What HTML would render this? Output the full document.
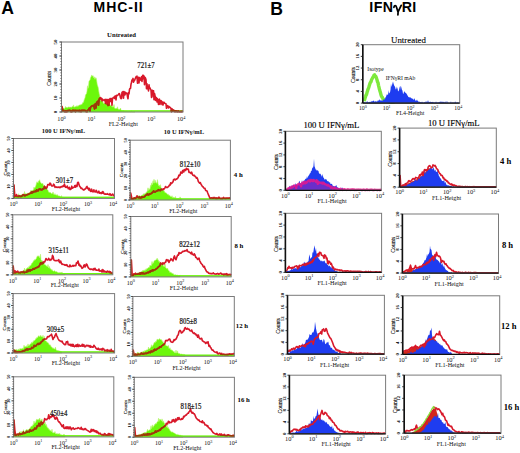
<!DOCTYPE html>
<html><head><meta charset="utf-8"><title>Figure</title>
<style>
html,body{margin:0;padding:0;background:#fff;}
body{width:520px;height:453px;overflow:hidden;font-family:"Liberation Sans", sans-serif;}
svg{display:block;}
</style></head>
<body>
<svg width="520" height="453" viewBox="0 0 520 453">
<rect width="520" height="453" fill="#fff"/>
<path d="M61.5 112 L61.5 110.38 L62 109.3 L62.5 108.67 L63 108.99 L63.5 107.72 L64 108.63 L64.5 108.56 L65 108.15 L65.5 106.44 L66 107.31 L66.5 107.52 L67 107.26 L67.5 107.73 L68 107.37 L68.5 106.98 L69 107.17 L69.5 107.27 L70 106.8 L70.5 107.27 L71 107.06 L71.5 107.4 L72 106.58 L72.5 106.31 L73 107.1 L73.5 104.92 L74 107.01 L74.5 107.11 L75 106.82 L75.5 106.57 L76 106.82 L76.5 106.23 L77 105.56 L77.5 106.27 L78 106.41 L78.5 105.7 L79 105.09 L79.5 105.03 L80 105.24 L80.5 105.03 L81 104.2 L81.5 104.52 L82 104.56 L82.5 102.97 L83 102.34 L83.5 102.59 L84 100.52 L84.5 98.93 L85 97.92 L85.5 95.11 L86 94.16 L86.5 93.73 L87 91.13 L87.5 85.75 L88 88.43 L88.5 86.83 L89 81.07 L89.5 80.62 L90 80.24 L90.5 77.64 L91 77.05 L91.5 75.33 L92 75.56 L92.5 76.21 L93 75.59 L93.5 77.97 L94 76.65 L94.5 77.45 L95 79.38 L95.5 77.86 L96.07 77.69 L96.63 80.57 L97.2 84.32 L97.7 85.92 L98.2 87.46 L98.7 90.71 L99.2 93.69 L99.7 95.54 L100.25 99 L100.8 100.62 L101.35 101.12 L101.9 101.36 L102.45 100.24 L103 102.18 L103.5 103.48 L104 103.61 L104.5 103.8 L105 102.8 L105.5 102.93 L106 103.76 L106.5 104.18 L107 103.97 L107.5 103.18 L108 104.53 L108.5 104.37 L109 103.58 L109.5 104.15 L110 105.43 L110.5 104.92 L111 105.72 L111.5 105.21 L112 106.62 L112.5 105.92 L113 107.37 L113.5 106.86 L114 104.45 L114.5 107.91 L115 108.58 L115.5 108.66 L116 108.05 L116.5 108.31 L117 108.82 L117.5 106.75 L118 108.89 L118.5 109.33 L119 109.34 L119.5 109.61 L120 108.92 L120.5 108.08 L121 109.85 L121.5 110.57 L122 110.38 L122.5 110.67 L123 110.36 L123.5 110.57 L124 111.11 L124.5 111.01 L125 111.38 L125.5 111.21 L126 111.21 L126.5 111.25 L127 111.35 L127.5 111.6 L128 111.7 L128.5 111.61 L129 111.67 L129.5 111.27 L130 111.39 L130.5 111.7 L131 111.52 L131.5 110.76 L132 111.7 L132.5 111.7 L133 111.7 L133.5 111.7 L134 111.7 L134.5 111.7 L135 111.7 L135 112 Z" fill="#6cf70c" stroke="#b6f56a" stroke-width="0.6"/>
<rect x="61.5" y="110.2" width="121.5" height="1.6" fill="#6cf70c"/>
<path d="M61.8 111.7 L62 106.44 L62.8 110.55 L63.35 110.45 L63.9 110.86 L64.45 111.43 L65 111.7 L65.5 110.92 L66 111.7 L66.5 111.01 L67 111.63 L67.5 110.82 L68 110.54 L68.5 110.7 L69 110.44 L69.5 110.38 L70 110.48 L70.5 110.52 L71 111.7 L71.5 111.44 L72 111.7 L72.5 110.42 L73 110.42 L73.5 110.37 L74 111.01 L74.5 110.59 L75 110.38 L75.5 111.7 L76 110.47 L76.5 110.63 L77 110.5 L77.5 110.69 L78 110.63 L78.5 110.55 L79 111.41 L79.5 110.33 L80 111.27 L80.5 110.64 L81 111.7 L81.5 110.42 L82 110.36 L82.5 110.41 L83 110.69 L83.5 110.4 L84 110.42 L84.5 110.39 L85 110.66 L85.5 110.64 L86 111.47 L86.5 111.54 L87 111.7 L87.5 110.51 L88 110.07 L88.5 109.55 L89 108.66 L89.5 107.94 L90 111.25 L90.5 107.35 L91 106.89 L91.5 106.16 L92 106 L92.5 105.94 L93 105.55 L93.5 105.37 L94 106.43 L94.5 108.91 L95 104.29 L95.5 103.96 L96 107.95 L96.5 103.05 L97 102.28 L97.5 101.3 L98 103.31 L98.5 105.2 L99 99.89 L99.5 98.65 L100 98.16 L100.5 97.6 L101 99.39 L101.5 98.21 L102 100.73 L102.5 99.19 L103 99.91 L103.5 99.96 L104 100.47 L104.5 99.82 L105 99.51 L105.5 103.29 L106 99.27 L106.5 101.59 L107 103.99 L107.5 99.46 L108 105.55 L108.5 99.63 L109 105.1 L109.5 100.27 L110 98.49 L110.5 101.54 L111 98.6 L111.5 98.46 L112 105.14 L112.5 98.68 L113 97.82 L113.5 97.41 L114 97.08 L114.5 98.41 L115 96.15 L115.5 96.06 L116 99.96 L116.5 95.39 L117 95.75 L117.5 95.29 L118 95.05 L118.5 94.38 L119 93.57 L119.5 93.7 L120 95.5 L120.5 97.9 L121 98.62 L121.5 98.54 L122 92.31 L122.5 94.59 L123 91.46 L123.5 98.31 L124 91.5 L124.5 93.33 L125 94.86 L125.5 92.26 L126 93.37 L126.5 93.17 L127 93.52 L127.5 96.71 L128 98.79 L128.5 92.63 L129 93.85 L129.5 89.4 L130 88.48 L130.5 88.45 L131 84.24 L131.5 82.22 L132 79.91 L132.5 79.77 L133 78.44 L133.5 82.29 L134 81.03 L134.5 80.53 L135 79.18 L135.5 78.2 L136 76.93 L136.5 76.42 L137 76.18 L137.5 83.23 L138 80.8 L138.5 77.28 L139 82.84 L139.5 77.65 L140 79.95 L140.5 78.43 L141 80.36 L141.5 76.83 L142 81.52 L142.5 75.97 L143 75.19 L143.5 78.77 L144 76.05 L144.5 84.75 L145 77.3 L145.5 78.14 L146 79.77 L146.5 88.8 L147 83.77 L147.5 88.78 L148 86.91 L148.5 90.84 L149 84.68 L149.5 88.31 L150 87.89 L150.5 89.15 L151 90.01 L151.5 97.34 L152 96.82 L152.5 90.38 L153 91.55 L153.5 90.78 L154 99.63 L154.5 93.47 L155 95.79 L155.5 100.38 L156 97.39 L156.5 97.61 L157 102.03 L157.5 98.89 L158 100.3 L158.5 104.45 L159 99.58 L159.5 99.19 L160 104.37 L160.5 101.21 L161 100.7 L161.5 101.1 L162 104.52 L162.5 102.1 L163 105.04 L163.5 102.25 L164 102.27 L164.5 103.05 L165 103.44 L165.5 103.5 L166 103.9 L166.5 108.29 L167 106.06 L167.5 105.53 L168 106.3 L168.5 107.98 L169 106.51 L169.5 107.25 L170 107.35 L170.5 107.94 L171 108.38 L171.5 111.7 L172 108.9 L172.5 109.32 L173 111.01 L173.5 109.98 L174 110.53 L174.5 110.58 L175 111.7 L175.5 110.93 L176 110.86 L176.5 111.15 L177 111.7 L177.5 111.7 L178 111.17 L178.5 111.13 L179 111.7 L179.5 111.7 L180 111.7 L180.5 111.7 L181 111.39 L181.5 111.7 L182 111.7 L182.5 111.37 L183 111.7" fill="none" stroke="#d8182a" stroke-width="1.6" stroke-linejoin="round"/>
<clipPath id="gc1"><path d="M61.5 112 L61.5 110.38 L62 109.3 L62.5 108.67 L63 108.99 L63.5 107.72 L64 108.63 L64.5 108.56 L65 108.15 L65.5 106.44 L66 107.31 L66.5 107.52 L67 107.26 L67.5 107.73 L68 107.37 L68.5 106.98 L69 107.17 L69.5 107.27 L70 106.8 L70.5 107.27 L71 107.06 L71.5 107.4 L72 106.58 L72.5 106.31 L73 107.1 L73.5 104.92 L74 107.01 L74.5 107.11 L75 106.82 L75.5 106.57 L76 106.82 L76.5 106.23 L77 105.56 L77.5 106.27 L78 106.41 L78.5 105.7 L79 105.09 L79.5 105.03 L80 105.24 L80.5 105.03 L81 104.2 L81.5 104.52 L82 104.56 L82.5 102.97 L83 102.34 L83.5 102.59 L84 100.52 L84.5 98.93 L85 97.92 L85.5 95.11 L86 94.16 L86.5 93.73 L87 91.13 L87.5 85.75 L88 88.43 L88.5 86.83 L89 81.07 L89.5 80.62 L90 80.24 L90.5 77.64 L91 77.05 L91.5 75.33 L92 75.56 L92.5 76.21 L93 75.59 L93.5 77.97 L94 76.65 L94.5 77.45 L95 79.38 L95.5 77.86 L96.07 77.69 L96.63 80.57 L97.2 84.32 L97.7 85.92 L98.2 87.46 L98.7 90.71 L99.2 93.69 L99.7 95.54 L100.25 99 L100.8 100.62 L101.35 101.12 L101.9 101.36 L102.45 100.24 L103 102.18 L103.5 103.48 L104 103.61 L104.5 103.8 L105 102.8 L105.5 102.93 L106 103.76 L106.5 104.18 L107 103.97 L107.5 103.18 L108 104.53 L108.5 104.37 L109 103.58 L109.5 104.15 L110 105.43 L110.5 104.92 L111 105.72 L111.5 105.21 L112 106.62 L112.5 105.92 L113 107.37 L113.5 106.86 L114 104.45 L114.5 107.91 L115 108.58 L115.5 108.66 L116 108.05 L116.5 108.31 L117 108.82 L117.5 106.75 L118 108.89 L118.5 109.33 L119 109.34 L119.5 109.61 L120 108.92 L120.5 108.08 L121 109.85 L121.5 110.57 L122 110.38 L122.5 110.67 L123 110.36 L123.5 110.57 L124 111.11 L124.5 111.01 L125 111.38 L125.5 111.21 L126 111.21 L126.5 111.25 L127 111.35 L127.5 111.6 L128 111.7 L128.5 111.61 L129 111.67 L129.5 111.27 L130 111.39 L130.5 111.7 L131 111.52 L131.5 110.76 L132 111.7 L132.5 111.7 L133 111.7 L133.5 111.7 L134 111.7 L134.5 111.7 L135 111.7 L135 112 Z"/><rect x="61.5" y="109.8" width="121.5" height="3"/><rect x="60.5" y="42" width="1.8" height="70"/></clipPath>
<path d="M61.8 111.7 L62 106.44 L62.8 110.55 L63.35 110.45 L63.9 110.86 L64.45 111.43 L65 111.7 L65.5 110.92 L66 111.7 L66.5 111.01 L67 111.63 L67.5 110.82 L68 110.54 L68.5 110.7 L69 110.44 L69.5 110.38 L70 110.48 L70.5 110.52 L71 111.7 L71.5 111.44 L72 111.7 L72.5 110.42 L73 110.42 L73.5 110.37 L74 111.01 L74.5 110.59 L75 110.38 L75.5 111.7 L76 110.47 L76.5 110.63 L77 110.5 L77.5 110.69 L78 110.63 L78.5 110.55 L79 111.41 L79.5 110.33 L80 111.27 L80.5 110.64 L81 111.7 L81.5 110.42 L82 110.36 L82.5 110.41 L83 110.69 L83.5 110.4 L84 110.42 L84.5 110.39 L85 110.66 L85.5 110.64 L86 111.47 L86.5 111.54 L87 111.7 L87.5 110.51 L88 110.07 L88.5 109.55 L89 108.66 L89.5 107.94 L90 111.25 L90.5 107.35 L91 106.89 L91.5 106.16 L92 106 L92.5 105.94 L93 105.55 L93.5 105.37 L94 106.43 L94.5 108.91 L95 104.29 L95.5 103.96 L96 107.95 L96.5 103.05 L97 102.28 L97.5 101.3 L98 103.31 L98.5 105.2 L99 99.89 L99.5 98.65 L100 98.16 L100.5 97.6 L101 99.39 L101.5 98.21 L102 100.73 L102.5 99.19 L103 99.91 L103.5 99.96 L104 100.47 L104.5 99.82 L105 99.51 L105.5 103.29 L106 99.27 L106.5 101.59 L107 103.99 L107.5 99.46 L108 105.55 L108.5 99.63 L109 105.1 L109.5 100.27 L110 98.49 L110.5 101.54 L111 98.6 L111.5 98.46 L112 105.14 L112.5 98.68 L113 97.82 L113.5 97.41 L114 97.08 L114.5 98.41 L115 96.15 L115.5 96.06 L116 99.96 L116.5 95.39 L117 95.75 L117.5 95.29 L118 95.05 L118.5 94.38 L119 93.57 L119.5 93.7 L120 95.5 L120.5 97.9 L121 98.62 L121.5 98.54 L122 92.31 L122.5 94.59 L123 91.46 L123.5 98.31 L124 91.5 L124.5 93.33 L125 94.86 L125.5 92.26 L126 93.37 L126.5 93.17 L127 93.52 L127.5 96.71 L128 98.79 L128.5 92.63 L129 93.85 L129.5 89.4 L130 88.48 L130.5 88.45 L131 84.24 L131.5 82.22 L132 79.91 L132.5 79.77 L133 78.44 L133.5 82.29 L134 81.03 L134.5 80.53 L135 79.18 L135.5 78.2 L136 76.93 L136.5 76.42 L137 76.18 L137.5 83.23 L138 80.8 L138.5 77.28 L139 82.84 L139.5 77.65 L140 79.95 L140.5 78.43 L141 80.36 L141.5 76.83 L142 81.52 L142.5 75.97 L143 75.19 L143.5 78.77 L144 76.05 L144.5 84.75 L145 77.3 L145.5 78.14 L146 79.77 L146.5 88.8 L147 83.77 L147.5 88.78 L148 86.91 L148.5 90.84 L149 84.68 L149.5 88.31 L150 87.89 L150.5 89.15 L151 90.01 L151.5 97.34 L152 96.82 L152.5 90.38 L153 91.55 L153.5 90.78 L154 99.63 L154.5 93.47 L155 95.79 L155.5 100.38 L156 97.39 L156.5 97.61 L157 102.03 L157.5 98.89 L158 100.3 L158.5 104.45 L159 99.58 L159.5 99.19 L160 104.37 L160.5 101.21 L161 100.7 L161.5 101.1 L162 104.52 L162.5 102.1 L163 105.04 L163.5 102.25 L164 102.27 L164.5 103.05 L165 103.44 L165.5 103.5 L166 103.9 L166.5 108.29 L167 106.06 L167.5 105.53 L168 106.3 L168.5 107.98 L169 106.51 L169.5 107.25 L170 107.35 L170.5 107.94 L171 108.38 L171.5 111.7 L172 108.9 L172.5 109.32 L173 111.01 L173.5 109.98 L174 110.53 L174.5 110.58 L175 111.7 L175.5 110.93 L176 110.86 L176.5 111.15 L177 111.7 L177.5 111.7 L178 111.17 L178.5 111.13 L179 111.7 L179.5 111.7 L180 111.7 L180.5 111.7 L181 111.39 L181.5 111.7 L182 111.7 L182.5 111.37 L183 111.7" fill="none" stroke="#9a3c08" stroke-width="1.7" stroke-linejoin="round" clip-path="url(#gc1)"/>
<rect x="61.5" y="42" width="121.5" height="70" fill="none" stroke="#7a7a7a" stroke-width="1"/>
<line x1="60.3" y1="42" x2="61.5" y2="42" stroke="#555" stroke-width="0.8"/>
<line x1="60.3" y1="44.8" x2="61.5" y2="44.8" stroke="#555" stroke-width="0.8"/>
<line x1="60.3" y1="47.6" x2="61.5" y2="47.6" stroke="#555" stroke-width="0.8"/>
<line x1="60.3" y1="50.4" x2="61.5" y2="50.4" stroke="#555" stroke-width="0.8"/>
<line x1="60.3" y1="53.2" x2="61.5" y2="53.2" stroke="#555" stroke-width="0.8"/>
<line x1="60.3" y1="56" x2="61.5" y2="56" stroke="#555" stroke-width="0.8"/>
<line x1="60.3" y1="58.8" x2="61.5" y2="58.8" stroke="#555" stroke-width="0.8"/>
<line x1="60.3" y1="61.6" x2="61.5" y2="61.6" stroke="#555" stroke-width="0.8"/>
<line x1="60.3" y1="64.4" x2="61.5" y2="64.4" stroke="#555" stroke-width="0.8"/>
<line x1="60.3" y1="67.2" x2="61.5" y2="67.2" stroke="#555" stroke-width="0.8"/>
<line x1="60.3" y1="70" x2="61.5" y2="70" stroke="#555" stroke-width="0.8"/>
<line x1="60.3" y1="72.8" x2="61.5" y2="72.8" stroke="#555" stroke-width="0.8"/>
<line x1="60.3" y1="75.6" x2="61.5" y2="75.6" stroke="#555" stroke-width="0.8"/>
<line x1="60.3" y1="78.4" x2="61.5" y2="78.4" stroke="#555" stroke-width="0.8"/>
<line x1="60.3" y1="81.2" x2="61.5" y2="81.2" stroke="#555" stroke-width="0.8"/>
<line x1="60.3" y1="84" x2="61.5" y2="84" stroke="#555" stroke-width="0.8"/>
<line x1="60.3" y1="86.8" x2="61.5" y2="86.8" stroke="#555" stroke-width="0.8"/>
<line x1="60.3" y1="89.6" x2="61.5" y2="89.6" stroke="#555" stroke-width="0.8"/>
<line x1="60.3" y1="92.4" x2="61.5" y2="92.4" stroke="#555" stroke-width="0.8"/>
<line x1="60.3" y1="95.2" x2="61.5" y2="95.2" stroke="#555" stroke-width="0.8"/>
<line x1="60.3" y1="98" x2="61.5" y2="98" stroke="#555" stroke-width="0.8"/>
<line x1="60.3" y1="100.8" x2="61.5" y2="100.8" stroke="#555" stroke-width="0.8"/>
<line x1="60.3" y1="103.6" x2="61.5" y2="103.6" stroke="#555" stroke-width="0.8"/>
<line x1="60.3" y1="106.4" x2="61.5" y2="106.4" stroke="#555" stroke-width="0.8"/>
<line x1="60.3" y1="109.2" x2="61.5" y2="109.2" stroke="#555" stroke-width="0.8"/>
<line x1="60.3" y1="112" x2="61.5" y2="112" stroke="#555" stroke-width="0.8"/>
<line x1="59.3" y1="42" x2="61.5" y2="42" stroke="#444" stroke-width="0.9"/>
<line x1="59.3" y1="56" x2="61.5" y2="56" stroke="#444" stroke-width="0.9"/>
<line x1="59.3" y1="70" x2="61.5" y2="70" stroke="#444" stroke-width="0.9"/>
<line x1="59.3" y1="84" x2="61.5" y2="84" stroke="#444" stroke-width="0.9"/>
<line x1="59.3" y1="98" x2="61.5" y2="98" stroke="#444" stroke-width="0.9"/>
<line x1="59.3" y1="112" x2="61.5" y2="112" stroke="#444" stroke-width="0.9"/>
<text transform="translate(56.8 42) rotate(-90)" font-family='"Liberation Serif", serif' font-size="4.8" font-weight="bold" text-anchor="middle" fill="#000">50</text>
<text transform="translate(56.8 56) rotate(-90)" font-family='"Liberation Serif", serif' font-size="4.8" font-weight="bold" text-anchor="middle" fill="#000">40</text>
<text transform="translate(56.8 70) rotate(-90)" font-family='"Liberation Serif", serif' font-size="4.8" font-weight="bold" text-anchor="middle" fill="#000">30</text>
<text transform="translate(56.8 84) rotate(-90)" font-family='"Liberation Serif", serif' font-size="4.8" font-weight="bold" text-anchor="middle" fill="#000">20</text>
<text transform="translate(56.8 98) rotate(-90)" font-family='"Liberation Serif", serif' font-size="4.8" font-weight="bold" text-anchor="middle" fill="#000">10</text>
<text transform="translate(56.8 112) rotate(-90)" font-family='"Liberation Serif", serif' font-size="4.8" font-weight="bold" text-anchor="middle" fill="#000">0</text>
<text transform="translate(50.6 78.4) rotate(-90)" font-family='"Liberation Serif", serif' font-size="5.2" text-anchor="middle" fill="#000" stroke="#000" stroke-width="0.12">Counts</text>
<text x="61.5" y="121" font-family='"Liberation Serif", serif' font-size="6.2" text-anchor="middle" fill="#111">10<tspan font-size="4.34" dy="-2.48">0</tspan></text>
<text x="91.42" y="121" font-family='"Liberation Serif", serif' font-size="6.2" text-anchor="middle" fill="#111">10<tspan font-size="4.34" dy="-2.48">1</tspan></text>
<text x="121.34" y="121" font-family='"Liberation Serif", serif' font-size="6.2" text-anchor="middle" fill="#111">10<tspan font-size="4.34" dy="-2.48">2</tspan></text>
<text x="151.26" y="121" font-family='"Liberation Serif", serif' font-size="6.2" text-anchor="middle" fill="#111">10<tspan font-size="4.34" dy="-2.48">3</tspan></text>
<text x="181.18" y="121" font-family='"Liberation Serif", serif' font-size="6.2" text-anchor="middle" fill="#111">10<tspan font-size="4.34" dy="-2.48">4</tspan></text>
<text x="123.25" y="125.8" font-family='"Liberation Serif", serif' font-size="6.2" text-anchor="middle" fill="#111">FL2-Height</text>
<text transform="translate(137.3 68.1) scale(1 1.2)" font-family='"Liberation Serif", serif' font-size="6.8" fill="#111" stroke="#111" stroke-width="0.18">721&#177;7</text>
<path d="M14 198.4 L14 196.95 L14.5 196.74 L15 196.98 L15.5 196.46 L16 196.98 L16.5 196.49 L17 196.21 L17.5 196.68 L18 195.73 L18.5 193.71 L19 195.72 L19.5 195.57 L20 195.51 L20.5 194.86 L21 195.41 L21.5 194.63 L22 194.8 L22.5 194.39 L23 194.68 L23.5 194.03 L24 194.73 L24.5 191.51 L25 194.65 L25.5 193.4 L26 193.72 L26.5 193.91 L27 193.22 L27.5 193.2 L28 193.91 L28.5 192.94 L29 193.13 L29.5 192.35 L30 193.36 L30.5 191.93 L31 190.06 L31.5 191.01 L32 191.14 L32.5 190.27 L33 190.2 L33.5 189.82 L34 186.97 L34.5 188.23 L35 187.87 L35.5 186.51 L36 185.23 L36.5 183.15 L37 181.69 L37.52 182.56 L38.04 183.2 L38.56 181.04 L39.08 180.96 L39.6 179.74 L40.2 182.16 L40.8 182.43 L41.4 183.4 L42 183.98 L42.5 183.11 L43 183.91 L43.5 185.56 L44 186.47 L44.5 185.19 L45 187.81 L45.5 187.3 L46 187.42 L46.5 188.4 L47 189.86 L47.5 189.68 L48 190.24 L48.5 191.64 L49 192.59 L49.5 192.38 L50 191.93 L50.5 192.86 L51 193.3 L51.5 193.76 L52 193.13 L52.5 193.44 L53 191.94 L53.5 193.62 L54 194.74 L54.5 194.55 L55 193.6 L55.5 194.89 L56 194.97 L56.5 194.73 L57 195.52 L57.5 194.61 L58 195.45 L58.5 196.04 L59 196.27 L59.5 195.98 L60 196.11 L60.5 196.82 L61 197.1 L61.5 195.61 L62 197.19 L62.5 197.41 L63 197.8 L63.5 197.39 L64 197.39 L64.5 197.81 L65 197.73 L65 198.4 Z" fill="#6cf70c" stroke="#b6f56a" stroke-width="0.6"/>
<rect x="13.5" y="196.6" width="101" height="1.6" fill="#6cf70c"/>
<path d="M13.8 197.82 L14 185 L14.8 196.06 L15.38 196.14 L15.96 195.93 L16.53 194.59 L17.11 196.38 L17.69 196.01 L18.27 196.47 L18.84 196.52 L19.42 195.64 L20 196.25 L20.56 196.52 L21.11 196.47 L21.67 196.04 L22.22 196.02 L22.78 194.76 L23.33 194.59 L23.89 194.72 L24.44 195.76 L25 195.65 L25.56 195.51 L26.11 194.89 L26.67 194.92 L27.22 194.72 L27.78 194.37 L28.33 194.3 L28.89 193.9 L29.44 193.77 L30 193.3 L30.56 192.97 L31.11 192.11 L31.67 193.15 L32.22 191.74 L32.78 192.54 L33.33 192.32 L33.89 191.61 L34.44 191.61 L35 191.75 L35.56 190.98 L36.11 191.5 L36.67 189.9 L37.22 190.45 L37.78 190.93 L38.33 190.77 L38.89 189.38 L39.44 189.2 L40 188.86 L40.56 189.65 L41.11 189.55 L41.67 189.9 L42.22 189.64 L42.78 188.75 L43.33 188.94 L43.89 188.7 L44.44 186.39 L45 188.13 L45.67 186.99 L46.33 188.41 L47 187.54 L47.8 184.49 L48.35 184.43 L48.9 184.85 L49.45 185.01 L50 183.07 L50.6 183.53 L51.2 185.28 L51.8 186 L52.4 186.03 L53 185.9 L53.67 184.16 L54.33 184.98 L55 187.38 L55.56 186.94 L56.11 186.86 L56.67 187.2 L57.22 187.46 L57.78 187.13 L58.33 187.01 L58.89 187.54 L59.44 187.13 L60 187.76 L60.56 187.04 L61.11 186.58 L61.67 186.98 L62.22 186.38 L62.78 186.7 L63.33 185.5 L63.89 186.42 L64.44 184.15 L65 186.11 L65.56 187.3 L66.11 187.39 L66.67 187.21 L67.22 186.03 L67.78 187.74 L68.33 188.76 L68.89 188.83 L69.44 187.36 L70 189.42 L70.6 189.46 L71.2 188.77 L71.8 186.16 L72.4 188.25 L73 187.69 L73.57 187.53 L74.14 187.17 L74.71 185.66 L75.29 187.2 L75.86 185.35 L76.43 186.6 L77 186.41 L77.65 182.5 L78.3 182.3 L78.9 184.24 L79.5 186.05 L80.25 186.93 L81 188.41 L81.6 188.04 L82.2 188.84 L82.8 189.21 L83.4 189.89 L84 189.92 L84.6 189.35 L85.2 189.11 L85.8 188.46 L86.4 187.08 L87 186.42 L87.6 188.53 L88.2 188.02 L88.8 190.01 L89.4 188.38 L90 190.1 L90.56 191.34 L91.11 191.33 L91.67 189.15 L92.22 191.33 L92.78 191.81 L93.33 191.64 L93.89 189.85 L94.44 191.78 L95 191.82 L95.56 191.92 L96.11 190.25 L96.67 191.13 L97.22 192.43 L97.78 192.66 L98.33 192.56 L98.89 191.19 L99.44 193.19 L100 192.74 L100.56 192.67 L101.11 193.55 L101.67 192.42 L102.22 193.25 L102.78 191.57 L103.33 192.03 L103.89 193.85 L104.44 194.01 L105 194.2 L105.56 193.91 L106.11 194.24 L106.67 194.29 L107.22 193.68 L107.78 194.32 L108.33 194.38 L108.89 194.55 L109.44 194.89 L110 193.64 L110.56 195.04 L111.12 195.23 L111.69 195.11 L112.25 194.25 L112.81 194.16 L113.38 195.49 L113.94 195.33 L114.5 195.51" fill="none" stroke="#d8182a" stroke-width="1.6" stroke-linejoin="round"/>
<clipPath id="gc2"><path d="M14 198.4 L14 196.95 L14.5 196.74 L15 196.98 L15.5 196.46 L16 196.98 L16.5 196.49 L17 196.21 L17.5 196.68 L18 195.73 L18.5 193.71 L19 195.72 L19.5 195.57 L20 195.51 L20.5 194.86 L21 195.41 L21.5 194.63 L22 194.8 L22.5 194.39 L23 194.68 L23.5 194.03 L24 194.73 L24.5 191.51 L25 194.65 L25.5 193.4 L26 193.72 L26.5 193.91 L27 193.22 L27.5 193.2 L28 193.91 L28.5 192.94 L29 193.13 L29.5 192.35 L30 193.36 L30.5 191.93 L31 190.06 L31.5 191.01 L32 191.14 L32.5 190.27 L33 190.2 L33.5 189.82 L34 186.97 L34.5 188.23 L35 187.87 L35.5 186.51 L36 185.23 L36.5 183.15 L37 181.69 L37.52 182.56 L38.04 183.2 L38.56 181.04 L39.08 180.96 L39.6 179.74 L40.2 182.16 L40.8 182.43 L41.4 183.4 L42 183.98 L42.5 183.11 L43 183.91 L43.5 185.56 L44 186.47 L44.5 185.19 L45 187.81 L45.5 187.3 L46 187.42 L46.5 188.4 L47 189.86 L47.5 189.68 L48 190.24 L48.5 191.64 L49 192.59 L49.5 192.38 L50 191.93 L50.5 192.86 L51 193.3 L51.5 193.76 L52 193.13 L52.5 193.44 L53 191.94 L53.5 193.62 L54 194.74 L54.5 194.55 L55 193.6 L55.5 194.89 L56 194.97 L56.5 194.73 L57 195.52 L57.5 194.61 L58 195.45 L58.5 196.04 L59 196.27 L59.5 195.98 L60 196.11 L60.5 196.82 L61 197.1 L61.5 195.61 L62 197.19 L62.5 197.41 L63 197.8 L63.5 197.39 L64 197.39 L64.5 197.81 L65 197.73 L65 198.4 Z"/><rect x="13.5" y="196.2" width="101" height="3"/><rect x="12.5" y="138.5" width="1.8" height="59.9"/></clipPath>
<path d="M13.8 197.82 L14 185 L14.8 196.06 L15.38 196.14 L15.96 195.93 L16.53 194.59 L17.11 196.38 L17.69 196.01 L18.27 196.47 L18.84 196.52 L19.42 195.64 L20 196.25 L20.56 196.52 L21.11 196.47 L21.67 196.04 L22.22 196.02 L22.78 194.76 L23.33 194.59 L23.89 194.72 L24.44 195.76 L25 195.65 L25.56 195.51 L26.11 194.89 L26.67 194.92 L27.22 194.72 L27.78 194.37 L28.33 194.3 L28.89 193.9 L29.44 193.77 L30 193.3 L30.56 192.97 L31.11 192.11 L31.67 193.15 L32.22 191.74 L32.78 192.54 L33.33 192.32 L33.89 191.61 L34.44 191.61 L35 191.75 L35.56 190.98 L36.11 191.5 L36.67 189.9 L37.22 190.45 L37.78 190.93 L38.33 190.77 L38.89 189.38 L39.44 189.2 L40 188.86 L40.56 189.65 L41.11 189.55 L41.67 189.9 L42.22 189.64 L42.78 188.75 L43.33 188.94 L43.89 188.7 L44.44 186.39 L45 188.13 L45.67 186.99 L46.33 188.41 L47 187.54 L47.8 184.49 L48.35 184.43 L48.9 184.85 L49.45 185.01 L50 183.07 L50.6 183.53 L51.2 185.28 L51.8 186 L52.4 186.03 L53 185.9 L53.67 184.16 L54.33 184.98 L55 187.38 L55.56 186.94 L56.11 186.86 L56.67 187.2 L57.22 187.46 L57.78 187.13 L58.33 187.01 L58.89 187.54 L59.44 187.13 L60 187.76 L60.56 187.04 L61.11 186.58 L61.67 186.98 L62.22 186.38 L62.78 186.7 L63.33 185.5 L63.89 186.42 L64.44 184.15 L65 186.11 L65.56 187.3 L66.11 187.39 L66.67 187.21 L67.22 186.03 L67.78 187.74 L68.33 188.76 L68.89 188.83 L69.44 187.36 L70 189.42 L70.6 189.46 L71.2 188.77 L71.8 186.16 L72.4 188.25 L73 187.69 L73.57 187.53 L74.14 187.17 L74.71 185.66 L75.29 187.2 L75.86 185.35 L76.43 186.6 L77 186.41 L77.65 182.5 L78.3 182.3 L78.9 184.24 L79.5 186.05 L80.25 186.93 L81 188.41 L81.6 188.04 L82.2 188.84 L82.8 189.21 L83.4 189.89 L84 189.92 L84.6 189.35 L85.2 189.11 L85.8 188.46 L86.4 187.08 L87 186.42 L87.6 188.53 L88.2 188.02 L88.8 190.01 L89.4 188.38 L90 190.1 L90.56 191.34 L91.11 191.33 L91.67 189.15 L92.22 191.33 L92.78 191.81 L93.33 191.64 L93.89 189.85 L94.44 191.78 L95 191.82 L95.56 191.92 L96.11 190.25 L96.67 191.13 L97.22 192.43 L97.78 192.66 L98.33 192.56 L98.89 191.19 L99.44 193.19 L100 192.74 L100.56 192.67 L101.11 193.55 L101.67 192.42 L102.22 193.25 L102.78 191.57 L103.33 192.03 L103.89 193.85 L104.44 194.01 L105 194.2 L105.56 193.91 L106.11 194.24 L106.67 194.29 L107.22 193.68 L107.78 194.32 L108.33 194.38 L108.89 194.55 L109.44 194.89 L110 193.64 L110.56 195.04 L111.12 195.23 L111.69 195.11 L112.25 194.25 L112.81 194.16 L113.38 195.49 L113.94 195.33 L114.5 195.51" fill="none" stroke="#9a3c08" stroke-width="1.7" stroke-linejoin="round" clip-path="url(#gc2)"/>
<rect x="13.5" y="138.5" width="101" height="59.9" fill="none" stroke="#7a7a7a" stroke-width="1"/>
<line x1="12.3" y1="138.5" x2="13.5" y2="138.5" stroke="#555" stroke-width="0.8"/>
<line x1="12.3" y1="140.9" x2="13.5" y2="140.9" stroke="#555" stroke-width="0.8"/>
<line x1="12.3" y1="143.29" x2="13.5" y2="143.29" stroke="#555" stroke-width="0.8"/>
<line x1="12.3" y1="145.69" x2="13.5" y2="145.69" stroke="#555" stroke-width="0.8"/>
<line x1="12.3" y1="148.08" x2="13.5" y2="148.08" stroke="#555" stroke-width="0.8"/>
<line x1="12.3" y1="150.48" x2="13.5" y2="150.48" stroke="#555" stroke-width="0.8"/>
<line x1="12.3" y1="152.88" x2="13.5" y2="152.88" stroke="#555" stroke-width="0.8"/>
<line x1="12.3" y1="155.27" x2="13.5" y2="155.27" stroke="#555" stroke-width="0.8"/>
<line x1="12.3" y1="157.67" x2="13.5" y2="157.67" stroke="#555" stroke-width="0.8"/>
<line x1="12.3" y1="160.06" x2="13.5" y2="160.06" stroke="#555" stroke-width="0.8"/>
<line x1="12.3" y1="162.46" x2="13.5" y2="162.46" stroke="#555" stroke-width="0.8"/>
<line x1="12.3" y1="164.86" x2="13.5" y2="164.86" stroke="#555" stroke-width="0.8"/>
<line x1="12.3" y1="167.25" x2="13.5" y2="167.25" stroke="#555" stroke-width="0.8"/>
<line x1="12.3" y1="169.65" x2="13.5" y2="169.65" stroke="#555" stroke-width="0.8"/>
<line x1="12.3" y1="172.04" x2="13.5" y2="172.04" stroke="#555" stroke-width="0.8"/>
<line x1="12.3" y1="174.44" x2="13.5" y2="174.44" stroke="#555" stroke-width="0.8"/>
<line x1="12.3" y1="176.84" x2="13.5" y2="176.84" stroke="#555" stroke-width="0.8"/>
<line x1="12.3" y1="179.23" x2="13.5" y2="179.23" stroke="#555" stroke-width="0.8"/>
<line x1="12.3" y1="181.63" x2="13.5" y2="181.63" stroke="#555" stroke-width="0.8"/>
<line x1="12.3" y1="184.02" x2="13.5" y2="184.02" stroke="#555" stroke-width="0.8"/>
<line x1="12.3" y1="186.42" x2="13.5" y2="186.42" stroke="#555" stroke-width="0.8"/>
<line x1="12.3" y1="188.82" x2="13.5" y2="188.82" stroke="#555" stroke-width="0.8"/>
<line x1="12.3" y1="191.21" x2="13.5" y2="191.21" stroke="#555" stroke-width="0.8"/>
<line x1="12.3" y1="193.61" x2="13.5" y2="193.61" stroke="#555" stroke-width="0.8"/>
<line x1="12.3" y1="196" x2="13.5" y2="196" stroke="#555" stroke-width="0.8"/>
<line x1="12.3" y1="198.4" x2="13.5" y2="198.4" stroke="#555" stroke-width="0.8"/>
<line x1="11.3" y1="138.5" x2="13.5" y2="138.5" stroke="#444" stroke-width="0.9"/>
<line x1="11.3" y1="150.48" x2="13.5" y2="150.48" stroke="#444" stroke-width="0.9"/>
<line x1="11.3" y1="162.46" x2="13.5" y2="162.46" stroke="#444" stroke-width="0.9"/>
<line x1="11.3" y1="174.44" x2="13.5" y2="174.44" stroke="#444" stroke-width="0.9"/>
<line x1="11.3" y1="186.42" x2="13.5" y2="186.42" stroke="#444" stroke-width="0.9"/>
<line x1="11.3" y1="198.4" x2="13.5" y2="198.4" stroke="#444" stroke-width="0.9"/>
<text transform="translate(10.1 138.5) rotate(-90)" font-family='"Liberation Serif", serif' font-size="4.5" font-weight="bold" text-anchor="middle" fill="#000">50</text>
<text transform="translate(10.1 150.48) rotate(-90)" font-family='"Liberation Serif", serif' font-size="4.5" font-weight="bold" text-anchor="middle" fill="#000">40</text>
<text transform="translate(10.1 162.46) rotate(-90)" font-family='"Liberation Serif", serif' font-size="4.5" font-weight="bold" text-anchor="middle" fill="#000">30</text>
<text transform="translate(10.1 174.44) rotate(-90)" font-family='"Liberation Serif", serif' font-size="4.5" font-weight="bold" text-anchor="middle" fill="#000">20</text>
<text transform="translate(10.1 186.42) rotate(-90)" font-family='"Liberation Serif", serif' font-size="4.5" font-weight="bold" text-anchor="middle" fill="#000">10</text>
<text transform="translate(10.1 198.4) rotate(-90)" font-family='"Liberation Serif", serif' font-size="4.5" font-weight="bold" text-anchor="middle" fill="#000">0</text>
<text transform="translate(6.6 168.45) rotate(-90)" font-family='"Liberation Serif", serif' font-size="5" text-anchor="middle" fill="#000" stroke="#000" stroke-width="0.12">Counts</text>
<text x="13.5" y="206.2" font-family='"Liberation Serif", serif' font-size="6" text-anchor="middle" fill="#111">10<tspan font-size="4.2" dy="-2.4">0</tspan></text>
<text x="38.37" y="206.2" font-family='"Liberation Serif", serif' font-size="6" text-anchor="middle" fill="#111">10<tspan font-size="4.2" dy="-2.4">1</tspan></text>
<text x="63.24" y="206.2" font-family='"Liberation Serif", serif' font-size="6" text-anchor="middle" fill="#111">10<tspan font-size="4.2" dy="-2.4">2</tspan></text>
<text x="88.11" y="206.2" font-family='"Liberation Serif", serif' font-size="6" text-anchor="middle" fill="#111">10<tspan font-size="4.2" dy="-2.4">3</tspan></text>
<text x="112.98" y="206.2" font-family='"Liberation Serif", serif' font-size="6" text-anchor="middle" fill="#111">10<tspan font-size="4.2" dy="-2.4">4</tspan></text>
<text x="66" y="210.6" font-family='"Liberation Serif", serif' font-size="6" text-anchor="middle" fill="#111">FL2-Height</text>
<text transform="translate(55.8 182.9) scale(1 1.2)" font-family='"Liberation Serif", serif' font-size="6.8" fill="#111" stroke="#111" stroke-width="0.18">301&#177;7</text>
<path d="M131 200 L131 197.59 L131.5 198.53 L132 198.64 L132.5 198.14 L133 198.31 L133.5 197.86 L134 197.85 L134.5 197.46 L135 197.45 L135.5 197.18 L136 197.81 L136.5 197.49 L137 196.85 L137.5 196.98 L138 195.39 L138.5 197 L139 195.86 L139.5 195.63 L140 196.56 L140.5 196 L141 196.07 L141.5 195.46 L142 195.31 L142.5 195.05 L143 194.79 L143.5 194.18 L144 193.42 L144.5 194.39 L145 193.38 L145.5 193.57 L146 192.38 L146.5 192.2 L147 191.8 L147.5 190.39 L148 187.75 L148.5 190.57 L149 188.44 L149.5 189.36 L150 189.42 L150.5 185.37 L151 186.56 L151.5 182.88 L152 184.87 L152.5 184.17 L153 180.78 L153.5 183.2 L154 179.32 L154.57 183.18 L155.15 180.28 L155.73 182.48 L156.3 182.6 L156.87 183.45 L157.43 179.68 L158 183.49 L158.5 185.16 L159 186.03 L159.5 185.13 L160 186.72 L160.5 184.63 L161 187.59 L161.5 188.68 L162 188.88 L162.5 190.33 L163 190.19 L163.5 189.86 L164 191.4 L164.5 191.31 L165 192.8 L165.5 192.64 L166 192.8 L166.5 193.14 L167 193.87 L167.5 194.57 L168 193.89 L168.5 194.77 L169 195.59 L169.5 194.92 L170 196.19 L170.5 196.2 L171 196.84 L171.5 196.95 L172 195.66 L172.5 197.52 L173 197.62 L173.5 197.22 L174 197.83 L174.5 197.5 L175 198.2 L175.5 196.48 L176 198.5 L176.5 198.47 L177 198.89 L177.5 198.57 L178 198.36 L178.5 198.41 L179 198.62 L179.5 198.7 L180 196.82 L180.5 197.7 L181 199.18 L181.5 199.07 L182 199 L182 200 Z" fill="#6cf70c" stroke="#b6f56a" stroke-width="0.6"/>
<rect x="130.2" y="198.2" width="100.2" height="1.6" fill="#6cf70c"/>
<path d="M130.5 199.67 L130.7 192.99 L131.35 195.87 L132 198.97 L132.6 199.01 L133.2 198.99 L133.8 198.09 L134.4 197.74 L135 198.66 L135.67 198.21 L136.33 197.29 L137 195.81 L137.6 197.08 L138.2 197.47 L138.8 197.68 L139.4 196.72 L140 197.87 L140.56 197.72 L141.11 197.86 L141.67 196.71 L142.22 197.44 L142.78 196.94 L143.33 197.13 L143.89 196.93 L144.44 196.71 L145 196.29 L145.6 195.27 L146.2 195.19 L146.8 194.65 L147.4 193.87 L148 194.84 L148.67 194.89 L149.33 194.11 L150 193.75 L150.6 193.92 L151.2 193.37 L151.8 193.31 L152.4 192.18 L153 192.2 L153.6 190.94 L154.2 191.94 L154.8 191.66 L155.4 191.93 L156 191.27 L156.6 191.17 L157.2 190.83 L157.8 190.59 L158.4 189.77 L159 190.35 L159.6 190.18 L160.2 190.66 L160.8 189.66 L161.4 189.04 L162 189.85 L162.6 189.34 L163.2 188.75 L163.8 189.35 L164.4 188.56 L165 187.58 L165.62 186.48 L166.25 187.51 L166.88 187.43 L167.5 187.5 L168.12 186.64 L168.75 186.42 L169.38 185.02 L170 185.2 L170.6 182.89 L171.2 183.66 L171.8 183.52 L172.4 182.17 L173 181.98 L173.6 179.45 L174.2 179.69 L174.8 179.17 L175.4 179.95 L176 179.14 L176.67 179.3 L177.33 178.33 L178 177.89 L179 175.06 L179.6 175.56 L180.2 174.71 L180.8 172.05 L181.4 172.71 L182 173.24 L182.6 170.61 L183.2 170.44 L183.8 172.08 L184.4 169.5 L185 170.26 L185.67 170.49 L186.33 168.29 L187 169.1 L187.67 168.97 L188.33 169.27 L189 172.46 L189.67 172.25 L190.33 172.69 L191 173.46 L191.67 172.21 L192.33 174.27 L193 175.31 L193.67 175.65 L194.33 175.22 L195 176.46 L195.67 176.75 L196.33 178.13 L197 177.7 L197.67 179.13 L198.33 181.43 L199 182.39 L199.67 183.11 L200.33 182.51 L201 184.3 L201.67 185.14 L202.33 186.51 L203 186.8 L203.67 187.78 L204.33 188.5 L205 188.38 L205.67 190.5 L206.33 190.67 L207 190.89 L207.75 193.01 L208.5 194.94 L209.5 197.15 L210.12 198.16 L210.75 198.03 L211.38 197.86 L212 197.98 L212.57 198.07 L213.14 197.47 L213.71 198.07 L214.29 197.54 L214.86 197.55 L215.43 198.12 L216 198.37 L216.57 197.92 L217.14 198.36 L217.71 198.02 L218.29 198.21 L218.86 197.09 L219.43 197.83 L220 198.23 L220.58 198.34 L221.16 198.41 L221.73 198.36 L222.31 198.35 L222.89 198.35 L223.47 197.45 L224.04 197.96 L224.62 198.21 L225.2 198.36 L225.78 198.1 L226.36 198.29 L226.93 198.04 L227.51 198.06 L228.09 197.97 L228.67 198.08 L229.24 197.95 L229.82 198.18 L230.4 197.42" fill="none" stroke="#d8182a" stroke-width="1.6" stroke-linejoin="round"/>
<clipPath id="gc3"><path d="M131 200 L131 197.59 L131.5 198.53 L132 198.64 L132.5 198.14 L133 198.31 L133.5 197.86 L134 197.85 L134.5 197.46 L135 197.45 L135.5 197.18 L136 197.81 L136.5 197.49 L137 196.85 L137.5 196.98 L138 195.39 L138.5 197 L139 195.86 L139.5 195.63 L140 196.56 L140.5 196 L141 196.07 L141.5 195.46 L142 195.31 L142.5 195.05 L143 194.79 L143.5 194.18 L144 193.42 L144.5 194.39 L145 193.38 L145.5 193.57 L146 192.38 L146.5 192.2 L147 191.8 L147.5 190.39 L148 187.75 L148.5 190.57 L149 188.44 L149.5 189.36 L150 189.42 L150.5 185.37 L151 186.56 L151.5 182.88 L152 184.87 L152.5 184.17 L153 180.78 L153.5 183.2 L154 179.32 L154.57 183.18 L155.15 180.28 L155.73 182.48 L156.3 182.6 L156.87 183.45 L157.43 179.68 L158 183.49 L158.5 185.16 L159 186.03 L159.5 185.13 L160 186.72 L160.5 184.63 L161 187.59 L161.5 188.68 L162 188.88 L162.5 190.33 L163 190.19 L163.5 189.86 L164 191.4 L164.5 191.31 L165 192.8 L165.5 192.64 L166 192.8 L166.5 193.14 L167 193.87 L167.5 194.57 L168 193.89 L168.5 194.77 L169 195.59 L169.5 194.92 L170 196.19 L170.5 196.2 L171 196.84 L171.5 196.95 L172 195.66 L172.5 197.52 L173 197.62 L173.5 197.22 L174 197.83 L174.5 197.5 L175 198.2 L175.5 196.48 L176 198.5 L176.5 198.47 L177 198.89 L177.5 198.57 L178 198.36 L178.5 198.41 L179 198.62 L179.5 198.7 L180 196.82 L180.5 197.7 L181 199.18 L181.5 199.07 L182 199 L182 200 Z"/><rect x="130.2" y="197.8" width="100.2" height="3"/><rect x="129.2" y="140.2" width="1.8" height="59.8"/></clipPath>
<path d="M130.5 199.67 L130.7 192.99 L131.35 195.87 L132 198.97 L132.6 199.01 L133.2 198.99 L133.8 198.09 L134.4 197.74 L135 198.66 L135.67 198.21 L136.33 197.29 L137 195.81 L137.6 197.08 L138.2 197.47 L138.8 197.68 L139.4 196.72 L140 197.87 L140.56 197.72 L141.11 197.86 L141.67 196.71 L142.22 197.44 L142.78 196.94 L143.33 197.13 L143.89 196.93 L144.44 196.71 L145 196.29 L145.6 195.27 L146.2 195.19 L146.8 194.65 L147.4 193.87 L148 194.84 L148.67 194.89 L149.33 194.11 L150 193.75 L150.6 193.92 L151.2 193.37 L151.8 193.31 L152.4 192.18 L153 192.2 L153.6 190.94 L154.2 191.94 L154.8 191.66 L155.4 191.93 L156 191.27 L156.6 191.17 L157.2 190.83 L157.8 190.59 L158.4 189.77 L159 190.35 L159.6 190.18 L160.2 190.66 L160.8 189.66 L161.4 189.04 L162 189.85 L162.6 189.34 L163.2 188.75 L163.8 189.35 L164.4 188.56 L165 187.58 L165.62 186.48 L166.25 187.51 L166.88 187.43 L167.5 187.5 L168.12 186.64 L168.75 186.42 L169.38 185.02 L170 185.2 L170.6 182.89 L171.2 183.66 L171.8 183.52 L172.4 182.17 L173 181.98 L173.6 179.45 L174.2 179.69 L174.8 179.17 L175.4 179.95 L176 179.14 L176.67 179.3 L177.33 178.33 L178 177.89 L179 175.06 L179.6 175.56 L180.2 174.71 L180.8 172.05 L181.4 172.71 L182 173.24 L182.6 170.61 L183.2 170.44 L183.8 172.08 L184.4 169.5 L185 170.26 L185.67 170.49 L186.33 168.29 L187 169.1 L187.67 168.97 L188.33 169.27 L189 172.46 L189.67 172.25 L190.33 172.69 L191 173.46 L191.67 172.21 L192.33 174.27 L193 175.31 L193.67 175.65 L194.33 175.22 L195 176.46 L195.67 176.75 L196.33 178.13 L197 177.7 L197.67 179.13 L198.33 181.43 L199 182.39 L199.67 183.11 L200.33 182.51 L201 184.3 L201.67 185.14 L202.33 186.51 L203 186.8 L203.67 187.78 L204.33 188.5 L205 188.38 L205.67 190.5 L206.33 190.67 L207 190.89 L207.75 193.01 L208.5 194.94 L209.5 197.15 L210.12 198.16 L210.75 198.03 L211.38 197.86 L212 197.98 L212.57 198.07 L213.14 197.47 L213.71 198.07 L214.29 197.54 L214.86 197.55 L215.43 198.12 L216 198.37 L216.57 197.92 L217.14 198.36 L217.71 198.02 L218.29 198.21 L218.86 197.09 L219.43 197.83 L220 198.23 L220.58 198.34 L221.16 198.41 L221.73 198.36 L222.31 198.35 L222.89 198.35 L223.47 197.45 L224.04 197.96 L224.62 198.21 L225.2 198.36 L225.78 198.1 L226.36 198.29 L226.93 198.04 L227.51 198.06 L228.09 197.97 L228.67 198.08 L229.24 197.95 L229.82 198.18 L230.4 197.42" fill="none" stroke="#9a3c08" stroke-width="1.7" stroke-linejoin="round" clip-path="url(#gc3)"/>
<rect x="130.2" y="140.2" width="100.2" height="59.8" fill="none" stroke="#7a7a7a" stroke-width="1"/>
<line x1="129" y1="140.2" x2="130.2" y2="140.2" stroke="#555" stroke-width="0.8"/>
<line x1="129" y1="142.59" x2="130.2" y2="142.59" stroke="#555" stroke-width="0.8"/>
<line x1="129" y1="144.98" x2="130.2" y2="144.98" stroke="#555" stroke-width="0.8"/>
<line x1="129" y1="147.38" x2="130.2" y2="147.38" stroke="#555" stroke-width="0.8"/>
<line x1="129" y1="149.77" x2="130.2" y2="149.77" stroke="#555" stroke-width="0.8"/>
<line x1="129" y1="152.16" x2="130.2" y2="152.16" stroke="#555" stroke-width="0.8"/>
<line x1="129" y1="154.55" x2="130.2" y2="154.55" stroke="#555" stroke-width="0.8"/>
<line x1="129" y1="156.94" x2="130.2" y2="156.94" stroke="#555" stroke-width="0.8"/>
<line x1="129" y1="159.34" x2="130.2" y2="159.34" stroke="#555" stroke-width="0.8"/>
<line x1="129" y1="161.73" x2="130.2" y2="161.73" stroke="#555" stroke-width="0.8"/>
<line x1="129" y1="164.12" x2="130.2" y2="164.12" stroke="#555" stroke-width="0.8"/>
<line x1="129" y1="166.51" x2="130.2" y2="166.51" stroke="#555" stroke-width="0.8"/>
<line x1="129" y1="168.9" x2="130.2" y2="168.9" stroke="#555" stroke-width="0.8"/>
<line x1="129" y1="171.3" x2="130.2" y2="171.3" stroke="#555" stroke-width="0.8"/>
<line x1="129" y1="173.69" x2="130.2" y2="173.69" stroke="#555" stroke-width="0.8"/>
<line x1="129" y1="176.08" x2="130.2" y2="176.08" stroke="#555" stroke-width="0.8"/>
<line x1="129" y1="178.47" x2="130.2" y2="178.47" stroke="#555" stroke-width="0.8"/>
<line x1="129" y1="180.86" x2="130.2" y2="180.86" stroke="#555" stroke-width="0.8"/>
<line x1="129" y1="183.26" x2="130.2" y2="183.26" stroke="#555" stroke-width="0.8"/>
<line x1="129" y1="185.65" x2="130.2" y2="185.65" stroke="#555" stroke-width="0.8"/>
<line x1="129" y1="188.04" x2="130.2" y2="188.04" stroke="#555" stroke-width="0.8"/>
<line x1="129" y1="190.43" x2="130.2" y2="190.43" stroke="#555" stroke-width="0.8"/>
<line x1="129" y1="192.82" x2="130.2" y2="192.82" stroke="#555" stroke-width="0.8"/>
<line x1="129" y1="195.22" x2="130.2" y2="195.22" stroke="#555" stroke-width="0.8"/>
<line x1="129" y1="197.61" x2="130.2" y2="197.61" stroke="#555" stroke-width="0.8"/>
<line x1="129" y1="200" x2="130.2" y2="200" stroke="#555" stroke-width="0.8"/>
<line x1="128" y1="140.2" x2="130.2" y2="140.2" stroke="#444" stroke-width="0.9"/>
<line x1="128" y1="152.16" x2="130.2" y2="152.16" stroke="#444" stroke-width="0.9"/>
<line x1="128" y1="164.12" x2="130.2" y2="164.12" stroke="#444" stroke-width="0.9"/>
<line x1="128" y1="176.08" x2="130.2" y2="176.08" stroke="#444" stroke-width="0.9"/>
<line x1="128" y1="188.04" x2="130.2" y2="188.04" stroke="#444" stroke-width="0.9"/>
<line x1="128" y1="200" x2="130.2" y2="200" stroke="#444" stroke-width="0.9"/>
<text transform="translate(126.8 140.2) rotate(-90)" font-family='"Liberation Serif", serif' font-size="4.5" font-weight="bold" text-anchor="middle" fill="#000">50</text>
<text transform="translate(126.8 152.16) rotate(-90)" font-family='"Liberation Serif", serif' font-size="4.5" font-weight="bold" text-anchor="middle" fill="#000">40</text>
<text transform="translate(126.8 164.12) rotate(-90)" font-family='"Liberation Serif", serif' font-size="4.5" font-weight="bold" text-anchor="middle" fill="#000">30</text>
<text transform="translate(126.8 176.08) rotate(-90)" font-family='"Liberation Serif", serif' font-size="4.5" font-weight="bold" text-anchor="middle" fill="#000">20</text>
<text transform="translate(126.8 188.04) rotate(-90)" font-family='"Liberation Serif", serif' font-size="4.5" font-weight="bold" text-anchor="middle" fill="#000">10</text>
<text transform="translate(126.8 200) rotate(-90)" font-family='"Liberation Serif", serif' font-size="4.5" font-weight="bold" text-anchor="middle" fill="#000">0</text>
<text transform="translate(123.3 170.1) rotate(-90)" font-family='"Liberation Serif", serif' font-size="5" text-anchor="middle" fill="#000" stroke="#000" stroke-width="0.12">Counts</text>
<text x="130.2" y="207.8" font-family='"Liberation Serif", serif' font-size="6" text-anchor="middle" fill="#111">10<tspan font-size="4.2" dy="-2.4">0</tspan></text>
<text x="154.87" y="207.8" font-family='"Liberation Serif", serif' font-size="6" text-anchor="middle" fill="#111">10<tspan font-size="4.2" dy="-2.4">1</tspan></text>
<text x="179.55" y="207.8" font-family='"Liberation Serif", serif' font-size="6" text-anchor="middle" fill="#111">10<tspan font-size="4.2" dy="-2.4">2</tspan></text>
<text x="204.22" y="207.8" font-family='"Liberation Serif", serif' font-size="6" text-anchor="middle" fill="#111">10<tspan font-size="4.2" dy="-2.4">3</tspan></text>
<text x="228.9" y="207.8" font-family='"Liberation Serif", serif' font-size="6" text-anchor="middle" fill="#111">10<tspan font-size="4.2" dy="-2.4">4</tspan></text>
<text x="183.3" y="213.2" font-family='"Liberation Serif", serif' font-size="6" text-anchor="middle" fill="#111">FL2-Height</text>
<text transform="translate(179.8 166.5) scale(1 1.2)" font-family='"Liberation Serif", serif' font-size="6.8" fill="#111" stroke="#111" stroke-width="0.18">812&#177;10</text>
<path d="M13 274.8 L13 272.18 L13.5 270.7 L14 272.29 L14.5 272.79 L15 272.1 L15.5 272.7 L16 272.4 L16.5 272.74 L17 272.3 L17.5 272.25 L18 272.39 L18.5 272 L19 271.96 L19.5 272.28 L20 271.61 L20.5 271.74 L21 271.73 L21.5 271.99 L22 271.18 L22.5 271.64 L23 270.89 L23.5 270.25 L24 271.05 L24.5 268.01 L25 270.3 L25.5 270.31 L26 269.15 L26.5 268.57 L27 268.47 L27.5 267.61 L28 267.82 L28.5 268.01 L29 266.17 L29.5 266.92 L30 265.41 L30.5 265.96 L31 265.02 L31.5 264.07 L32 263 L32.5 262.8 L33 262.22 L33.5 260.76 L34 260.95 L34.5 259.58 L35 260.22 L35.5 259.52 L36 258.88 L36.5 258.16 L37 256.41 L37.5 255.93 L38 256.6 L38.5 255.99 L39 255.77 L39.5 257.46 L40 257.77 L40.5 254.27 L41 259.79 L41.5 260.53 L42 260.05 L42.5 261.95 L43 262.58 L43.5 262.22 L44 262.59 L44.5 264.47 L45 265.07 L45.5 264.79 L46 265.58 L46.5 266.12 L47 266.23 L47.5 267.02 L48 264.48 L48.5 267.72 L49 267.87 L49.5 266.47 L50 268.85 L50.5 268.86 L51 268.83 L51.5 270.25 L52 269.62 L52.5 270.59 L53 271.12 L53.5 271.35 L54 270.73 L54.5 270.87 L55 271.28 L55.5 271.8 L56 271.57 L56.5 271.69 L57 271.74 L57.5 272.34 L58 272.73 L58.5 272.76 L59 272.56 L59.5 272.49 L60 273.38 L60.5 272.24 L61 273.11 L61.5 272.59 L62 271.91 L62.5 273.35 L63 273.99 L63.5 274.06 L64 273.53 L64.5 273.56 L65 274.16 L65 274.8 Z" fill="#6cf70c" stroke="#b6f56a" stroke-width="0.6"/>
<rect x="12.8" y="273" width="100" height="1.6" fill="#6cf70c"/>
<path d="M13 274.47 L13.2 266.15 L14 272.92 L15 270.82 L15.56 272.63 L16.11 271.64 L16.67 272.33 L17.22 271.65 L17.78 271.16 L18.33 272.54 L18.89 272.36 L19.44 272.6 L20 272.22 L20.56 272.66 L21.11 272.24 L21.67 271.86 L22.22 272.28 L22.78 272.34 L23.33 271.4 L23.89 272.44 L24.44 272.69 L25 272.27 L25.6 272.26 L26.2 272.21 L26.8 272.1 L27.4 270.31 L28 271.46 L28.57 270.06 L29.14 270.77 L29.71 269.81 L30.29 270.96 L30.86 269.88 L31.43 270.12 L32 269.79 L32.6 269.44 L33.2 268.62 L33.8 269.11 L34.4 269.13 L35 268.35 L35.6 267.92 L36.2 267.77 L36.8 267.64 L37.4 267.03 L38 267.08 L38.67 266.73 L39.33 265.67 L40 264.63 L40.67 262.8 L41.33 263.16 L42 263.97 L42.67 262.31 L43.33 263.15 L44 261.59 L44.67 261.99 L45.33 260.6 L46 258.48 L46.67 259.65 L47.33 259.99 L48 259.96 L48.67 258.33 L49.33 259.33 L50 260.36 L50.67 259.33 L51.33 259.7 L52 258.64 L52.5 255.39 L53.2 256.67 L53.8 259.81 L54.4 260.55 L55 260.52 L55.67 260.74 L56.33 260.67 L57 260.43 L57.6 260.59 L58.2 260.85 L58.8 259.69 L59.4 262.07 L60 262.68 L60.67 261.11 L61.33 263.2 L62 264.33 L62.6 264.13 L63.2 264.55 L63.8 264.53 L64.4 264.74 L65 265.29 L65.6 264.9 L66.2 265.35 L66.8 264.68 L67.4 265.65 L68 266.41 L68.67 266.48 L69.33 266.73 L70 264.93 L70.6 266.49 L71.2 266.36 L71.8 266.18 L72.4 265.93 L73 265.36 L73.57 266.08 L74.14 265.5 L74.71 265.67 L75.29 265.64 L75.86 265.7 L76.43 262.92 L77 263.27 L78 260.97 L79 265.28 L79.6 264.36 L80.2 266.17 L80.8 265.75 L81.4 267.15 L82 268.29 L82.6 267.97 L83.2 267.29 L83.8 265.55 L84.4 264.83 L85 267.05 L85.67 266.02 L86.33 263.95 L87 264.56 L88 267.27 L88.67 268.16 L89.33 268.8 L90 269.28 L90.56 269.42 L91.11 268.98 L91.67 269.22 L92.22 269.58 L92.78 269.28 L93.33 269.84 L93.89 268.5 L94.44 269.6 L95 268.31 L95.56 269.44 L96.11 270.19 L96.67 269.87 L97.22 270.18 L97.78 270.34 L98.33 270.53 L98.89 268.97 L99.44 270.91 L100 271.2 L100.56 270.8 L101.11 271 L101.67 271.57 L102.22 269.6 L102.78 271.67 L103.33 270.09 L103.89 271.71 L104.44 271.1 L105 271.83 L105.56 271.47 L106.11 272.03 L106.67 272.21 L107.22 271 L107.78 271.2 L108.33 272.02 L108.89 271.74 L109.44 271.35 L110 272.52 L110.56 271.81 L111.12 272.85 L111.68 272.95 L112.24 272.97 L112.8 272.88" fill="none" stroke="#d8182a" stroke-width="1.6" stroke-linejoin="round"/>
<clipPath id="gc4"><path d="M13 274.8 L13 272.18 L13.5 270.7 L14 272.29 L14.5 272.79 L15 272.1 L15.5 272.7 L16 272.4 L16.5 272.74 L17 272.3 L17.5 272.25 L18 272.39 L18.5 272 L19 271.96 L19.5 272.28 L20 271.61 L20.5 271.74 L21 271.73 L21.5 271.99 L22 271.18 L22.5 271.64 L23 270.89 L23.5 270.25 L24 271.05 L24.5 268.01 L25 270.3 L25.5 270.31 L26 269.15 L26.5 268.57 L27 268.47 L27.5 267.61 L28 267.82 L28.5 268.01 L29 266.17 L29.5 266.92 L30 265.41 L30.5 265.96 L31 265.02 L31.5 264.07 L32 263 L32.5 262.8 L33 262.22 L33.5 260.76 L34 260.95 L34.5 259.58 L35 260.22 L35.5 259.52 L36 258.88 L36.5 258.16 L37 256.41 L37.5 255.93 L38 256.6 L38.5 255.99 L39 255.77 L39.5 257.46 L40 257.77 L40.5 254.27 L41 259.79 L41.5 260.53 L42 260.05 L42.5 261.95 L43 262.58 L43.5 262.22 L44 262.59 L44.5 264.47 L45 265.07 L45.5 264.79 L46 265.58 L46.5 266.12 L47 266.23 L47.5 267.02 L48 264.48 L48.5 267.72 L49 267.87 L49.5 266.47 L50 268.85 L50.5 268.86 L51 268.83 L51.5 270.25 L52 269.62 L52.5 270.59 L53 271.12 L53.5 271.35 L54 270.73 L54.5 270.87 L55 271.28 L55.5 271.8 L56 271.57 L56.5 271.69 L57 271.74 L57.5 272.34 L58 272.73 L58.5 272.76 L59 272.56 L59.5 272.49 L60 273.38 L60.5 272.24 L61 273.11 L61.5 272.59 L62 271.91 L62.5 273.35 L63 273.99 L63.5 274.06 L64 273.53 L64.5 273.56 L65 274.16 L65 274.8 Z"/><rect x="12.8" y="272.6" width="100" height="3"/><rect x="11.8" y="214.8" width="1.8" height="60"/></clipPath>
<path d="M13 274.47 L13.2 266.15 L14 272.92 L15 270.82 L15.56 272.63 L16.11 271.64 L16.67 272.33 L17.22 271.65 L17.78 271.16 L18.33 272.54 L18.89 272.36 L19.44 272.6 L20 272.22 L20.56 272.66 L21.11 272.24 L21.67 271.86 L22.22 272.28 L22.78 272.34 L23.33 271.4 L23.89 272.44 L24.44 272.69 L25 272.27 L25.6 272.26 L26.2 272.21 L26.8 272.1 L27.4 270.31 L28 271.46 L28.57 270.06 L29.14 270.77 L29.71 269.81 L30.29 270.96 L30.86 269.88 L31.43 270.12 L32 269.79 L32.6 269.44 L33.2 268.62 L33.8 269.11 L34.4 269.13 L35 268.35 L35.6 267.92 L36.2 267.77 L36.8 267.64 L37.4 267.03 L38 267.08 L38.67 266.73 L39.33 265.67 L40 264.63 L40.67 262.8 L41.33 263.16 L42 263.97 L42.67 262.31 L43.33 263.15 L44 261.59 L44.67 261.99 L45.33 260.6 L46 258.48 L46.67 259.65 L47.33 259.99 L48 259.96 L48.67 258.33 L49.33 259.33 L50 260.36 L50.67 259.33 L51.33 259.7 L52 258.64 L52.5 255.39 L53.2 256.67 L53.8 259.81 L54.4 260.55 L55 260.52 L55.67 260.74 L56.33 260.67 L57 260.43 L57.6 260.59 L58.2 260.85 L58.8 259.69 L59.4 262.07 L60 262.68 L60.67 261.11 L61.33 263.2 L62 264.33 L62.6 264.13 L63.2 264.55 L63.8 264.53 L64.4 264.74 L65 265.29 L65.6 264.9 L66.2 265.35 L66.8 264.68 L67.4 265.65 L68 266.41 L68.67 266.48 L69.33 266.73 L70 264.93 L70.6 266.49 L71.2 266.36 L71.8 266.18 L72.4 265.93 L73 265.36 L73.57 266.08 L74.14 265.5 L74.71 265.67 L75.29 265.64 L75.86 265.7 L76.43 262.92 L77 263.27 L78 260.97 L79 265.28 L79.6 264.36 L80.2 266.17 L80.8 265.75 L81.4 267.15 L82 268.29 L82.6 267.97 L83.2 267.29 L83.8 265.55 L84.4 264.83 L85 267.05 L85.67 266.02 L86.33 263.95 L87 264.56 L88 267.27 L88.67 268.16 L89.33 268.8 L90 269.28 L90.56 269.42 L91.11 268.98 L91.67 269.22 L92.22 269.58 L92.78 269.28 L93.33 269.84 L93.89 268.5 L94.44 269.6 L95 268.31 L95.56 269.44 L96.11 270.19 L96.67 269.87 L97.22 270.18 L97.78 270.34 L98.33 270.53 L98.89 268.97 L99.44 270.91 L100 271.2 L100.56 270.8 L101.11 271 L101.67 271.57 L102.22 269.6 L102.78 271.67 L103.33 270.09 L103.89 271.71 L104.44 271.1 L105 271.83 L105.56 271.47 L106.11 272.03 L106.67 272.21 L107.22 271 L107.78 271.2 L108.33 272.02 L108.89 271.74 L109.44 271.35 L110 272.52 L110.56 271.81 L111.12 272.85 L111.68 272.95 L112.24 272.97 L112.8 272.88" fill="none" stroke="#9a3c08" stroke-width="1.7" stroke-linejoin="round" clip-path="url(#gc4)"/>
<rect x="12.8" y="214.8" width="100" height="60" fill="none" stroke="#7a7a7a" stroke-width="1"/>
<line x1="11.6" y1="214.8" x2="12.8" y2="214.8" stroke="#555" stroke-width="0.8"/>
<line x1="11.6" y1="217.2" x2="12.8" y2="217.2" stroke="#555" stroke-width="0.8"/>
<line x1="11.6" y1="219.6" x2="12.8" y2="219.6" stroke="#555" stroke-width="0.8"/>
<line x1="11.6" y1="222" x2="12.8" y2="222" stroke="#555" stroke-width="0.8"/>
<line x1="11.6" y1="224.4" x2="12.8" y2="224.4" stroke="#555" stroke-width="0.8"/>
<line x1="11.6" y1="226.8" x2="12.8" y2="226.8" stroke="#555" stroke-width="0.8"/>
<line x1="11.6" y1="229.2" x2="12.8" y2="229.2" stroke="#555" stroke-width="0.8"/>
<line x1="11.6" y1="231.6" x2="12.8" y2="231.6" stroke="#555" stroke-width="0.8"/>
<line x1="11.6" y1="234" x2="12.8" y2="234" stroke="#555" stroke-width="0.8"/>
<line x1="11.6" y1="236.4" x2="12.8" y2="236.4" stroke="#555" stroke-width="0.8"/>
<line x1="11.6" y1="238.8" x2="12.8" y2="238.8" stroke="#555" stroke-width="0.8"/>
<line x1="11.6" y1="241.2" x2="12.8" y2="241.2" stroke="#555" stroke-width="0.8"/>
<line x1="11.6" y1="243.6" x2="12.8" y2="243.6" stroke="#555" stroke-width="0.8"/>
<line x1="11.6" y1="246" x2="12.8" y2="246" stroke="#555" stroke-width="0.8"/>
<line x1="11.6" y1="248.4" x2="12.8" y2="248.4" stroke="#555" stroke-width="0.8"/>
<line x1="11.6" y1="250.8" x2="12.8" y2="250.8" stroke="#555" stroke-width="0.8"/>
<line x1="11.6" y1="253.2" x2="12.8" y2="253.2" stroke="#555" stroke-width="0.8"/>
<line x1="11.6" y1="255.6" x2="12.8" y2="255.6" stroke="#555" stroke-width="0.8"/>
<line x1="11.6" y1="258" x2="12.8" y2="258" stroke="#555" stroke-width="0.8"/>
<line x1="11.6" y1="260.4" x2="12.8" y2="260.4" stroke="#555" stroke-width="0.8"/>
<line x1="11.6" y1="262.8" x2="12.8" y2="262.8" stroke="#555" stroke-width="0.8"/>
<line x1="11.6" y1="265.2" x2="12.8" y2="265.2" stroke="#555" stroke-width="0.8"/>
<line x1="11.6" y1="267.6" x2="12.8" y2="267.6" stroke="#555" stroke-width="0.8"/>
<line x1="11.6" y1="270" x2="12.8" y2="270" stroke="#555" stroke-width="0.8"/>
<line x1="11.6" y1="272.4" x2="12.8" y2="272.4" stroke="#555" stroke-width="0.8"/>
<line x1="11.6" y1="274.8" x2="12.8" y2="274.8" stroke="#555" stroke-width="0.8"/>
<line x1="10.6" y1="214.8" x2="12.8" y2="214.8" stroke="#444" stroke-width="0.9"/>
<line x1="10.6" y1="226.8" x2="12.8" y2="226.8" stroke="#444" stroke-width="0.9"/>
<line x1="10.6" y1="238.8" x2="12.8" y2="238.8" stroke="#444" stroke-width="0.9"/>
<line x1="10.6" y1="250.8" x2="12.8" y2="250.8" stroke="#444" stroke-width="0.9"/>
<line x1="10.6" y1="262.8" x2="12.8" y2="262.8" stroke="#444" stroke-width="0.9"/>
<line x1="10.6" y1="274.8" x2="12.8" y2="274.8" stroke="#444" stroke-width="0.9"/>
<text transform="translate(9.4 214.8) rotate(-90)" font-family='"Liberation Serif", serif' font-size="4.5" font-weight="bold" text-anchor="middle" fill="#000">50</text>
<text transform="translate(9.4 226.8) rotate(-90)" font-family='"Liberation Serif", serif' font-size="4.5" font-weight="bold" text-anchor="middle" fill="#000">40</text>
<text transform="translate(9.4 238.8) rotate(-90)" font-family='"Liberation Serif", serif' font-size="4.5" font-weight="bold" text-anchor="middle" fill="#000">30</text>
<text transform="translate(9.4 250.8) rotate(-90)" font-family='"Liberation Serif", serif' font-size="4.5" font-weight="bold" text-anchor="middle" fill="#000">20</text>
<text transform="translate(9.4 262.8) rotate(-90)" font-family='"Liberation Serif", serif' font-size="4.5" font-weight="bold" text-anchor="middle" fill="#000">10</text>
<text transform="translate(9.4 274.8) rotate(-90)" font-family='"Liberation Serif", serif' font-size="4.5" font-weight="bold" text-anchor="middle" fill="#000">0</text>
<text transform="translate(5.9 244.8) rotate(-90)" font-family='"Liberation Serif", serif' font-size="5" text-anchor="middle" fill="#000" stroke="#000" stroke-width="0.12">Counts</text>
<text x="12.8" y="282.6" font-family='"Liberation Serif", serif' font-size="6" text-anchor="middle" fill="#111">10<tspan font-size="4.2" dy="-2.4">0</tspan></text>
<text x="37.42" y="282.6" font-family='"Liberation Serif", serif' font-size="6" text-anchor="middle" fill="#111">10<tspan font-size="4.2" dy="-2.4">1</tspan></text>
<text x="62.05" y="282.6" font-family='"Liberation Serif", serif' font-size="6" text-anchor="middle" fill="#111">10<tspan font-size="4.2" dy="-2.4">2</tspan></text>
<text x="86.67" y="282.6" font-family='"Liberation Serif", serif' font-size="6" text-anchor="middle" fill="#111">10<tspan font-size="4.2" dy="-2.4">3</tspan></text>
<text x="111.3" y="282.6" font-family='"Liberation Serif", serif' font-size="6" text-anchor="middle" fill="#111">10<tspan font-size="4.2" dy="-2.4">4</tspan></text>
<text x="64.8" y="287" font-family='"Liberation Serif", serif' font-size="6" text-anchor="middle" fill="#111">FL2-Height</text>
<text transform="translate(48.5 253.1) scale(1 1.2)" font-family='"Liberation Serif", serif' font-size="6.8" fill="#111" stroke="#111" stroke-width="0.18">315&#177;11</text>
<path d="M131 276.9 L131 275.41 L131.5 275.1 L132 275.06 L132.5 274.68 L133 274.39 L133.5 273.61 L134 274.11 L134.5 274.15 L135 273.77 L135.5 273.74 L136 274.22 L136.5 273.61 L137 273.33 L137.5 272.88 L138 272.99 L138.5 273.12 L139 272.69 L139.5 272.38 L140 272.66 L140.5 272.13 L141 271.97 L141.5 271.24 L142 272.09 L142.5 270.54 L143 270.74 L143.5 270.42 L144 270.14 L144.5 270.84 L145 269.63 L145.5 270.42 L146 268.77 L146.5 269.64 L147 268.18 L147.5 268.46 L148 268.29 L148.5 267.28 L149 267.81 L149.5 266.92 L150 265.09 L150.5 265.64 L151 265.79 L151.5 265.58 L152 261.38 L152.5 264.2 L153 262.59 L153.5 263.18 L154 261.3 L154.5 260.81 L155 260.11 L155.5 260.19 L156 259.94 L156.5 259.5 L157 258.24 L157.5 258.72 L158 260.38 L158.5 260.08 L159 262.03 L159.5 261.28 L160 263.15 L160.5 262.91 L161 264.09 L161.5 264.89 L162 264.78 L162.5 262.39 L163 265.34 L163.5 266.43 L164 265.48 L164.5 266.98 L165 263.95 L165.5 267.16 L166 268.07 L166.5 268.33 L167 269.01 L167.5 267.99 L168 269.44 L168.5 270.43 L169 270.46 L169.5 271.44 L170 272.63 L170.5 272.02 L171 272.39 L171.5 272.67 L172 273.61 L172.5 273.38 L173 273.61 L173.5 273.87 L174 274.93 L174.5 274.93 L175 274.58 L175.5 274.91 L176 274.72 L176.5 275.26 L177 275.37 L177.5 275.15 L178 275.42 L178.5 275.98 L179 276.1 L179.5 275.56 L180 274.95 L180 276.9 Z" fill="#6cf70c" stroke="#b6f56a" stroke-width="0.6"/>
<rect x="130.8" y="275.1" width="100.4" height="1.6" fill="#6cf70c"/>
<path d="M131.2 276.38 L131.4 260.16 L132.2 275.32 L132.76 275.48 L133.32 275.27 L133.88 273.78 L134.44 274.08 L135 274.37 L135.56 273.15 L136.11 274.3 L136.67 274.15 L137.22 274.1 L137.78 274.06 L138.33 273.99 L138.89 273.47 L139.44 274.05 L140 272.79 L140.56 274.14 L141.11 273.19 L141.67 272.83 L142.22 273.73 L142.78 272.72 L143.33 273.75 L143.89 273.64 L144.44 273.81 L145 273.62 L145.56 273.24 L146.11 273.42 L146.67 272.94 L147.22 272.64 L147.78 272.39 L148.33 272.74 L148.89 272.4 L149.44 271.5 L150 272.2 L150.6 270.87 L151.2 271.29 L151.8 271.13 L152.4 269.91 L153 270.72 L153.6 270.26 L154.2 269.73 L154.8 269.76 L155.4 269.44 L156 269.02 L156.67 268.62 L157.33 268.09 L158 267.3 L158.67 266.66 L159.33 266.15 L160 265.52 L160.75 262.83 L161.5 264.02 L162.25 264.27 L163 262.72 L163.67 263.97 L164.33 263.76 L165 262.23 L165.67 262.28 L166.33 259.72 L167 259.65 L167.67 260.93 L168.33 260.15 L169 262.42 L169.67 260.96 L170.33 260.26 L171 258.69 L171.67 259.55 L172.33 260.1 L173 260.86 L173.75 257.64 L174.5 255.91 L175.25 258.8 L176 259.77 L177 256.62 L177.67 255.03 L178.33 255.28 L179 252.49 L179.67 253.54 L180.33 253.13 L181 253.15 L181.67 252.35 L182.33 252.08 L183 251.19 L183.67 251.55 L184.33 251.34 L185 250.56 L185.67 250.88 L186.33 251 L187 249.57 L187.67 251.29 L188.33 252.01 L189 251.97 L189.67 252.44 L190.33 253.01 L191 253.67 L191.67 252.15 L192.33 254.55 L193 254.24 L193.67 255.1 L194.33 253.82 L195 254.88 L195.67 257.36 L196.33 257.42 L197 258.43 L197.67 259.45 L198.33 258.73 L199 258.02 L199.67 260.81 L200.33 261.84 L201 263.29 L201.67 264.01 L202.33 264.65 L203 266.28 L203.67 267.09 L204.33 266.34 L205 268.41 L205.75 269.99 L206.5 271.42 L207.25 272.08 L208 272.37 L208.67 273.18 L209.33 273.37 L210 273.38 L210.56 273.45 L211.11 273.77 L211.67 273.64 L212.22 273.69 L212.78 273.55 L213.33 272.84 L213.89 273.67 L214.44 273.78 L215 274.03 L215.56 274 L216.11 274.09 L216.67 273.85 L217.22 273.82 L217.78 273.41 L218.33 274.14 L218.89 273.96 L219.44 273.88 L220 273.69 L220.56 273.13 L221.11 273.19 L221.67 274.08 L222.22 274.05 L222.78 274.19 L223.33 274.16 L223.89 274.62 L224.44 274.22 L225 273.81 L225.56 274.3 L226.13 274.61 L226.69 273.61 L227.25 274.32 L227.82 274.74 L228.38 274.51 L228.95 274.43 L229.51 274.5 L230.07 274.3 L230.64 274.68 L231.2 274.07" fill="none" stroke="#d8182a" stroke-width="1.6" stroke-linejoin="round"/>
<clipPath id="gc5"><path d="M131 276.9 L131 275.41 L131.5 275.1 L132 275.06 L132.5 274.68 L133 274.39 L133.5 273.61 L134 274.11 L134.5 274.15 L135 273.77 L135.5 273.74 L136 274.22 L136.5 273.61 L137 273.33 L137.5 272.88 L138 272.99 L138.5 273.12 L139 272.69 L139.5 272.38 L140 272.66 L140.5 272.13 L141 271.97 L141.5 271.24 L142 272.09 L142.5 270.54 L143 270.74 L143.5 270.42 L144 270.14 L144.5 270.84 L145 269.63 L145.5 270.42 L146 268.77 L146.5 269.64 L147 268.18 L147.5 268.46 L148 268.29 L148.5 267.28 L149 267.81 L149.5 266.92 L150 265.09 L150.5 265.64 L151 265.79 L151.5 265.58 L152 261.38 L152.5 264.2 L153 262.59 L153.5 263.18 L154 261.3 L154.5 260.81 L155 260.11 L155.5 260.19 L156 259.94 L156.5 259.5 L157 258.24 L157.5 258.72 L158 260.38 L158.5 260.08 L159 262.03 L159.5 261.28 L160 263.15 L160.5 262.91 L161 264.09 L161.5 264.89 L162 264.78 L162.5 262.39 L163 265.34 L163.5 266.43 L164 265.48 L164.5 266.98 L165 263.95 L165.5 267.16 L166 268.07 L166.5 268.33 L167 269.01 L167.5 267.99 L168 269.44 L168.5 270.43 L169 270.46 L169.5 271.44 L170 272.63 L170.5 272.02 L171 272.39 L171.5 272.67 L172 273.61 L172.5 273.38 L173 273.61 L173.5 273.87 L174 274.93 L174.5 274.93 L175 274.58 L175.5 274.91 L176 274.72 L176.5 275.26 L177 275.37 L177.5 275.15 L178 275.42 L178.5 275.98 L179 276.1 L179.5 275.56 L180 274.95 L180 276.9 Z"/><rect x="130.8" y="274.7" width="100.4" height="3"/><rect x="129.8" y="216.5" width="1.8" height="60.4"/></clipPath>
<path d="M131.2 276.38 L131.4 260.16 L132.2 275.32 L132.76 275.48 L133.32 275.27 L133.88 273.78 L134.44 274.08 L135 274.37 L135.56 273.15 L136.11 274.3 L136.67 274.15 L137.22 274.1 L137.78 274.06 L138.33 273.99 L138.89 273.47 L139.44 274.05 L140 272.79 L140.56 274.14 L141.11 273.19 L141.67 272.83 L142.22 273.73 L142.78 272.72 L143.33 273.75 L143.89 273.64 L144.44 273.81 L145 273.62 L145.56 273.24 L146.11 273.42 L146.67 272.94 L147.22 272.64 L147.78 272.39 L148.33 272.74 L148.89 272.4 L149.44 271.5 L150 272.2 L150.6 270.87 L151.2 271.29 L151.8 271.13 L152.4 269.91 L153 270.72 L153.6 270.26 L154.2 269.73 L154.8 269.76 L155.4 269.44 L156 269.02 L156.67 268.62 L157.33 268.09 L158 267.3 L158.67 266.66 L159.33 266.15 L160 265.52 L160.75 262.83 L161.5 264.02 L162.25 264.27 L163 262.72 L163.67 263.97 L164.33 263.76 L165 262.23 L165.67 262.28 L166.33 259.72 L167 259.65 L167.67 260.93 L168.33 260.15 L169 262.42 L169.67 260.96 L170.33 260.26 L171 258.69 L171.67 259.55 L172.33 260.1 L173 260.86 L173.75 257.64 L174.5 255.91 L175.25 258.8 L176 259.77 L177 256.62 L177.67 255.03 L178.33 255.28 L179 252.49 L179.67 253.54 L180.33 253.13 L181 253.15 L181.67 252.35 L182.33 252.08 L183 251.19 L183.67 251.55 L184.33 251.34 L185 250.56 L185.67 250.88 L186.33 251 L187 249.57 L187.67 251.29 L188.33 252.01 L189 251.97 L189.67 252.44 L190.33 253.01 L191 253.67 L191.67 252.15 L192.33 254.55 L193 254.24 L193.67 255.1 L194.33 253.82 L195 254.88 L195.67 257.36 L196.33 257.42 L197 258.43 L197.67 259.45 L198.33 258.73 L199 258.02 L199.67 260.81 L200.33 261.84 L201 263.29 L201.67 264.01 L202.33 264.65 L203 266.28 L203.67 267.09 L204.33 266.34 L205 268.41 L205.75 269.99 L206.5 271.42 L207.25 272.08 L208 272.37 L208.67 273.18 L209.33 273.37 L210 273.38 L210.56 273.45 L211.11 273.77 L211.67 273.64 L212.22 273.69 L212.78 273.55 L213.33 272.84 L213.89 273.67 L214.44 273.78 L215 274.03 L215.56 274 L216.11 274.09 L216.67 273.85 L217.22 273.82 L217.78 273.41 L218.33 274.14 L218.89 273.96 L219.44 273.88 L220 273.69 L220.56 273.13 L221.11 273.19 L221.67 274.08 L222.22 274.05 L222.78 274.19 L223.33 274.16 L223.89 274.62 L224.44 274.22 L225 273.81 L225.56 274.3 L226.13 274.61 L226.69 273.61 L227.25 274.32 L227.82 274.74 L228.38 274.51 L228.95 274.43 L229.51 274.5 L230.07 274.3 L230.64 274.68 L231.2 274.07" fill="none" stroke="#9a3c08" stroke-width="1.7" stroke-linejoin="round" clip-path="url(#gc5)"/>
<rect x="130.8" y="216.5" width="100.4" height="60.4" fill="none" stroke="#7a7a7a" stroke-width="1"/>
<line x1="129.6" y1="216.5" x2="130.8" y2="216.5" stroke="#555" stroke-width="0.8"/>
<line x1="129.6" y1="218.92" x2="130.8" y2="218.92" stroke="#555" stroke-width="0.8"/>
<line x1="129.6" y1="221.33" x2="130.8" y2="221.33" stroke="#555" stroke-width="0.8"/>
<line x1="129.6" y1="223.75" x2="130.8" y2="223.75" stroke="#555" stroke-width="0.8"/>
<line x1="129.6" y1="226.16" x2="130.8" y2="226.16" stroke="#555" stroke-width="0.8"/>
<line x1="129.6" y1="228.58" x2="130.8" y2="228.58" stroke="#555" stroke-width="0.8"/>
<line x1="129.6" y1="231" x2="130.8" y2="231" stroke="#555" stroke-width="0.8"/>
<line x1="129.6" y1="233.41" x2="130.8" y2="233.41" stroke="#555" stroke-width="0.8"/>
<line x1="129.6" y1="235.83" x2="130.8" y2="235.83" stroke="#555" stroke-width="0.8"/>
<line x1="129.6" y1="238.24" x2="130.8" y2="238.24" stroke="#555" stroke-width="0.8"/>
<line x1="129.6" y1="240.66" x2="130.8" y2="240.66" stroke="#555" stroke-width="0.8"/>
<line x1="129.6" y1="243.08" x2="130.8" y2="243.08" stroke="#555" stroke-width="0.8"/>
<line x1="129.6" y1="245.49" x2="130.8" y2="245.49" stroke="#555" stroke-width="0.8"/>
<line x1="129.6" y1="247.91" x2="130.8" y2="247.91" stroke="#555" stroke-width="0.8"/>
<line x1="129.6" y1="250.32" x2="130.8" y2="250.32" stroke="#555" stroke-width="0.8"/>
<line x1="129.6" y1="252.74" x2="130.8" y2="252.74" stroke="#555" stroke-width="0.8"/>
<line x1="129.6" y1="255.16" x2="130.8" y2="255.16" stroke="#555" stroke-width="0.8"/>
<line x1="129.6" y1="257.57" x2="130.8" y2="257.57" stroke="#555" stroke-width="0.8"/>
<line x1="129.6" y1="259.99" x2="130.8" y2="259.99" stroke="#555" stroke-width="0.8"/>
<line x1="129.6" y1="262.4" x2="130.8" y2="262.4" stroke="#555" stroke-width="0.8"/>
<line x1="129.6" y1="264.82" x2="130.8" y2="264.82" stroke="#555" stroke-width="0.8"/>
<line x1="129.6" y1="267.24" x2="130.8" y2="267.24" stroke="#555" stroke-width="0.8"/>
<line x1="129.6" y1="269.65" x2="130.8" y2="269.65" stroke="#555" stroke-width="0.8"/>
<line x1="129.6" y1="272.07" x2="130.8" y2="272.07" stroke="#555" stroke-width="0.8"/>
<line x1="129.6" y1="274.48" x2="130.8" y2="274.48" stroke="#555" stroke-width="0.8"/>
<line x1="129.6" y1="276.9" x2="130.8" y2="276.9" stroke="#555" stroke-width="0.8"/>
<line x1="128.6" y1="216.5" x2="130.8" y2="216.5" stroke="#444" stroke-width="0.9"/>
<line x1="128.6" y1="228.58" x2="130.8" y2="228.58" stroke="#444" stroke-width="0.9"/>
<line x1="128.6" y1="240.66" x2="130.8" y2="240.66" stroke="#444" stroke-width="0.9"/>
<line x1="128.6" y1="252.74" x2="130.8" y2="252.74" stroke="#444" stroke-width="0.9"/>
<line x1="128.6" y1="264.82" x2="130.8" y2="264.82" stroke="#444" stroke-width="0.9"/>
<line x1="128.6" y1="276.9" x2="130.8" y2="276.9" stroke="#444" stroke-width="0.9"/>
<text transform="translate(127.4 216.5) rotate(-90)" font-family='"Liberation Serif", serif' font-size="4.5" font-weight="bold" text-anchor="middle" fill="#000">50</text>
<text transform="translate(127.4 228.58) rotate(-90)" font-family='"Liberation Serif", serif' font-size="4.5" font-weight="bold" text-anchor="middle" fill="#000">40</text>
<text transform="translate(127.4 240.66) rotate(-90)" font-family='"Liberation Serif", serif' font-size="4.5" font-weight="bold" text-anchor="middle" fill="#000">30</text>
<text transform="translate(127.4 252.74) rotate(-90)" font-family='"Liberation Serif", serif' font-size="4.5" font-weight="bold" text-anchor="middle" fill="#000">20</text>
<text transform="translate(127.4 264.82) rotate(-90)" font-family='"Liberation Serif", serif' font-size="4.5" font-weight="bold" text-anchor="middle" fill="#000">10</text>
<text transform="translate(127.4 276.9) rotate(-90)" font-family='"Liberation Serif", serif' font-size="4.5" font-weight="bold" text-anchor="middle" fill="#000">0</text>
<text transform="translate(123.9 246.7) rotate(-90)" font-family='"Liberation Serif", serif' font-size="5" text-anchor="middle" fill="#000" stroke="#000" stroke-width="0.12">Counts</text>
<text x="130.8" y="284.7" font-family='"Liberation Serif", serif' font-size="6" text-anchor="middle" fill="#111">10<tspan font-size="4.2" dy="-2.4">0</tspan></text>
<text x="155.52" y="284.7" font-family='"Liberation Serif", serif' font-size="6" text-anchor="middle" fill="#111">10<tspan font-size="4.2" dy="-2.4">1</tspan></text>
<text x="180.25" y="284.7" font-family='"Liberation Serif", serif' font-size="6" text-anchor="middle" fill="#111">10<tspan font-size="4.2" dy="-2.4">2</tspan></text>
<text x="204.97" y="284.7" font-family='"Liberation Serif", serif' font-size="6" text-anchor="middle" fill="#111">10<tspan font-size="4.2" dy="-2.4">3</tspan></text>
<text x="229.69" y="284.7" font-family='"Liberation Serif", serif' font-size="6" text-anchor="middle" fill="#111">10<tspan font-size="4.2" dy="-2.4">4</tspan></text>
<text x="184" y="290.1" font-family='"Liberation Serif", serif' font-size="6" text-anchor="middle" fill="#111">FL2-Height</text>
<text transform="translate(179.3 247.1) scale(1 1.2)" font-family='"Liberation Serif", serif' font-size="6.8" fill="#111" stroke="#111" stroke-width="0.18">822&#177;12</text>
<path d="M14 353 L14 349.8 L14.5 350.39 L15 349.1 L15.5 350.45 L16 350.38 L16.5 349.33 L17 349.74 L17.5 350.04 L18 350.05 L18.5 349.18 L19 349.17 L19.5 349.93 L20 348.32 L20.5 348.88 L21 348.71 L21.5 348.78 L22 348.96 L22.5 348.14 L23 348.14 L23.5 348.64 L24 345.2 L24.5 347.25 L25 346.35 L25.5 346.85 L26 347.07 L26.5 346.39 L27 345.46 L27.5 346.85 L28 343.88 L28.5 345.8 L29 345.67 L29.5 344.91 L30 344.54 L30.5 343.84 L31 344.1 L31.5 342.33 L32 342.63 L32.5 343.06 L33 341.33 L33.5 341.75 L34 340.27 L34.5 340.93 L35 339.79 L35.5 339.51 L36 338.17 L36.5 338.42 L37 337.29 L37.5 338.05 L38 336.4 L38.56 335.99 L39.12 335.77 L39.68 336.92 L40.24 336.17 L40.8 335.19 L41.35 336.63 L41.9 336.67 L42.45 337.24 L43 335.34 L43.5 337.8 L44 339.47 L44.5 336.43 L45 340.39 L45.5 340.65 L46 341.37 L46.5 341.34 L47 342.57 L47.5 342.24 L48 343.13 L48.5 342.95 L49 344.53 L49.5 345.1 L50 344.61 L50.5 345.17 L51 346.66 L51.5 346.86 L52 347.46 L52.5 347.81 L53 348.48 L53.5 347.84 L54 349.1 L54.5 349.11 L55 348.49 L55.5 347.18 L56 349.83 L56.5 350.19 L57 350.25 L57.5 351.05 L58 350.09 L58.5 351.19 L59 351.3 L59.5 350.93 L60 351.02 L60.5 351.31 L61 352.14 L61.5 351.65 L62 352.13 L62 353 Z" fill="#6cf70c" stroke="#b6f56a" stroke-width="0.6"/>
<rect x="13.2" y="351.2" width="101.4" height="1.6" fill="#6cf70c"/>
<path d="M13.5 352.7 L13.7 350.28 L14.35 350.2 L15 352.37 L15.56 351.14 L16.11 352.37 L16.67 352.23 L17.22 352.11 L17.78 352.38 L18.33 352.11 L18.89 352.29 L19.44 351.87 L20 351.97 L20.56 351.77 L21.11 351.73 L21.67 351.51 L22.22 351.54 L22.78 351.09 L23.33 350.76 L23.89 350.94 L24.44 350.64 L25 350.73 L25.56 349.65 L26.11 349.95 L26.67 349.04 L27.22 348.92 L27.78 349.82 L28.33 349.36 L28.89 349.2 L29.44 349.11 L30 349.1 L30.6 348.82 L31.2 348.72 L31.8 347.48 L32.4 347.85 L33 347.72 L33.6 346.93 L34.2 345.43 L34.8 346.34 L35.4 345.95 L36 345.91 L36.6 344.85 L37.2 344.4 L37.8 343.67 L38.4 344.31 L39 343.4 L39.6 343.86 L40.2 343.31 L40.8 342.76 L41.4 341.67 L42 341.47 L42.67 340.83 L43.33 339.61 L44 339.43 L44.67 338.95 L45.33 339.09 L46 339.03 L46.67 338.74 L47.33 336.99 L48 336.53 L48.67 336.94 L49.33 336.24 L50 335.57 L50.75 335.16 L51.5 334.16 L52.25 336.8 L53 339.45 L53.67 337.83 L54.33 337.33 L55 335.65 L56 333.54 L56.67 335.52 L57.33 336.77 L58 338.55 L58.67 339.67 L59.33 340.5 L60 340.91 L60.67 340.95 L61.33 341.61 L62 341.17 L62.6 342.44 L63.2 343.26 L63.8 343.82 L64.4 344.43 L65 344.69 L65.67 344.51 L66.33 341.69 L67 342.23 L67.6 341.43 L68.2 344.61 L68.8 344.68 L69.4 345.05 L70 344.21 L70.56 345.1 L71.11 346.07 L71.67 344.44 L72.22 344.28 L72.78 346.15 L73.33 344.49 L73.89 346.16 L74.44 346.69 L75 346.13 L75.56 346.08 L76.11 344.71 L76.67 346.51 L77.22 346.2 L77.78 344.25 L78.33 346.56 L78.89 346.48 L79.44 345.06 L80 345.71 L80.56 346.2 L81.11 346.08 L81.67 345.92 L82.22 344.24 L82.78 346.29 L83.33 346.1 L83.89 344.65 L84.44 346.6 L85 346.69 L85.6 346.63 L86.2 345.35 L86.8 345.51 L87.4 345.88 L88 345.31 L88.67 345.73 L89.33 346.88 L90 345.53 L90.56 347.3 L91.11 346.25 L91.67 346.74 L92.22 346.98 L92.78 347.31 L93.33 346.98 L93.89 345.26 L94.44 346.05 L95 346.64 L95.67 347.82 L96.33 348.67 L97 349.15 L97.6 349.31 L98.2 348.19 L98.8 349.36 L99.4 349.08 L100 349.68 L100.56 349.32 L101.11 348.86 L101.67 349.91 L102.22 349.93 L102.78 348.27 L103.33 348.91 L103.89 349.06 L104.44 350.44 L105 350.62 L105.56 350.31 L106.11 350.36 L106.67 350.61 L107.22 349.66 L107.78 350.88 L108.33 350.63 L108.89 350.27 L109.44 350.36 L110 351.16 L110.58 351.13 L111.15 349.38 L111.72 350.92 L112.3 351.11 L112.88 351.17 L113.45 351.6 L114.02 351.12 L114.6 351.26" fill="none" stroke="#d8182a" stroke-width="1.6" stroke-linejoin="round"/>
<clipPath id="gc6"><path d="M14 353 L14 349.8 L14.5 350.39 L15 349.1 L15.5 350.45 L16 350.38 L16.5 349.33 L17 349.74 L17.5 350.04 L18 350.05 L18.5 349.18 L19 349.17 L19.5 349.93 L20 348.32 L20.5 348.88 L21 348.71 L21.5 348.78 L22 348.96 L22.5 348.14 L23 348.14 L23.5 348.64 L24 345.2 L24.5 347.25 L25 346.35 L25.5 346.85 L26 347.07 L26.5 346.39 L27 345.46 L27.5 346.85 L28 343.88 L28.5 345.8 L29 345.67 L29.5 344.91 L30 344.54 L30.5 343.84 L31 344.1 L31.5 342.33 L32 342.63 L32.5 343.06 L33 341.33 L33.5 341.75 L34 340.27 L34.5 340.93 L35 339.79 L35.5 339.51 L36 338.17 L36.5 338.42 L37 337.29 L37.5 338.05 L38 336.4 L38.56 335.99 L39.12 335.77 L39.68 336.92 L40.24 336.17 L40.8 335.19 L41.35 336.63 L41.9 336.67 L42.45 337.24 L43 335.34 L43.5 337.8 L44 339.47 L44.5 336.43 L45 340.39 L45.5 340.65 L46 341.37 L46.5 341.34 L47 342.57 L47.5 342.24 L48 343.13 L48.5 342.95 L49 344.53 L49.5 345.1 L50 344.61 L50.5 345.17 L51 346.66 L51.5 346.86 L52 347.46 L52.5 347.81 L53 348.48 L53.5 347.84 L54 349.1 L54.5 349.11 L55 348.49 L55.5 347.18 L56 349.83 L56.5 350.19 L57 350.25 L57.5 351.05 L58 350.09 L58.5 351.19 L59 351.3 L59.5 350.93 L60 351.02 L60.5 351.31 L61 352.14 L61.5 351.65 L62 352.13 L62 353 Z"/><rect x="13.2" y="350.8" width="101.4" height="3"/><rect x="12.2" y="293.6" width="1.8" height="59.4"/></clipPath>
<path d="M13.5 352.7 L13.7 350.28 L14.35 350.2 L15 352.37 L15.56 351.14 L16.11 352.37 L16.67 352.23 L17.22 352.11 L17.78 352.38 L18.33 352.11 L18.89 352.29 L19.44 351.87 L20 351.97 L20.56 351.77 L21.11 351.73 L21.67 351.51 L22.22 351.54 L22.78 351.09 L23.33 350.76 L23.89 350.94 L24.44 350.64 L25 350.73 L25.56 349.65 L26.11 349.95 L26.67 349.04 L27.22 348.92 L27.78 349.82 L28.33 349.36 L28.89 349.2 L29.44 349.11 L30 349.1 L30.6 348.82 L31.2 348.72 L31.8 347.48 L32.4 347.85 L33 347.72 L33.6 346.93 L34.2 345.43 L34.8 346.34 L35.4 345.95 L36 345.91 L36.6 344.85 L37.2 344.4 L37.8 343.67 L38.4 344.31 L39 343.4 L39.6 343.86 L40.2 343.31 L40.8 342.76 L41.4 341.67 L42 341.47 L42.67 340.83 L43.33 339.61 L44 339.43 L44.67 338.95 L45.33 339.09 L46 339.03 L46.67 338.74 L47.33 336.99 L48 336.53 L48.67 336.94 L49.33 336.24 L50 335.57 L50.75 335.16 L51.5 334.16 L52.25 336.8 L53 339.45 L53.67 337.83 L54.33 337.33 L55 335.65 L56 333.54 L56.67 335.52 L57.33 336.77 L58 338.55 L58.67 339.67 L59.33 340.5 L60 340.91 L60.67 340.95 L61.33 341.61 L62 341.17 L62.6 342.44 L63.2 343.26 L63.8 343.82 L64.4 344.43 L65 344.69 L65.67 344.51 L66.33 341.69 L67 342.23 L67.6 341.43 L68.2 344.61 L68.8 344.68 L69.4 345.05 L70 344.21 L70.56 345.1 L71.11 346.07 L71.67 344.44 L72.22 344.28 L72.78 346.15 L73.33 344.49 L73.89 346.16 L74.44 346.69 L75 346.13 L75.56 346.08 L76.11 344.71 L76.67 346.51 L77.22 346.2 L77.78 344.25 L78.33 346.56 L78.89 346.48 L79.44 345.06 L80 345.71 L80.56 346.2 L81.11 346.08 L81.67 345.92 L82.22 344.24 L82.78 346.29 L83.33 346.1 L83.89 344.65 L84.44 346.6 L85 346.69 L85.6 346.63 L86.2 345.35 L86.8 345.51 L87.4 345.88 L88 345.31 L88.67 345.73 L89.33 346.88 L90 345.53 L90.56 347.3 L91.11 346.25 L91.67 346.74 L92.22 346.98 L92.78 347.31 L93.33 346.98 L93.89 345.26 L94.44 346.05 L95 346.64 L95.67 347.82 L96.33 348.67 L97 349.15 L97.6 349.31 L98.2 348.19 L98.8 349.36 L99.4 349.08 L100 349.68 L100.56 349.32 L101.11 348.86 L101.67 349.91 L102.22 349.93 L102.78 348.27 L103.33 348.91 L103.89 349.06 L104.44 350.44 L105 350.62 L105.56 350.31 L106.11 350.36 L106.67 350.61 L107.22 349.66 L107.78 350.88 L108.33 350.63 L108.89 350.27 L109.44 350.36 L110 351.16 L110.58 351.13 L111.15 349.38 L111.72 350.92 L112.3 351.11 L112.88 351.17 L113.45 351.6 L114.02 351.12 L114.6 351.26" fill="none" stroke="#9a3c08" stroke-width="1.7" stroke-linejoin="round" clip-path="url(#gc6)"/>
<rect x="13.2" y="293.6" width="101.4" height="59.4" fill="none" stroke="#7a7a7a" stroke-width="1"/>
<line x1="12" y1="293.6" x2="13.2" y2="293.6" stroke="#555" stroke-width="0.8"/>
<line x1="12" y1="295.98" x2="13.2" y2="295.98" stroke="#555" stroke-width="0.8"/>
<line x1="12" y1="298.35" x2="13.2" y2="298.35" stroke="#555" stroke-width="0.8"/>
<line x1="12" y1="300.73" x2="13.2" y2="300.73" stroke="#555" stroke-width="0.8"/>
<line x1="12" y1="303.1" x2="13.2" y2="303.1" stroke="#555" stroke-width="0.8"/>
<line x1="12" y1="305.48" x2="13.2" y2="305.48" stroke="#555" stroke-width="0.8"/>
<line x1="12" y1="307.86" x2="13.2" y2="307.86" stroke="#555" stroke-width="0.8"/>
<line x1="12" y1="310.23" x2="13.2" y2="310.23" stroke="#555" stroke-width="0.8"/>
<line x1="12" y1="312.61" x2="13.2" y2="312.61" stroke="#555" stroke-width="0.8"/>
<line x1="12" y1="314.98" x2="13.2" y2="314.98" stroke="#555" stroke-width="0.8"/>
<line x1="12" y1="317.36" x2="13.2" y2="317.36" stroke="#555" stroke-width="0.8"/>
<line x1="12" y1="319.74" x2="13.2" y2="319.74" stroke="#555" stroke-width="0.8"/>
<line x1="12" y1="322.11" x2="13.2" y2="322.11" stroke="#555" stroke-width="0.8"/>
<line x1="12" y1="324.49" x2="13.2" y2="324.49" stroke="#555" stroke-width="0.8"/>
<line x1="12" y1="326.86" x2="13.2" y2="326.86" stroke="#555" stroke-width="0.8"/>
<line x1="12" y1="329.24" x2="13.2" y2="329.24" stroke="#555" stroke-width="0.8"/>
<line x1="12" y1="331.62" x2="13.2" y2="331.62" stroke="#555" stroke-width="0.8"/>
<line x1="12" y1="333.99" x2="13.2" y2="333.99" stroke="#555" stroke-width="0.8"/>
<line x1="12" y1="336.37" x2="13.2" y2="336.37" stroke="#555" stroke-width="0.8"/>
<line x1="12" y1="338.74" x2="13.2" y2="338.74" stroke="#555" stroke-width="0.8"/>
<line x1="12" y1="341.12" x2="13.2" y2="341.12" stroke="#555" stroke-width="0.8"/>
<line x1="12" y1="343.5" x2="13.2" y2="343.5" stroke="#555" stroke-width="0.8"/>
<line x1="12" y1="345.87" x2="13.2" y2="345.87" stroke="#555" stroke-width="0.8"/>
<line x1="12" y1="348.25" x2="13.2" y2="348.25" stroke="#555" stroke-width="0.8"/>
<line x1="12" y1="350.62" x2="13.2" y2="350.62" stroke="#555" stroke-width="0.8"/>
<line x1="12" y1="353" x2="13.2" y2="353" stroke="#555" stroke-width="0.8"/>
<line x1="11" y1="293.6" x2="13.2" y2="293.6" stroke="#444" stroke-width="0.9"/>
<line x1="11" y1="305.48" x2="13.2" y2="305.48" stroke="#444" stroke-width="0.9"/>
<line x1="11" y1="317.36" x2="13.2" y2="317.36" stroke="#444" stroke-width="0.9"/>
<line x1="11" y1="329.24" x2="13.2" y2="329.24" stroke="#444" stroke-width="0.9"/>
<line x1="11" y1="341.12" x2="13.2" y2="341.12" stroke="#444" stroke-width="0.9"/>
<line x1="11" y1="353" x2="13.2" y2="353" stroke="#444" stroke-width="0.9"/>
<text transform="translate(9.8 293.6) rotate(-90)" font-family='"Liberation Serif", serif' font-size="4.5" font-weight="bold" text-anchor="middle" fill="#000">50</text>
<text transform="translate(9.8 305.48) rotate(-90)" font-family='"Liberation Serif", serif' font-size="4.5" font-weight="bold" text-anchor="middle" fill="#000">40</text>
<text transform="translate(9.8 317.36) rotate(-90)" font-family='"Liberation Serif", serif' font-size="4.5" font-weight="bold" text-anchor="middle" fill="#000">30</text>
<text transform="translate(9.8 329.24) rotate(-90)" font-family='"Liberation Serif", serif' font-size="4.5" font-weight="bold" text-anchor="middle" fill="#000">20</text>
<text transform="translate(9.8 341.12) rotate(-90)" font-family='"Liberation Serif", serif' font-size="4.5" font-weight="bold" text-anchor="middle" fill="#000">10</text>
<text transform="translate(9.8 353) rotate(-90)" font-family='"Liberation Serif", serif' font-size="4.5" font-weight="bold" text-anchor="middle" fill="#000">0</text>
<text transform="translate(6.3 323.3) rotate(-90)" font-family='"Liberation Serif", serif' font-size="5" text-anchor="middle" fill="#000" stroke="#000" stroke-width="0.12">Counts</text>
<text x="13.2" y="360.8" font-family='"Liberation Serif", serif' font-size="6" text-anchor="middle" fill="#111">10<tspan font-size="4.2" dy="-2.4">0</tspan></text>
<text x="38.17" y="360.8" font-family='"Liberation Serif", serif' font-size="6" text-anchor="middle" fill="#111">10<tspan font-size="4.2" dy="-2.4">1</tspan></text>
<text x="63.14" y="360.8" font-family='"Liberation Serif", serif' font-size="6" text-anchor="middle" fill="#111">10<tspan font-size="4.2" dy="-2.4">2</tspan></text>
<text x="88.11" y="360.8" font-family='"Liberation Serif", serif' font-size="6" text-anchor="middle" fill="#111">10<tspan font-size="4.2" dy="-2.4">3</tspan></text>
<text x="113.08" y="360.8" font-family='"Liberation Serif", serif' font-size="6" text-anchor="middle" fill="#111">10<tspan font-size="4.2" dy="-2.4">4</tspan></text>
<text x="65.9" y="365.2" font-family='"Liberation Serif", serif' font-size="6" text-anchor="middle" fill="#111">FL2-Height</text>
<text transform="translate(46.8 331.9) scale(1 1.2)" font-family='"Liberation Serif", serif' font-size="6.8" fill="#111" stroke="#111" stroke-width="0.18">309&#177;5</text>
<path d="M133 356.3 L133 354.16 L133.5 354.64 L134 354.63 L134.5 352.66 L135 354.51 L135.5 353.5 L136 353.96 L136.5 353.8 L137 353.79 L137.5 351.95 L138 353.25 L138.5 352.83 L139 352.73 L139.5 353.51 L140 352.62 L140.5 352.51 L141 352.19 L141.5 352.51 L142 351.76 L142.5 352.49 L143 351.36 L143.5 351.41 L144 351 L144.5 351.89 L145 350.1 L145.5 350.99 L146 350.42 L146.5 349.93 L147 349.94 L147.5 349.74 L148 349.68 L148.5 347.01 L149 348.94 L149.5 348.66 L150 348.43 L150.5 347.73 L151 346.75 L151.5 344.74 L152 346.72 L152.5 346.07 L153 345.34 L153.5 344.62 L154 343.13 L154.5 342.12 L155 343.14 L155.5 341.51 L156 341.79 L156.5 341.25 L157 339.3 L157.5 339.42 L158 339.22 L158.5 340.14 L159 338.96 L159.5 338.67 L160 338.9 L160.5 339.97 L161 339.27 L161.5 340.17 L162 340.14 L162.5 342 L163 341.47 L163.5 342.93 L164 343.54 L164.5 343.13 L165 343.24 L165.5 344.07 L166 345.88 L166.5 345.73 L167 346.24 L167.5 346.03 L168 346.29 L168.5 345.44 L169 348.8 L169.5 348.23 L170 347.69 L170.5 349.43 L171 349.99 L171.5 349.82 L172 350.47 L172.5 350.37 L173 350.95 L173.5 352.01 L174 351.18 L174.5 352.74 L175 352.74 L175.5 352.89 L176 350.16 L176.5 352.87 L177 353.23 L177.5 350.92 L178 353.04 L178.5 353.45 L179 353.36 L179.5 353.64 L180 353.56 L180.5 354.45 L181 354.13 L181.5 354.07 L182 354.17 L182.5 354.41 L183 354.62 L183.5 354.33 L184 355.15 L184.5 354.52 L185 354.7 L185 356.3 Z" fill="#6cf70c" stroke="#b6f56a" stroke-width="0.6"/>
<rect x="132.9" y="354.5" width="101.4" height="1.6" fill="#6cf70c"/>
<path d="M133.1 355.77 L133.3 350.34 L134 354.63 L134.6 354.89 L135.2 355.09 L135.8 353.85 L136.4 354.83 L137 354.95 L137.6 354.53 L138.2 354.23 L138.8 354.39 L139.4 354.44 L140 354.48 L140.56 354.19 L141.11 353.38 L141.67 353.04 L142.22 353.7 L142.78 354.02 L143.33 353.6 L143.89 353.84 L144.44 353.48 L145 353.55 L145.6 353.22 L146.2 353.53 L146.8 353.38 L147.4 352.75 L148 353.05 L148.67 352.2 L149.33 352.09 L150 352.64 L150.6 352.54 L151.2 350.96 L151.8 351.75 L152.4 351.71 L153 351.5 L153.6 350.07 L154.2 350.72 L154.8 349.21 L155.4 350.19 L156 349.9 L156.6 349.29 L157.2 348.98 L157.8 348.47 L158.4 348.24 L159 348.04 L159.67 346.78 L160.33 347 L161 347.02 L161.67 345.82 L162.33 345.42 L163 344.96 L163.67 344.64 L164.33 343.95 L165 342.81 L165.67 340.49 L166.33 340.36 L167 340.82 L167.67 340.65 L168.33 339.69 L169 339.27 L169.75 339.06 L170.5 341.13 L171.25 342 L172 342.2 L172.67 342.33 L173.33 341.23 L174 339.7 L174.67 340.35 L175.33 339.29 L176 339.11 L176.75 337.66 L177.5 335.54 L178.25 334.92 L179 331.47 L180 330.38 L180.67 331.1 L181.33 332.96 L182 332.74 L182.67 332.19 L183.33 330.86 L184 330.71 L184.67 328.29 L185.33 327.55 L186 328.97 L186.75 329.1 L187.5 328.41 L188.25 329.25 L189 329.15 L189.67 330.48 L190.33 330.84 L191 331.14 L191.67 330.03 L192.33 331.8 L193 332.82 L193.67 333.35 L194.33 332.86 L195 334.03 L195.67 333.92 L196.33 335.36 L197 334.99 L197.67 337.19 L198.33 335.07 L199 337.3 L199.67 338.52 L200.33 338.93 L201 338.55 L201.67 338.24 L202.33 340.67 L203 341.25 L203.67 341.53 L204.33 342.08 L205 342.28 L205.67 343.49 L206.33 342.28 L207 342.95 L208 341.74 L209 346.22 L209.67 345.55 L210.33 347.34 L211 347.92 L211.67 349.5 L212.33 350.29 L213 350.02 L213.67 351.17 L214.33 351.75 L215 352.06 L215.67 352.17 L216.33 352.75 L217 351.81 L217.6 353.37 L218.2 353.63 L218.8 353.51 L219.4 353.09 L220 353.08 L220.56 353.89 L221.11 354.29 L221.67 353.31 L222.22 354.23 L222.78 354.38 L223.33 354.08 L223.89 354.34 L224.44 354.33 L225 354.37 L225.58 354.46 L226.16 354.56 L226.74 354.38 L227.32 354.57 L227.91 354.16 L228.49 354.38 L229.07 354.07 L229.65 353.77 L230.23 354.27 L230.81 353.99 L231.39 354.28 L231.98 353.93 L232.56 353.9 L233.14 353.85 L233.72 353.74 L234.3 353.05" fill="none" stroke="#d8182a" stroke-width="1.6" stroke-linejoin="round"/>
<clipPath id="gc7"><path d="M133 356.3 L133 354.16 L133.5 354.64 L134 354.63 L134.5 352.66 L135 354.51 L135.5 353.5 L136 353.96 L136.5 353.8 L137 353.79 L137.5 351.95 L138 353.25 L138.5 352.83 L139 352.73 L139.5 353.51 L140 352.62 L140.5 352.51 L141 352.19 L141.5 352.51 L142 351.76 L142.5 352.49 L143 351.36 L143.5 351.41 L144 351 L144.5 351.89 L145 350.1 L145.5 350.99 L146 350.42 L146.5 349.93 L147 349.94 L147.5 349.74 L148 349.68 L148.5 347.01 L149 348.94 L149.5 348.66 L150 348.43 L150.5 347.73 L151 346.75 L151.5 344.74 L152 346.72 L152.5 346.07 L153 345.34 L153.5 344.62 L154 343.13 L154.5 342.12 L155 343.14 L155.5 341.51 L156 341.79 L156.5 341.25 L157 339.3 L157.5 339.42 L158 339.22 L158.5 340.14 L159 338.96 L159.5 338.67 L160 338.9 L160.5 339.97 L161 339.27 L161.5 340.17 L162 340.14 L162.5 342 L163 341.47 L163.5 342.93 L164 343.54 L164.5 343.13 L165 343.24 L165.5 344.07 L166 345.88 L166.5 345.73 L167 346.24 L167.5 346.03 L168 346.29 L168.5 345.44 L169 348.8 L169.5 348.23 L170 347.69 L170.5 349.43 L171 349.99 L171.5 349.82 L172 350.47 L172.5 350.37 L173 350.95 L173.5 352.01 L174 351.18 L174.5 352.74 L175 352.74 L175.5 352.89 L176 350.16 L176.5 352.87 L177 353.23 L177.5 350.92 L178 353.04 L178.5 353.45 L179 353.36 L179.5 353.64 L180 353.56 L180.5 354.45 L181 354.13 L181.5 354.07 L182 354.17 L182.5 354.41 L183 354.62 L183.5 354.33 L184 355.15 L184.5 354.52 L185 354.7 L185 356.3 Z"/><rect x="132.9" y="354.1" width="101.4" height="3"/><rect x="131.9" y="296.5" width="1.8" height="59.8"/></clipPath>
<path d="M133.1 355.77 L133.3 350.34 L134 354.63 L134.6 354.89 L135.2 355.09 L135.8 353.85 L136.4 354.83 L137 354.95 L137.6 354.53 L138.2 354.23 L138.8 354.39 L139.4 354.44 L140 354.48 L140.56 354.19 L141.11 353.38 L141.67 353.04 L142.22 353.7 L142.78 354.02 L143.33 353.6 L143.89 353.84 L144.44 353.48 L145 353.55 L145.6 353.22 L146.2 353.53 L146.8 353.38 L147.4 352.75 L148 353.05 L148.67 352.2 L149.33 352.09 L150 352.64 L150.6 352.54 L151.2 350.96 L151.8 351.75 L152.4 351.71 L153 351.5 L153.6 350.07 L154.2 350.72 L154.8 349.21 L155.4 350.19 L156 349.9 L156.6 349.29 L157.2 348.98 L157.8 348.47 L158.4 348.24 L159 348.04 L159.67 346.78 L160.33 347 L161 347.02 L161.67 345.82 L162.33 345.42 L163 344.96 L163.67 344.64 L164.33 343.95 L165 342.81 L165.67 340.49 L166.33 340.36 L167 340.82 L167.67 340.65 L168.33 339.69 L169 339.27 L169.75 339.06 L170.5 341.13 L171.25 342 L172 342.2 L172.67 342.33 L173.33 341.23 L174 339.7 L174.67 340.35 L175.33 339.29 L176 339.11 L176.75 337.66 L177.5 335.54 L178.25 334.92 L179 331.47 L180 330.38 L180.67 331.1 L181.33 332.96 L182 332.74 L182.67 332.19 L183.33 330.86 L184 330.71 L184.67 328.29 L185.33 327.55 L186 328.97 L186.75 329.1 L187.5 328.41 L188.25 329.25 L189 329.15 L189.67 330.48 L190.33 330.84 L191 331.14 L191.67 330.03 L192.33 331.8 L193 332.82 L193.67 333.35 L194.33 332.86 L195 334.03 L195.67 333.92 L196.33 335.36 L197 334.99 L197.67 337.19 L198.33 335.07 L199 337.3 L199.67 338.52 L200.33 338.93 L201 338.55 L201.67 338.24 L202.33 340.67 L203 341.25 L203.67 341.53 L204.33 342.08 L205 342.28 L205.67 343.49 L206.33 342.28 L207 342.95 L208 341.74 L209 346.22 L209.67 345.55 L210.33 347.34 L211 347.92 L211.67 349.5 L212.33 350.29 L213 350.02 L213.67 351.17 L214.33 351.75 L215 352.06 L215.67 352.17 L216.33 352.75 L217 351.81 L217.6 353.37 L218.2 353.63 L218.8 353.51 L219.4 353.09 L220 353.08 L220.56 353.89 L221.11 354.29 L221.67 353.31 L222.22 354.23 L222.78 354.38 L223.33 354.08 L223.89 354.34 L224.44 354.33 L225 354.37 L225.58 354.46 L226.16 354.56 L226.74 354.38 L227.32 354.57 L227.91 354.16 L228.49 354.38 L229.07 354.07 L229.65 353.77 L230.23 354.27 L230.81 353.99 L231.39 354.28 L231.98 353.93 L232.56 353.9 L233.14 353.85 L233.72 353.74 L234.3 353.05" fill="none" stroke="#9a3c08" stroke-width="1.7" stroke-linejoin="round" clip-path="url(#gc7)"/>
<rect x="132.9" y="296.5" width="101.4" height="59.8" fill="none" stroke="#7a7a7a" stroke-width="1"/>
<line x1="131.7" y1="296.5" x2="132.9" y2="296.5" stroke="#555" stroke-width="0.8"/>
<line x1="131.7" y1="298.89" x2="132.9" y2="298.89" stroke="#555" stroke-width="0.8"/>
<line x1="131.7" y1="301.28" x2="132.9" y2="301.28" stroke="#555" stroke-width="0.8"/>
<line x1="131.7" y1="303.68" x2="132.9" y2="303.68" stroke="#555" stroke-width="0.8"/>
<line x1="131.7" y1="306.07" x2="132.9" y2="306.07" stroke="#555" stroke-width="0.8"/>
<line x1="131.7" y1="308.46" x2="132.9" y2="308.46" stroke="#555" stroke-width="0.8"/>
<line x1="131.7" y1="310.85" x2="132.9" y2="310.85" stroke="#555" stroke-width="0.8"/>
<line x1="131.7" y1="313.24" x2="132.9" y2="313.24" stroke="#555" stroke-width="0.8"/>
<line x1="131.7" y1="315.64" x2="132.9" y2="315.64" stroke="#555" stroke-width="0.8"/>
<line x1="131.7" y1="318.03" x2="132.9" y2="318.03" stroke="#555" stroke-width="0.8"/>
<line x1="131.7" y1="320.42" x2="132.9" y2="320.42" stroke="#555" stroke-width="0.8"/>
<line x1="131.7" y1="322.81" x2="132.9" y2="322.81" stroke="#555" stroke-width="0.8"/>
<line x1="131.7" y1="325.2" x2="132.9" y2="325.2" stroke="#555" stroke-width="0.8"/>
<line x1="131.7" y1="327.6" x2="132.9" y2="327.6" stroke="#555" stroke-width="0.8"/>
<line x1="131.7" y1="329.99" x2="132.9" y2="329.99" stroke="#555" stroke-width="0.8"/>
<line x1="131.7" y1="332.38" x2="132.9" y2="332.38" stroke="#555" stroke-width="0.8"/>
<line x1="131.7" y1="334.77" x2="132.9" y2="334.77" stroke="#555" stroke-width="0.8"/>
<line x1="131.7" y1="337.16" x2="132.9" y2="337.16" stroke="#555" stroke-width="0.8"/>
<line x1="131.7" y1="339.56" x2="132.9" y2="339.56" stroke="#555" stroke-width="0.8"/>
<line x1="131.7" y1="341.95" x2="132.9" y2="341.95" stroke="#555" stroke-width="0.8"/>
<line x1="131.7" y1="344.34" x2="132.9" y2="344.34" stroke="#555" stroke-width="0.8"/>
<line x1="131.7" y1="346.73" x2="132.9" y2="346.73" stroke="#555" stroke-width="0.8"/>
<line x1="131.7" y1="349.12" x2="132.9" y2="349.12" stroke="#555" stroke-width="0.8"/>
<line x1="131.7" y1="351.52" x2="132.9" y2="351.52" stroke="#555" stroke-width="0.8"/>
<line x1="131.7" y1="353.91" x2="132.9" y2="353.91" stroke="#555" stroke-width="0.8"/>
<line x1="131.7" y1="356.3" x2="132.9" y2="356.3" stroke="#555" stroke-width="0.8"/>
<line x1="130.7" y1="296.5" x2="132.9" y2="296.5" stroke="#444" stroke-width="0.9"/>
<line x1="130.7" y1="308.46" x2="132.9" y2="308.46" stroke="#444" stroke-width="0.9"/>
<line x1="130.7" y1="320.42" x2="132.9" y2="320.42" stroke="#444" stroke-width="0.9"/>
<line x1="130.7" y1="332.38" x2="132.9" y2="332.38" stroke="#444" stroke-width="0.9"/>
<line x1="130.7" y1="344.34" x2="132.9" y2="344.34" stroke="#444" stroke-width="0.9"/>
<line x1="130.7" y1="356.3" x2="132.9" y2="356.3" stroke="#444" stroke-width="0.9"/>
<text transform="translate(129.5 296.5) rotate(-90)" font-family='"Liberation Serif", serif' font-size="4.5" font-weight="bold" text-anchor="middle" fill="#000">50</text>
<text transform="translate(129.5 308.46) rotate(-90)" font-family='"Liberation Serif", serif' font-size="4.5" font-weight="bold" text-anchor="middle" fill="#000">40</text>
<text transform="translate(129.5 320.42) rotate(-90)" font-family='"Liberation Serif", serif' font-size="4.5" font-weight="bold" text-anchor="middle" fill="#000">30</text>
<text transform="translate(129.5 332.38) rotate(-90)" font-family='"Liberation Serif", serif' font-size="4.5" font-weight="bold" text-anchor="middle" fill="#000">20</text>
<text transform="translate(129.5 344.34) rotate(-90)" font-family='"Liberation Serif", serif' font-size="4.5" font-weight="bold" text-anchor="middle" fill="#000">10</text>
<text transform="translate(129.5 356.3) rotate(-90)" font-family='"Liberation Serif", serif' font-size="4.5" font-weight="bold" text-anchor="middle" fill="#000">0</text>
<text transform="translate(126 326.4) rotate(-90)" font-family='"Liberation Serif", serif' font-size="5" text-anchor="middle" fill="#000" stroke="#000" stroke-width="0.12">Counts</text>
<text x="132.9" y="364.1" font-family='"Liberation Serif", serif' font-size="6" text-anchor="middle" fill="#111">10<tspan font-size="4.2" dy="-2.4">0</tspan></text>
<text x="157.87" y="364.1" font-family='"Liberation Serif", serif' font-size="6" text-anchor="middle" fill="#111">10<tspan font-size="4.2" dy="-2.4">1</tspan></text>
<text x="182.84" y="364.1" font-family='"Liberation Serif", serif' font-size="6" text-anchor="middle" fill="#111">10<tspan font-size="4.2" dy="-2.4">2</tspan></text>
<text x="207.81" y="364.1" font-family='"Liberation Serif", serif' font-size="6" text-anchor="middle" fill="#111">10<tspan font-size="4.2" dy="-2.4">3</tspan></text>
<text x="232.78" y="364.1" font-family='"Liberation Serif", serif' font-size="6" text-anchor="middle" fill="#111">10<tspan font-size="4.2" dy="-2.4">4</tspan></text>
<text x="186.6" y="369.5" font-family='"Liberation Serif", serif' font-size="6" text-anchor="middle" fill="#111">FL2-Height</text>
<text transform="translate(179.6 323.5) scale(1 1.2)" font-family='"Liberation Serif", serif' font-size="6.8" fill="#111" stroke="#111" stroke-width="0.18">805&#177;8</text>
<path d="M14 436.9 L14 434.89 L14.5 434.08 L15 434.22 L15.5 433.77 L16 434 L16.5 434.19 L17 434.26 L17.5 434.2 L18 433.31 L18.5 433.68 L19 432.87 L19.5 431.79 L20 432.86 L20.5 432.56 L21 431.15 L21.5 432.23 L22 432.57 L22.5 431.65 L23 432.28 L23.5 429.73 L24 431.6 L24.5 431.88 L25 431.54 L25.5 430.44 L26 430.29 L26.5 429.33 L27 430.47 L27.5 429.77 L28 429.65 L28.5 429.61 L29 429.43 L29.5 428.77 L30 427.68 L30.5 427.38 L31 426.47 L31.5 426.3 L32 425.81 L32.5 426.18 L33 424.44 L33.5 424.94 L34 421.01 L34.5 423.42 L35 422.45 L35.5 422.71 L36 421.03 L36.53 419.35 L37.06 419.73 L37.59 419.4 L38.11 420.26 L38.64 419.23 L39.17 419.48 L39.7 418 L40.28 419.89 L40.85 420.56 L41.42 420.04 L42 418.91 L42.5 422.31 L43 422.22 L43.5 423.55 L44 422.88 L44.5 423.75 L45 421.65 L45.5 424.34 L46 425.63 L46.5 424.43 L47 427.44 L47.5 427.26 L48 428.46 L48.5 428.13 L49 429.82 L49.5 429.39 L50 430.69 L50.5 430.28 L51 431.38 L51.5 431.38 L52 429.23 L52.5 432.47 L53 432.44 L53.5 432.83 L54 432.88 L54.5 432.64 L55 431.5 L55.5 433.68 L56 433.89 L56.5 434 L57 433.25 L57.5 434.14 L58 434.06 L58.5 433.86 L59 434.26 L59.5 433.25 L60 434.77 L60.5 434.38 L61 434.76 L61.5 434.95 L62 434.65 L62.5 435.26 L63 435.35 L63.5 435.03 L64 433.99 L64.5 435.26 L65 435.81 L65 436.9 Z" fill="#6cf70c" stroke="#b6f56a" stroke-width="0.6"/>
<rect x="13.6" y="435.1" width="100.2" height="1.6" fill="#6cf70c"/>
<path d="M13.8 435.84 L14 420.15 L14.8 429.87 L15.5 434.85 L16.06 435.33 L16.62 434.54 L17.19 434.18 L17.75 434.07 L18.31 434.84 L18.88 434.74 L19.44 433.5 L20 433.8 L20.56 434.45 L21.11 434.11 L21.67 433.95 L22.22 433.95 L22.78 433.45 L23.33 431.94 L23.89 433.48 L24.44 433.25 L25 432.94 L25.6 432.56 L26.2 432.51 L26.8 431.36 L27.4 432.05 L28 431.57 L28.67 431.55 L29.33 431.87 L30 429.9 L30.6 430.79 L31.2 431.18 L31.8 430.7 L32.4 430.28 L33 430.34 L33.6 429.68 L34.2 429.31 L34.8 428.08 L35.4 428.71 L36 428.85 L36.6 427.8 L37.2 425.84 L37.8 425.8 L38.4 425.67 L39 423.44 L39.6 425.81 L40.2 425.63 L40.8 422.58 L41.4 422.05 L42 424.36 L42.67 422.92 L43.33 422.93 L44 421.62 L44.67 418.53 L45.33 419.65 L46 419.65 L46.67 419.69 L47.33 418.84 L48 418.42 L48.67 414.83 L49.33 418.74 L50 416.42 L50.67 417.49 L51.33 416.82 L52 415.26 L52.75 416.35 L53.5 414.94 L54.25 417.12 L55 418.88 L55.67 419.08 L56.33 417.15 L57 417.86 L58 420.46 L58.67 421.97 L59.33 421.82 L60 422.91 L60.67 424.07 L61.33 424.91 L62 426.43 L62.67 426.77 L63.33 424.85 L64 428.25 L64.6 428.48 L65.2 428.56 L65.8 427.1 L66.4 428.51 L67 426.74 L67.6 428.55 L68.2 427.04 L68.8 428.76 L69.4 428.67 L70 426.84 L70.67 427.87 L71.33 429.8 L72 428.36 L72.6 428.39 L73.2 427.85 L73.8 428.92 L74.4 429.15 L75 428.93 L75.6 428.46 L76.2 428.52 L76.8 428.51 L77.4 428.49 L78 427.67 L78.67 428.03 L79.33 428.29 L80 429.03 L80.6 428.89 L81.2 427.28 L81.8 429.22 L82.4 429.47 L83 428.95 L83.67 429.64 L84.33 429.52 L85 428.52 L85.6 428.75 L86.2 429.8 L86.8 429.93 L87.4 430.58 L88 430.81 L88.67 431.13 L89.33 431.75 L90 432.19 L90.6 431.72 L91.2 429.39 L91.8 431.33 L92.4 429.68 L93 430.75 L93.67 429.67 L94.33 431.54 L95 430.54 L95.6 431.14 L96.2 432.44 L96.8 430.88 L97.4 432.71 L98 432.02 L98.67 433.63 L99.33 433.7 L100 433.13 L100.56 433.98 L101.11 434.26 L101.67 434.44 L102.22 434.7 L102.78 434.58 L103.33 434.76 L103.89 434.84 L104.44 433.62 L105 433.75 L105.56 434.79 L106.11 434.68 L106.67 434.93 L107.22 435.01 L107.78 434.82 L108.33 433.48 L108.89 434.88 L109.44 433.68 L110 434.73 L110.63 434.12 L111.27 434.49 L111.9 434.53 L112.53 434.71 L113.17 434.93 L113.8 435.25" fill="none" stroke="#d8182a" stroke-width="1.6" stroke-linejoin="round"/>
<clipPath id="gc8"><path d="M14 436.9 L14 434.89 L14.5 434.08 L15 434.22 L15.5 433.77 L16 434 L16.5 434.19 L17 434.26 L17.5 434.2 L18 433.31 L18.5 433.68 L19 432.87 L19.5 431.79 L20 432.86 L20.5 432.56 L21 431.15 L21.5 432.23 L22 432.57 L22.5 431.65 L23 432.28 L23.5 429.73 L24 431.6 L24.5 431.88 L25 431.54 L25.5 430.44 L26 430.29 L26.5 429.33 L27 430.47 L27.5 429.77 L28 429.65 L28.5 429.61 L29 429.43 L29.5 428.77 L30 427.68 L30.5 427.38 L31 426.47 L31.5 426.3 L32 425.81 L32.5 426.18 L33 424.44 L33.5 424.94 L34 421.01 L34.5 423.42 L35 422.45 L35.5 422.71 L36 421.03 L36.53 419.35 L37.06 419.73 L37.59 419.4 L38.11 420.26 L38.64 419.23 L39.17 419.48 L39.7 418 L40.28 419.89 L40.85 420.56 L41.42 420.04 L42 418.91 L42.5 422.31 L43 422.22 L43.5 423.55 L44 422.88 L44.5 423.75 L45 421.65 L45.5 424.34 L46 425.63 L46.5 424.43 L47 427.44 L47.5 427.26 L48 428.46 L48.5 428.13 L49 429.82 L49.5 429.39 L50 430.69 L50.5 430.28 L51 431.38 L51.5 431.38 L52 429.23 L52.5 432.47 L53 432.44 L53.5 432.83 L54 432.88 L54.5 432.64 L55 431.5 L55.5 433.68 L56 433.89 L56.5 434 L57 433.25 L57.5 434.14 L58 434.06 L58.5 433.86 L59 434.26 L59.5 433.25 L60 434.77 L60.5 434.38 L61 434.76 L61.5 434.95 L62 434.65 L62.5 435.26 L63 435.35 L63.5 435.03 L64 433.99 L64.5 435.26 L65 435.81 L65 436.9 Z"/><rect x="13.6" y="434.7" width="100.2" height="3"/><rect x="12.6" y="376.8" width="1.8" height="60.1"/></clipPath>
<path d="M13.8 435.84 L14 420.15 L14.8 429.87 L15.5 434.85 L16.06 435.33 L16.62 434.54 L17.19 434.18 L17.75 434.07 L18.31 434.84 L18.88 434.74 L19.44 433.5 L20 433.8 L20.56 434.45 L21.11 434.11 L21.67 433.95 L22.22 433.95 L22.78 433.45 L23.33 431.94 L23.89 433.48 L24.44 433.25 L25 432.94 L25.6 432.56 L26.2 432.51 L26.8 431.36 L27.4 432.05 L28 431.57 L28.67 431.55 L29.33 431.87 L30 429.9 L30.6 430.79 L31.2 431.18 L31.8 430.7 L32.4 430.28 L33 430.34 L33.6 429.68 L34.2 429.31 L34.8 428.08 L35.4 428.71 L36 428.85 L36.6 427.8 L37.2 425.84 L37.8 425.8 L38.4 425.67 L39 423.44 L39.6 425.81 L40.2 425.63 L40.8 422.58 L41.4 422.05 L42 424.36 L42.67 422.92 L43.33 422.93 L44 421.62 L44.67 418.53 L45.33 419.65 L46 419.65 L46.67 419.69 L47.33 418.84 L48 418.42 L48.67 414.83 L49.33 418.74 L50 416.42 L50.67 417.49 L51.33 416.82 L52 415.26 L52.75 416.35 L53.5 414.94 L54.25 417.12 L55 418.88 L55.67 419.08 L56.33 417.15 L57 417.86 L58 420.46 L58.67 421.97 L59.33 421.82 L60 422.91 L60.67 424.07 L61.33 424.91 L62 426.43 L62.67 426.77 L63.33 424.85 L64 428.25 L64.6 428.48 L65.2 428.56 L65.8 427.1 L66.4 428.51 L67 426.74 L67.6 428.55 L68.2 427.04 L68.8 428.76 L69.4 428.67 L70 426.84 L70.67 427.87 L71.33 429.8 L72 428.36 L72.6 428.39 L73.2 427.85 L73.8 428.92 L74.4 429.15 L75 428.93 L75.6 428.46 L76.2 428.52 L76.8 428.51 L77.4 428.49 L78 427.67 L78.67 428.03 L79.33 428.29 L80 429.03 L80.6 428.89 L81.2 427.28 L81.8 429.22 L82.4 429.47 L83 428.95 L83.67 429.64 L84.33 429.52 L85 428.52 L85.6 428.75 L86.2 429.8 L86.8 429.93 L87.4 430.58 L88 430.81 L88.67 431.13 L89.33 431.75 L90 432.19 L90.6 431.72 L91.2 429.39 L91.8 431.33 L92.4 429.68 L93 430.75 L93.67 429.67 L94.33 431.54 L95 430.54 L95.6 431.14 L96.2 432.44 L96.8 430.88 L97.4 432.71 L98 432.02 L98.67 433.63 L99.33 433.7 L100 433.13 L100.56 433.98 L101.11 434.26 L101.67 434.44 L102.22 434.7 L102.78 434.58 L103.33 434.76 L103.89 434.84 L104.44 433.62 L105 433.75 L105.56 434.79 L106.11 434.68 L106.67 434.93 L107.22 435.01 L107.78 434.82 L108.33 433.48 L108.89 434.88 L109.44 433.68 L110 434.73 L110.63 434.12 L111.27 434.49 L111.9 434.53 L112.53 434.71 L113.17 434.93 L113.8 435.25" fill="none" stroke="#9a3c08" stroke-width="1.7" stroke-linejoin="round" clip-path="url(#gc8)"/>
<rect x="13.6" y="376.8" width="100.2" height="60.1" fill="none" stroke="#7a7a7a" stroke-width="1"/>
<line x1="12.4" y1="376.8" x2="13.6" y2="376.8" stroke="#555" stroke-width="0.8"/>
<line x1="12.4" y1="379.2" x2="13.6" y2="379.2" stroke="#555" stroke-width="0.8"/>
<line x1="12.4" y1="381.61" x2="13.6" y2="381.61" stroke="#555" stroke-width="0.8"/>
<line x1="12.4" y1="384.01" x2="13.6" y2="384.01" stroke="#555" stroke-width="0.8"/>
<line x1="12.4" y1="386.42" x2="13.6" y2="386.42" stroke="#555" stroke-width="0.8"/>
<line x1="12.4" y1="388.82" x2="13.6" y2="388.82" stroke="#555" stroke-width="0.8"/>
<line x1="12.4" y1="391.22" x2="13.6" y2="391.22" stroke="#555" stroke-width="0.8"/>
<line x1="12.4" y1="393.63" x2="13.6" y2="393.63" stroke="#555" stroke-width="0.8"/>
<line x1="12.4" y1="396.03" x2="13.6" y2="396.03" stroke="#555" stroke-width="0.8"/>
<line x1="12.4" y1="398.44" x2="13.6" y2="398.44" stroke="#555" stroke-width="0.8"/>
<line x1="12.4" y1="400.84" x2="13.6" y2="400.84" stroke="#555" stroke-width="0.8"/>
<line x1="12.4" y1="403.24" x2="13.6" y2="403.24" stroke="#555" stroke-width="0.8"/>
<line x1="12.4" y1="405.65" x2="13.6" y2="405.65" stroke="#555" stroke-width="0.8"/>
<line x1="12.4" y1="408.05" x2="13.6" y2="408.05" stroke="#555" stroke-width="0.8"/>
<line x1="12.4" y1="410.46" x2="13.6" y2="410.46" stroke="#555" stroke-width="0.8"/>
<line x1="12.4" y1="412.86" x2="13.6" y2="412.86" stroke="#555" stroke-width="0.8"/>
<line x1="12.4" y1="415.26" x2="13.6" y2="415.26" stroke="#555" stroke-width="0.8"/>
<line x1="12.4" y1="417.67" x2="13.6" y2="417.67" stroke="#555" stroke-width="0.8"/>
<line x1="12.4" y1="420.07" x2="13.6" y2="420.07" stroke="#555" stroke-width="0.8"/>
<line x1="12.4" y1="422.48" x2="13.6" y2="422.48" stroke="#555" stroke-width="0.8"/>
<line x1="12.4" y1="424.88" x2="13.6" y2="424.88" stroke="#555" stroke-width="0.8"/>
<line x1="12.4" y1="427.28" x2="13.6" y2="427.28" stroke="#555" stroke-width="0.8"/>
<line x1="12.4" y1="429.69" x2="13.6" y2="429.69" stroke="#555" stroke-width="0.8"/>
<line x1="12.4" y1="432.09" x2="13.6" y2="432.09" stroke="#555" stroke-width="0.8"/>
<line x1="12.4" y1="434.5" x2="13.6" y2="434.5" stroke="#555" stroke-width="0.8"/>
<line x1="12.4" y1="436.9" x2="13.6" y2="436.9" stroke="#555" stroke-width="0.8"/>
<line x1="11.4" y1="376.8" x2="13.6" y2="376.8" stroke="#444" stroke-width="0.9"/>
<line x1="11.4" y1="388.82" x2="13.6" y2="388.82" stroke="#444" stroke-width="0.9"/>
<line x1="11.4" y1="400.84" x2="13.6" y2="400.84" stroke="#444" stroke-width="0.9"/>
<line x1="11.4" y1="412.86" x2="13.6" y2="412.86" stroke="#444" stroke-width="0.9"/>
<line x1="11.4" y1="424.88" x2="13.6" y2="424.88" stroke="#444" stroke-width="0.9"/>
<line x1="11.4" y1="436.9" x2="13.6" y2="436.9" stroke="#444" stroke-width="0.9"/>
<text transform="translate(10.2 376.8) rotate(-90)" font-family='"Liberation Serif", serif' font-size="4.5" font-weight="bold" text-anchor="middle" fill="#000">50</text>
<text transform="translate(10.2 388.82) rotate(-90)" font-family='"Liberation Serif", serif' font-size="4.5" font-weight="bold" text-anchor="middle" fill="#000">40</text>
<text transform="translate(10.2 400.84) rotate(-90)" font-family='"Liberation Serif", serif' font-size="4.5" font-weight="bold" text-anchor="middle" fill="#000">30</text>
<text transform="translate(10.2 412.86) rotate(-90)" font-family='"Liberation Serif", serif' font-size="4.5" font-weight="bold" text-anchor="middle" fill="#000">20</text>
<text transform="translate(10.2 424.88) rotate(-90)" font-family='"Liberation Serif", serif' font-size="4.5" font-weight="bold" text-anchor="middle" fill="#000">10</text>
<text transform="translate(10.2 436.9) rotate(-90)" font-family='"Liberation Serif", serif' font-size="4.5" font-weight="bold" text-anchor="middle" fill="#000">0</text>
<text transform="translate(6.7 406.85) rotate(-90)" font-family='"Liberation Serif", serif' font-size="5" text-anchor="middle" fill="#000" stroke="#000" stroke-width="0.12">Counts</text>
<text x="13.6" y="444.7" font-family='"Liberation Serif", serif' font-size="6" text-anchor="middle" fill="#111">10<tspan font-size="4.2" dy="-2.4">0</tspan></text>
<text x="38.27" y="444.7" font-family='"Liberation Serif", serif' font-size="6" text-anchor="middle" fill="#111">10<tspan font-size="4.2" dy="-2.4">1</tspan></text>
<text x="62.95" y="444.7" font-family='"Liberation Serif", serif' font-size="6" text-anchor="middle" fill="#111">10<tspan font-size="4.2" dy="-2.4">2</tspan></text>
<text x="87.62" y="444.7" font-family='"Liberation Serif", serif' font-size="6" text-anchor="middle" fill="#111">10<tspan font-size="4.2" dy="-2.4">3</tspan></text>
<text x="112.3" y="444.7" font-family='"Liberation Serif", serif' font-size="6" text-anchor="middle" fill="#111">10<tspan font-size="4.2" dy="-2.4">4</tspan></text>
<text x="65.7" y="449.1" font-family='"Liberation Serif", serif' font-size="6" text-anchor="middle" fill="#111">FL2-Height</text>
<text transform="translate(50 415.6) scale(1 1.2)" font-family='"Liberation Serif", serif' font-size="6.8" fill="#111" stroke="#111" stroke-width="0.18">450&#177;4</text>
<path d="M135 437.2 L135 434.78 L135.5 434.99 L136 434.87 L136.5 435.74 L137 435.92 L137.5 435.41 L138 434.81 L138.5 435.05 L139 435.26 L139.5 434.32 L140 434.17 L140.5 434.68 L141 434.15 L141.5 434.02 L142 433.67 L142.5 433.46 L143 433.66 L143.5 433.55 L144 432.45 L144.5 432.62 L145 432.9 L145.5 432.53 L146 432 L146.5 432.38 L147 430.9 L147.5 429.29 L148 430.96 L148.5 430.75 L149 430.03 L149.5 429.78 L150 430.35 L150.5 429.29 L151 425.75 L151.5 428.8 L152 426.64 L152.5 424.87 L153 427.44 L153.5 426.01 L154 425.96 L154.5 424.78 L155 424.02 L155.5 424.15 L156 422.99 L156.5 424.1 L157 422.14 L157.5 421.55 L158 421.96 L158.5 418.24 L159 421.58 L159.5 419.28 L160 419.57 L160.5 419.45 L161 420.33 L161.5 421.17 L162 418.9 L162.5 420.75 L163 422.47 L163.5 420.89 L164 422.69 L164.5 423.14 L165 424.99 L165.5 425.55 L166 426.2 L166.5 427.27 L167 423.82 L167.5 428.17 L168 427.52 L168.5 427.71 L169 429.2 L169.5 429.35 L170 430.8 L170.5 431.07 L171 431.41 L171.5 431.96 L172 432.33 L172.5 431.75 L173 432.54 L173.5 432.65 L174 433.16 L174.5 433.04 L175 433.56 L175.5 433.99 L176 434.09 L176.5 434.6 L177 434.85 L177.5 434.41 L178 434.81 L178.5 434.71 L179 435.26 L179.5 435.15 L180 435.01 L180.5 435.28 L181 435.41 L181.5 435.88 L182 435.55 L182.5 436.05 L183 436.16 L183 437.2 Z" fill="#6cf70c" stroke="#b6f56a" stroke-width="0.6"/>
<rect x="134.3" y="435.4" width="100.1" height="1.6" fill="#6cf70c"/>
<path d="M134.5 436.53 L134.7 427.67 L135.5 436.01 L136.06 436.13 L136.62 435.76 L137.19 435.65 L137.75 435.85 L138.31 435.63 L138.88 435.62 L139.44 435.74 L140 435.66 L140.56 435.41 L141.11 435.17 L141.67 435.23 L142.22 435.44 L142.78 435.38 L143.33 434.24 L143.89 434.06 L144.44 435.03 L145 435.05 L145.56 434.72 L146.11 434.21 L146.67 434.96 L147.22 434.86 L147.78 433.71 L148.33 434.72 L148.89 434.46 L149.44 433.95 L150 434.54 L150.6 434.06 L151.2 434.17 L151.8 433.35 L152.4 433.6 L153 433.43 L153.6 432.99 L154.2 432.75 L154.8 432.45 L155.4 431.08 L156 432.19 L156.6 431.87 L157.2 430.89 L157.8 430.93 L158.4 430.98 L159 430.53 L159.67 429.63 L160.33 430 L161 428.86 L161.67 428.04 L162.33 427.88 L163 427.45 L163.67 426.84 L164.33 426.51 L165 425.75 L165.67 425.33 L166.33 423.3 L167 423.89 L167.67 423.76 L168.33 421.34 L169 421.45 L169.67 422.86 L170.33 422.52 L171 422.37 L171.67 422.39 L172.33 419.92 L173 421.14 L173.67 419.57 L174.33 421.63 L175 421.89 L175.67 419.02 L176.33 420.83 L177 420 L177.67 417.86 L178.33 419.51 L179 417.62 L179.67 419.04 L180.33 419.5 L181 419.68 L181.67 418.53 L182.33 419.16 L183 418.61 L183.67 416.26 L184.33 416.81 L185 415.74 L185.67 415.12 L186.33 415.15 L187 414.11 L187.67 413.2 L188.33 413.31 L189 411.76 L189.75 411.17 L190.5 408.84 L191.25 411.94 L192 413.19 L192.75 412.26 L193.5 413.64 L194.25 413.71 L195 415.03 L195.67 416.96 L196.33 418.21 L197 418.95 L197.67 419.43 L198.33 420.21 L199 419.95 L199.67 421.37 L200.33 421.6 L201 421.7 L201.67 422.3 L202.33 420.79 L203 422.82 L203.67 422.3 L204.33 423.07 L205 424.86 L205.67 425.01 L206.33 425.13 L207 426.19 L207.67 425.62 L208.33 427.5 L209 427.93 L209.67 428.43 L210.33 429.31 L211 428.97 L211.67 430.74 L212.33 431.42 L213 432.58 L213.67 432.93 L214.33 433.35 L215 433.74 L215.6 433.97 L216.2 434.23 L216.8 433.38 L217.4 434.3 L218 434.64 L218.57 434.73 L219.14 434.73 L219.71 433.9 L220.29 434.28 L220.86 435.03 L221.43 433.99 L222 434.85 L222.57 435.09 L223.14 435.14 L223.71 434.99 L224.29 434.27 L224.86 435.39 L225.43 435.3 L226 435.41 L226.56 435.41 L227.12 435.63 L227.68 434.83 L228.24 435.03 L228.8 434.88 L229.36 435.38 L229.92 435.55 L230.48 435.59 L231.04 435.69 L231.6 435.82 L232.16 435.99 L232.72 435.43 L233.28 435.1 L233.84 436.08 L234.4 435.09" fill="none" stroke="#d8182a" stroke-width="1.6" stroke-linejoin="round"/>
<clipPath id="gc9"><path d="M135 437.2 L135 434.78 L135.5 434.99 L136 434.87 L136.5 435.74 L137 435.92 L137.5 435.41 L138 434.81 L138.5 435.05 L139 435.26 L139.5 434.32 L140 434.17 L140.5 434.68 L141 434.15 L141.5 434.02 L142 433.67 L142.5 433.46 L143 433.66 L143.5 433.55 L144 432.45 L144.5 432.62 L145 432.9 L145.5 432.53 L146 432 L146.5 432.38 L147 430.9 L147.5 429.29 L148 430.96 L148.5 430.75 L149 430.03 L149.5 429.78 L150 430.35 L150.5 429.29 L151 425.75 L151.5 428.8 L152 426.64 L152.5 424.87 L153 427.44 L153.5 426.01 L154 425.96 L154.5 424.78 L155 424.02 L155.5 424.15 L156 422.99 L156.5 424.1 L157 422.14 L157.5 421.55 L158 421.96 L158.5 418.24 L159 421.58 L159.5 419.28 L160 419.57 L160.5 419.45 L161 420.33 L161.5 421.17 L162 418.9 L162.5 420.75 L163 422.47 L163.5 420.89 L164 422.69 L164.5 423.14 L165 424.99 L165.5 425.55 L166 426.2 L166.5 427.27 L167 423.82 L167.5 428.17 L168 427.52 L168.5 427.71 L169 429.2 L169.5 429.35 L170 430.8 L170.5 431.07 L171 431.41 L171.5 431.96 L172 432.33 L172.5 431.75 L173 432.54 L173.5 432.65 L174 433.16 L174.5 433.04 L175 433.56 L175.5 433.99 L176 434.09 L176.5 434.6 L177 434.85 L177.5 434.41 L178 434.81 L178.5 434.71 L179 435.26 L179.5 435.15 L180 435.01 L180.5 435.28 L181 435.41 L181.5 435.88 L182 435.55 L182.5 436.05 L183 436.16 L183 437.2 Z"/><rect x="134.3" y="435" width="100.1" height="3"/><rect x="133.3" y="377.3" width="1.8" height="59.9"/></clipPath>
<path d="M134.5 436.53 L134.7 427.67 L135.5 436.01 L136.06 436.13 L136.62 435.76 L137.19 435.65 L137.75 435.85 L138.31 435.63 L138.88 435.62 L139.44 435.74 L140 435.66 L140.56 435.41 L141.11 435.17 L141.67 435.23 L142.22 435.44 L142.78 435.38 L143.33 434.24 L143.89 434.06 L144.44 435.03 L145 435.05 L145.56 434.72 L146.11 434.21 L146.67 434.96 L147.22 434.86 L147.78 433.71 L148.33 434.72 L148.89 434.46 L149.44 433.95 L150 434.54 L150.6 434.06 L151.2 434.17 L151.8 433.35 L152.4 433.6 L153 433.43 L153.6 432.99 L154.2 432.75 L154.8 432.45 L155.4 431.08 L156 432.19 L156.6 431.87 L157.2 430.89 L157.8 430.93 L158.4 430.98 L159 430.53 L159.67 429.63 L160.33 430 L161 428.86 L161.67 428.04 L162.33 427.88 L163 427.45 L163.67 426.84 L164.33 426.51 L165 425.75 L165.67 425.33 L166.33 423.3 L167 423.89 L167.67 423.76 L168.33 421.34 L169 421.45 L169.67 422.86 L170.33 422.52 L171 422.37 L171.67 422.39 L172.33 419.92 L173 421.14 L173.67 419.57 L174.33 421.63 L175 421.89 L175.67 419.02 L176.33 420.83 L177 420 L177.67 417.86 L178.33 419.51 L179 417.62 L179.67 419.04 L180.33 419.5 L181 419.68 L181.67 418.53 L182.33 419.16 L183 418.61 L183.67 416.26 L184.33 416.81 L185 415.74 L185.67 415.12 L186.33 415.15 L187 414.11 L187.67 413.2 L188.33 413.31 L189 411.76 L189.75 411.17 L190.5 408.84 L191.25 411.94 L192 413.19 L192.75 412.26 L193.5 413.64 L194.25 413.71 L195 415.03 L195.67 416.96 L196.33 418.21 L197 418.95 L197.67 419.43 L198.33 420.21 L199 419.95 L199.67 421.37 L200.33 421.6 L201 421.7 L201.67 422.3 L202.33 420.79 L203 422.82 L203.67 422.3 L204.33 423.07 L205 424.86 L205.67 425.01 L206.33 425.13 L207 426.19 L207.67 425.62 L208.33 427.5 L209 427.93 L209.67 428.43 L210.33 429.31 L211 428.97 L211.67 430.74 L212.33 431.42 L213 432.58 L213.67 432.93 L214.33 433.35 L215 433.74 L215.6 433.97 L216.2 434.23 L216.8 433.38 L217.4 434.3 L218 434.64 L218.57 434.73 L219.14 434.73 L219.71 433.9 L220.29 434.28 L220.86 435.03 L221.43 433.99 L222 434.85 L222.57 435.09 L223.14 435.14 L223.71 434.99 L224.29 434.27 L224.86 435.39 L225.43 435.3 L226 435.41 L226.56 435.41 L227.12 435.63 L227.68 434.83 L228.24 435.03 L228.8 434.88 L229.36 435.38 L229.92 435.55 L230.48 435.59 L231.04 435.69 L231.6 435.82 L232.16 435.99 L232.72 435.43 L233.28 435.1 L233.84 436.08 L234.4 435.09" fill="none" stroke="#9a3c08" stroke-width="1.7" stroke-linejoin="round" clip-path="url(#gc9)"/>
<rect x="134.3" y="377.3" width="100.1" height="59.9" fill="none" stroke="#7a7a7a" stroke-width="1"/>
<line x1="133.1" y1="377.3" x2="134.3" y2="377.3" stroke="#555" stroke-width="0.8"/>
<line x1="133.1" y1="379.7" x2="134.3" y2="379.7" stroke="#555" stroke-width="0.8"/>
<line x1="133.1" y1="382.09" x2="134.3" y2="382.09" stroke="#555" stroke-width="0.8"/>
<line x1="133.1" y1="384.49" x2="134.3" y2="384.49" stroke="#555" stroke-width="0.8"/>
<line x1="133.1" y1="386.88" x2="134.3" y2="386.88" stroke="#555" stroke-width="0.8"/>
<line x1="133.1" y1="389.28" x2="134.3" y2="389.28" stroke="#555" stroke-width="0.8"/>
<line x1="133.1" y1="391.68" x2="134.3" y2="391.68" stroke="#555" stroke-width="0.8"/>
<line x1="133.1" y1="394.07" x2="134.3" y2="394.07" stroke="#555" stroke-width="0.8"/>
<line x1="133.1" y1="396.47" x2="134.3" y2="396.47" stroke="#555" stroke-width="0.8"/>
<line x1="133.1" y1="398.86" x2="134.3" y2="398.86" stroke="#555" stroke-width="0.8"/>
<line x1="133.1" y1="401.26" x2="134.3" y2="401.26" stroke="#555" stroke-width="0.8"/>
<line x1="133.1" y1="403.66" x2="134.3" y2="403.66" stroke="#555" stroke-width="0.8"/>
<line x1="133.1" y1="406.05" x2="134.3" y2="406.05" stroke="#555" stroke-width="0.8"/>
<line x1="133.1" y1="408.45" x2="134.3" y2="408.45" stroke="#555" stroke-width="0.8"/>
<line x1="133.1" y1="410.84" x2="134.3" y2="410.84" stroke="#555" stroke-width="0.8"/>
<line x1="133.1" y1="413.24" x2="134.3" y2="413.24" stroke="#555" stroke-width="0.8"/>
<line x1="133.1" y1="415.64" x2="134.3" y2="415.64" stroke="#555" stroke-width="0.8"/>
<line x1="133.1" y1="418.03" x2="134.3" y2="418.03" stroke="#555" stroke-width="0.8"/>
<line x1="133.1" y1="420.43" x2="134.3" y2="420.43" stroke="#555" stroke-width="0.8"/>
<line x1="133.1" y1="422.82" x2="134.3" y2="422.82" stroke="#555" stroke-width="0.8"/>
<line x1="133.1" y1="425.22" x2="134.3" y2="425.22" stroke="#555" stroke-width="0.8"/>
<line x1="133.1" y1="427.62" x2="134.3" y2="427.62" stroke="#555" stroke-width="0.8"/>
<line x1="133.1" y1="430.01" x2="134.3" y2="430.01" stroke="#555" stroke-width="0.8"/>
<line x1="133.1" y1="432.41" x2="134.3" y2="432.41" stroke="#555" stroke-width="0.8"/>
<line x1="133.1" y1="434.8" x2="134.3" y2="434.8" stroke="#555" stroke-width="0.8"/>
<line x1="133.1" y1="437.2" x2="134.3" y2="437.2" stroke="#555" stroke-width="0.8"/>
<line x1="132.1" y1="377.3" x2="134.3" y2="377.3" stroke="#444" stroke-width="0.9"/>
<line x1="132.1" y1="389.28" x2="134.3" y2="389.28" stroke="#444" stroke-width="0.9"/>
<line x1="132.1" y1="401.26" x2="134.3" y2="401.26" stroke="#444" stroke-width="0.9"/>
<line x1="132.1" y1="413.24" x2="134.3" y2="413.24" stroke="#444" stroke-width="0.9"/>
<line x1="132.1" y1="425.22" x2="134.3" y2="425.22" stroke="#444" stroke-width="0.9"/>
<line x1="132.1" y1="437.2" x2="134.3" y2="437.2" stroke="#444" stroke-width="0.9"/>
<text transform="translate(130.9 377.3) rotate(-90)" font-family='"Liberation Serif", serif' font-size="4.5" font-weight="bold" text-anchor="middle" fill="#000">50</text>
<text transform="translate(130.9 389.28) rotate(-90)" font-family='"Liberation Serif", serif' font-size="4.5" font-weight="bold" text-anchor="middle" fill="#000">40</text>
<text transform="translate(130.9 401.26) rotate(-90)" font-family='"Liberation Serif", serif' font-size="4.5" font-weight="bold" text-anchor="middle" fill="#000">30</text>
<text transform="translate(130.9 413.24) rotate(-90)" font-family='"Liberation Serif", serif' font-size="4.5" font-weight="bold" text-anchor="middle" fill="#000">20</text>
<text transform="translate(130.9 425.22) rotate(-90)" font-family='"Liberation Serif", serif' font-size="4.5" font-weight="bold" text-anchor="middle" fill="#000">10</text>
<text transform="translate(130.9 437.2) rotate(-90)" font-family='"Liberation Serif", serif' font-size="4.5" font-weight="bold" text-anchor="middle" fill="#000">0</text>
<text transform="translate(127.4 407.25) rotate(-90)" font-family='"Liberation Serif", serif' font-size="5" text-anchor="middle" fill="#000" stroke="#000" stroke-width="0.12">Counts</text>
<text x="134.3" y="445" font-family='"Liberation Serif", serif' font-size="6" text-anchor="middle" fill="#111">10<tspan font-size="4.2" dy="-2.4">0</tspan></text>
<text x="158.95" y="445" font-family='"Liberation Serif", serif' font-size="6" text-anchor="middle" fill="#111">10<tspan font-size="4.2" dy="-2.4">1</tspan></text>
<text x="183.6" y="445" font-family='"Liberation Serif", serif' font-size="6" text-anchor="middle" fill="#111">10<tspan font-size="4.2" dy="-2.4">2</tspan></text>
<text x="208.25" y="445" font-family='"Liberation Serif", serif' font-size="6" text-anchor="middle" fill="#111">10<tspan font-size="4.2" dy="-2.4">3</tspan></text>
<text x="232.9" y="445" font-family='"Liberation Serif", serif' font-size="6" text-anchor="middle" fill="#111">10<tspan font-size="4.2" dy="-2.4">4</tspan></text>
<text x="187.35" y="450.4" font-family='"Liberation Serif", serif' font-size="6" text-anchor="middle" fill="#111">FL2-Height</text>
<text transform="translate(180.6 408.8) scale(1 1.2)" font-family='"Liberation Serif", serif' font-size="6.8" fill="#111" stroke="#111" stroke-width="0.18">818&#177;15</text>
<path d="M364 101.07 L364.5 100.07 L365 98.27 L365.5 96.8 L366 95.18 L366.5 94.61 L367 92.6 L367.5 90.94 L368 89.34 L368.5 88.11 L369 86.6 L369.5 84.95 L370 83.34 L370.5 82.37 L371 81.73 L371.5 79.87 L372 78.96 L372.52 78.03 L373.04 77.1 L373.56 76.45 L374.08 75.21 L374.6 74.84 L375.2 76.37 L375.8 76.44 L376.4 77.95 L377 79.74 L377.5 81.84 L378 82.64 L378.5 85.37 L379 87.36 L379.5 89.58 L380 91.17 L380.5 92.82 L381 94.99 L381.5 96.26 L382 97.16 L382.5 97.61 L383 98.87 L383.5 99.77 L384 99.96 L384.5 99.68 L385 100.2 L385.5 100.31 L386 100.71 L386.5 100.72 L387 100.77 L387.5 101.35 L388 101.28 L388.5 101.67 L389 101.4 L389.5 101.61 L390 101.83 L390.5 101.42 L391 101.87 L391.5 101.49 L392 102.1 L392.5 101.57 L393 102.06 L393.5 101.89 L394 101.82 L394.5 102 L395 102.12" fill="none" stroke="#7de83c" stroke-width="3.4" stroke-linejoin="round"/>
<path d="M363 103.1 L363 101.58 L363.47 102.32 L363.93 102.34 L364.4 102.19 L364.87 102.23 L365.33 102.6 L365.8 102.5 L366.27 101.15 L366.73 102.54 L367.2 102.15 L367.67 101.03 L368.13 102.07 L368.6 102.44 L369.07 102.12 L369.53 101.63 L370 102.36 L370.45 102.05 L370.91 101.56 L371.36 101.57 L371.82 101.34 L372.27 101.53 L372.73 100.95 L373.18 101.04 L373.64 100.14 L374.09 101.68 L374.55 101.49 L375 101.28 L375.5 101.2 L376 101.38 L376.5 101.57 L377 101.43 L377.5 101.35 L378 99.99 L378.5 100.68 L379 100.62 L379.5 98.98 L380 100.66 L380.5 100.15 L381 100.5 L381.5 100.23 L382 100.71 L382.5 100.69 L383 100.58 L383.5 99.32 L384 99.39 L384.5 99.53 L385 98.92 L385.5 97.27 L386 96.77 L386.5 95.23 L387 94.02 L387.5 94.85 L388 95.25 L388.5 90.08 L389 93.81 L389.5 92.77 L390 92.46 L390.5 89.8 L391 83.55 L391.5 87.05 L392 85.17 L392.5 83.33 L393 81.61 L393.5 83.57 L394 84.9 L394.5 86.16 L395 86.59 L395.5 88.64 L396 89.72 L396.5 86.25 L397 89.42 L397.5 87.12 L398 91.48 L398.5 91 L399 90.27 L399.5 87.84 L400 86.29 L400.5 86.22 L401 90.47 L401.5 86.15 L402 89.67 L402.5 90.76 L403 93.86 L403.5 93.65 L404 91.8 L404.5 91.35 L405 92.59 L405.5 92.84 L406 92.88 L406.5 93.84 L407 94.48 L407.5 95.62 L408 96.21 L408.5 97.16 L409 97.1 L409.5 97.77 L410 96.66 L410.5 97.68 L411 97.71 L411.5 98.5 L412 98.17 L412.5 98.98 L413 98.49 L413.5 99.65 L414 99.73 L414.5 97.97 L415 99.8 L415.5 100.83 L416 100.83 L416.5 100.39 L417 99.61 L417.5 100.67 L418 101.25 L418.5 101.42 L419 101.93 L419.5 101.6 L420 101.99 L420.45 102.17 L420.91 101.94 L421.36 102.55 L421.82 101.87 L422.27 101.86 L422.73 102.55 L423.18 102.69 L423.64 102.43 L424.09 102.03 L424.55 102.27 L425 102.17 L425.5 102.23 L426 100.74 L426.5 102.26 L427 101.49 L427.5 102.01 L428 99.88 L428.5 101.72 L429 102.02 L429.5 102.06 L430 101.82 L430.5 101.63 L431 101.98 L431.5 101.98 L432 102.06 L432.5 102.12 L433 101.73 L433.5 102.23 L434 102.63 L434.5 102.29 L435 102.4 L435.5 102.24 L436 101.48 L436.46 102.09 L436.92 102.63 L437.38 102.24 L437.85 102.45 L438.31 102.32 L438.77 102.25 L439.23 102.36 L439.69 101.85 L440.15 101.92 L440.62 101.15 L441.08 102.15 L441.54 101.42 L442 101.79 L442.5 101.63 L443 101.98 L443.5 101.95 L444 101.53 L444.5 102.62 L445 102.33 L445.46 101.31 L445.92 102.8 L446.38 102.8 L446.84 101.04 L447.3 101.62 L447.76 102.8 L448.22 102.8 L448.68 102.48 L449.13 102.8 L449.59 102.73 L450.05 102.8 L450.51 102.44 L450.97 101.27 L451.43 102.8 L451.89 102.74 L452.35 102.33 L452.81 102.79 L453.27 102.31 L453.73 102.8 L454.19 102.66 L454.65 102.49 L455.11 101.17 L455.57 102.31 L456.02 102.3 L456.48 102.72 L456.94 102.53 L457.4 102.26 L457.86 102.41 L458.32 102.75 L458.78 102.62 L459.24 102.33 L459.7 102.45 L459.7 103.1 Z" fill="#1e3cf0"/>
<rect x="362.8" y="44.7" width="96.9" height="58.4" fill="none" stroke="#7a7a7a" stroke-width="1"/>
<line x1="362.8" y1="44.7" x2="362.8" y2="103.1" stroke="#111" stroke-width="1.6"/>
<line x1="360.8" y1="44.7" x2="362.8" y2="44.7" stroke="#222" stroke-width="0.9"/>
<line x1="360.8" y1="56.38" x2="362.8" y2="56.38" stroke="#222" stroke-width="0.9"/>
<line x1="360.8" y1="68.06" x2="362.8" y2="68.06" stroke="#222" stroke-width="0.9"/>
<line x1="360.8" y1="79.74" x2="362.8" y2="79.74" stroke="#222" stroke-width="0.9"/>
<line x1="360.8" y1="91.42" x2="362.8" y2="91.42" stroke="#222" stroke-width="0.9"/>
<line x1="360.8" y1="103.1" x2="362.8" y2="103.1" stroke="#222" stroke-width="0.9"/>
<line x1="362.8" y1="103.1" x2="459.7" y2="103.1" stroke="#111" stroke-width="1.2"/>
<text transform="translate(359 44.7) rotate(-90)" font-family='"Liberation Serif", serif' font-size="4.8" font-weight="bold" text-anchor="middle" fill="#000">20</text>
<text transform="translate(359 56.38) rotate(-90)" font-family='"Liberation Serif", serif' font-size="4.8" font-weight="bold" text-anchor="middle" fill="#000">16</text>
<text transform="translate(359 68.06) rotate(-90)" font-family='"Liberation Serif", serif' font-size="4.8" font-weight="bold" text-anchor="middle" fill="#000">12</text>
<text transform="translate(359 79.74) rotate(-90)" font-family='"Liberation Serif", serif' font-size="4.8" font-weight="bold" text-anchor="middle" fill="#000">8</text>
<text transform="translate(359 91.42) rotate(-90)" font-family='"Liberation Serif", serif' font-size="4.8" font-weight="bold" text-anchor="middle" fill="#000">4</text>
<text transform="translate(359 103.1) rotate(-90)" font-family='"Liberation Serif", serif' font-size="4.8" font-weight="bold" text-anchor="middle" fill="#000">0</text>
<text transform="translate(355.2 75.07) rotate(-90)" font-family='"Liberation Serif", serif' font-size="5.6" text-anchor="middle" fill="#000" stroke="#000" stroke-width="0.12">Counts</text>
<text x="362.8" y="109.9" font-family='"Liberation Serif", serif' font-size="5.8" text-anchor="middle" fill="#111">10<tspan font-size="4.06" dy="-2.32">0</tspan></text>
<text x="386.66" y="109.9" font-family='"Liberation Serif", serif' font-size="5.8" text-anchor="middle" fill="#111">10<tspan font-size="4.06" dy="-2.32">1</tspan></text>
<text x="410.52" y="109.9" font-family='"Liberation Serif", serif' font-size="5.8" text-anchor="middle" fill="#111">10<tspan font-size="4.06" dy="-2.32">2</tspan></text>
<text x="434.38" y="109.9" font-family='"Liberation Serif", serif' font-size="5.8" text-anchor="middle" fill="#111">10<tspan font-size="4.06" dy="-2.32">3</tspan></text>
<text x="458.25" y="109.9" font-family='"Liberation Serif", serif' font-size="5.8" text-anchor="middle" fill="#111">10<tspan font-size="4.06" dy="-2.32">4</tspan></text>
<text x="410.25" y="115.1" font-family='"Liberation Serif", serif' font-size="6" text-anchor="middle" fill="#111">FL4-Height</text>
<path d="M286 190.3 L286 189.69 L286.5 189.03 L287 189.22 L287.5 188.54 L288 188.69 L288.5 187.88 L289 188.04 L289.5 185.73 L290 186.17 L290.5 187.28 L291 186.18 L291.5 186.52 L292 185.15 L292.5 185.67 L293 185.23 L293.5 185.02 L294 184.92 L294.5 185.59 L295 185.61 L295.5 182.76 L296 185.2 L296.5 184.71 L297 183.97 L297.5 184.97 L298 184.83 L298.5 184.55 L299 181.17 L299.5 180.77 L300 183.06 L300.5 183.11 L301 183.63 L301.5 182.97 L302 179.96 L302.5 182.27 L303 182.58 L303.5 181.12 L304 180.42 L304.5 180.5 L305 179.53 L305.5 178.65 L306 178.65 L306.5 178.62 L307 175.88 L307.5 178.56 L308 176.46 L308.5 175.88 L309 174.76 L309.5 174.54 L310 173.06 L310.5 173.24 L311 170.65 L311.5 171.2 L312 168.89 L312.5 167.51 L313 167.65 L313.5 165.86 L314 158.84 L314.5 166.13 L315 167.62 L315.5 169.24 L316 169.74 L316.5 169.63 L317 171.16 L317.5 169.71 L318 170.87 L318.5 171 L319 173.59 L319.5 173.87 L320 173.41 L320.5 174.06 L321 174.68 L321.5 175.66 L322 177.02 L322.5 173.65 L323 176.3 L323.5 177.65 L324 178.14 L324.5 179.42 L325 179.73 L325.5 178.76 L326 179.48 L326.5 179.34 L327 180.8 L327.5 180.99 L328 181.41 L328.5 181.12 L329 182.41 L329.5 182.38 L330 182.05 L330.5 184.23 L331 183.76 L331.5 184.06 L332 183.7 L332.5 185.35 L333 186.19 L333.5 185.71 L334 186.59 L334.5 186.36 L335 186.67 L335.5 185.82 L336 185.64 L336.5 185 L337 187.41 L337.5 187.41 L338 186.99 L338.5 188.21 L339 188.05 L339.5 188.66 L340 188.34 L340.5 188.91 L341 188.73 L341.5 188.53 L342 187.24 L342.5 188.1 L343 189.02 L343.5 189.65 L344 189.5 L344.5 189.39 L345 189.7 L345.5 189.66 L346 189.7 L346 190.3 Z" fill="#1e3cf0"/>
<path d="M286 190.3 L286 189.31 L286.6 189.43 L287.2 190 L287.8 189.23 L288.4 188.19 L289 188.2 L289.6 187.74 L290.2 188.25 L290.8 187.99 L291.4 186.65 L292 187.4 L292.6 187.08 L293.2 186.75 L293.8 185.59 L294.4 185.39 L295 186.13 L295.6 185.88 L296.2 188.02 L296.8 185.02 L297.4 184.96 L298 184.49 L298.6 183.83 L299.2 183.72 L299.8 184.52 L300.4 184.83 L301 186.44 L301.6 184.02 L302.2 182.59 L302.8 183.13 L303.4 183.6 L304 182 L304.6 182.6 L305.2 183.35 L305.8 181.72 L306.4 182.79 L307 182.01 L307.6 181.49 L308.2 180.52 L308.8 180.42 L309.4 180.3 L310 181.53 L310.6 179.88 L311.2 180.66 L311.8 179.88 L312.4 181.07 L313 181.12 L313.6 180.01 L314.2 180.49 L314.8 180.81 L315.4 180.79 L316 181.82 L316.6 180.13 L317.2 180.91 L317.8 183.96 L318.4 181.63 L319 182.22 L319.6 182.53 L320.2 182.67 L320.8 182.55 L321.4 183.14 L322 182.56 L322.6 183.58 L323.2 182.56 L323.8 182.74 L324.4 184.05 L325 184.3 L325.6 184.23 L326.2 184.66 L326.8 184.86 L327.4 185.42 L328 184.71 L328.6 185.47 L329.2 185.98 L329.8 186.02 L330.4 186.29 L331 187.75 L331.6 186.82 L332.2 187.29 L332.8 188.8 L333.4 188.14 L334 187.7 L334.6 187.38 L335.2 188.56 L335.8 188.03 L336.4 188.88 L337 188.59 L337.6 189.16 L338.2 189.32 L338.8 189.12 L339.4 189.34 L340 190 L340.57 188.78 L341.14 189.46 L341.71 189.74 L342.29 190 L342.86 189.33 L343.43 189.89 L344 189.11 L344.55 189.35 L345.1 189.34 L345.65 189.85 L346.2 189.77 L346.75 190 L347.3 189.41 L347.85 189.21 L348.4 189.73 L348.95 189.65 L349.5 189.7 L350.05 189.46 L350.6 190 L351.15 189.44 L351.7 189.48 L352.25 189.38 L352.8 189.66 L353.35 189.42 L353.9 189.4 L354.45 189.61 L355 190 L355.56 189.76 L356.11 190 L356.67 189.72 L357.22 189.56 L357.78 189.82 L358.33 189.69 L358.89 189.46 L359.44 189.68 L360 189.77 L360.56 189.54 L361.11 189.66 L361.67 190 L362.22 190 L362.78 189.56 L363.33 189.88 L363.89 189.6 L364.44 189.63 L365 190 L365.56 190 L366.11 189.99 L366.67 189.43 L367.22 189.63 L367.78 190 L368.33 189.8 L368.89 190 L369.44 190 L370 189.65 L370.56 189.54 L371.13 189.77 L371.69 189.73 L372.26 189.66 L372.82 190 L373.39 190 L373.95 190 L374.52 189.58 L375.08 189.87 L375.65 189.96 L376.22 189.81 L376.78 190 L377.35 190 L377.91 190 L378.48 189.81 L379.04 190 L379.61 190 L380.17 190 L380.74 189.76 L381.3 189.76 L381.3 190.3 Z" fill="#e8188c" fill-opacity="0.38"/>
<path d="M286 189.31 L286.6 189.43 L287.2 190 L287.8 189.23 L288.4 188.19 L289 188.2 L289.6 187.74 L290.2 188.25 L290.8 187.99 L291.4 186.65 L292 187.4 L292.6 187.08 L293.2 186.75 L293.8 185.59 L294.4 185.39 L295 186.13 L295.6 185.88 L296.2 188.02 L296.8 185.02 L297.4 184.96 L298 184.49 L298.6 183.83 L299.2 183.72 L299.8 184.52 L300.4 184.83 L301 186.44 L301.6 184.02 L302.2 182.59 L302.8 183.13 L303.4 183.6 L304 182 L304.6 182.6 L305.2 183.35 L305.8 181.72 L306.4 182.79 L307 182.01 L307.6 181.49 L308.2 180.52 L308.8 180.42 L309.4 180.3 L310 181.53 L310.6 179.88 L311.2 180.66 L311.8 179.88 L312.4 181.07 L313 181.12 L313.6 180.01 L314.2 180.49 L314.8 180.81 L315.4 180.79 L316 181.82 L316.6 180.13 L317.2 180.91 L317.8 183.96 L318.4 181.63 L319 182.22 L319.6 182.53 L320.2 182.67 L320.8 182.55 L321.4 183.14 L322 182.56 L322.6 183.58 L323.2 182.56 L323.8 182.74 L324.4 184.05 L325 184.3 L325.6 184.23 L326.2 184.66 L326.8 184.86 L327.4 185.42 L328 184.71 L328.6 185.47 L329.2 185.98 L329.8 186.02 L330.4 186.29 L331 187.75 L331.6 186.82 L332.2 187.29 L332.8 188.8 L333.4 188.14 L334 187.7 L334.6 187.38 L335.2 188.56 L335.8 188.03 L336.4 188.88 L337 188.59 L337.6 189.16 L338.2 189.32 L338.8 189.12 L339.4 189.34 L340 190 L340.57 188.78 L341.14 189.46 L341.71 189.74 L342.29 190 L342.86 189.33 L343.43 189.89 L344 189.11 L344.55 189.35 L345.1 189.34 L345.65 189.85 L346.2 189.77 L346.75 190 L347.3 189.41 L347.85 189.21 L348.4 189.73 L348.95 189.65 L349.5 189.7 L350.05 189.46 L350.6 190 L351.15 189.44 L351.7 189.48 L352.25 189.38 L352.8 189.66 L353.35 189.42 L353.9 189.4 L354.45 189.61 L355 190 L355.56 189.76 L356.11 190 L356.67 189.72 L357.22 189.56 L357.78 189.82 L358.33 189.69 L358.89 189.46 L359.44 189.68 L360 189.77 L360.56 189.54 L361.11 189.66 L361.67 190 L362.22 190 L362.78 189.56 L363.33 189.88 L363.89 189.6 L364.44 189.63 L365 190 L365.56 190 L366.11 189.99 L366.67 189.43 L367.22 189.63 L367.78 190 L368.33 189.8 L368.89 190 L369.44 190 L370 189.65 L370.56 189.54 L371.13 189.77 L371.69 189.73 L372.26 189.66 L372.82 190 L373.39 190 L373.95 190 L374.52 189.58 L375.08 189.87 L375.65 189.96 L376.22 189.81 L376.78 190 L377.35 190 L377.91 190 L378.48 189.81 L379.04 190 L379.61 190 L380.17 190 L380.74 189.76 L381.3 189.76" fill="none" stroke="#e8188c" stroke-width="2.3" stroke-opacity="0.85" stroke-linejoin="round"/>
<rect x="285.4" y="131.3" width="95.9" height="59" fill="none" stroke="#7a7a7a" stroke-width="1"/>
<line x1="285.4" y1="131.3" x2="285.4" y2="190.3" stroke="#111" stroke-width="1.6"/>
<line x1="283.4" y1="131.3" x2="285.4" y2="131.3" stroke="#222" stroke-width="0.9"/>
<line x1="283.4" y1="143.1" x2="285.4" y2="143.1" stroke="#222" stroke-width="0.9"/>
<line x1="283.4" y1="154.9" x2="285.4" y2="154.9" stroke="#222" stroke-width="0.9"/>
<line x1="283.4" y1="166.7" x2="285.4" y2="166.7" stroke="#222" stroke-width="0.9"/>
<line x1="283.4" y1="178.5" x2="285.4" y2="178.5" stroke="#222" stroke-width="0.9"/>
<line x1="283.4" y1="190.3" x2="285.4" y2="190.3" stroke="#222" stroke-width="0.9"/>
<line x1="285.4" y1="190.3" x2="381.3" y2="190.3" stroke="#111" stroke-width="1.2"/>
<text transform="translate(281.6 131.3) rotate(-90)" font-family='"Liberation Serif", serif' font-size="4.8" font-weight="bold" text-anchor="middle" fill="#000">20</text>
<text transform="translate(281.6 143.1) rotate(-90)" font-family='"Liberation Serif", serif' font-size="4.8" font-weight="bold" text-anchor="middle" fill="#000">16</text>
<text transform="translate(281.6 154.9) rotate(-90)" font-family='"Liberation Serif", serif' font-size="4.8" font-weight="bold" text-anchor="middle" fill="#000">12</text>
<text transform="translate(281.6 166.7) rotate(-90)" font-family='"Liberation Serif", serif' font-size="4.8" font-weight="bold" text-anchor="middle" fill="#000">8</text>
<text transform="translate(281.6 178.5) rotate(-90)" font-family='"Liberation Serif", serif' font-size="4.8" font-weight="bold" text-anchor="middle" fill="#000">4</text>
<text transform="translate(281.6 190.3) rotate(-90)" font-family='"Liberation Serif", serif' font-size="4.8" font-weight="bold" text-anchor="middle" fill="#000">0</text>
<text transform="translate(277.8 161.98) rotate(-90)" font-family='"Liberation Serif", serif' font-size="5.6" text-anchor="middle" fill="#000" stroke="#000" stroke-width="0.12">Counts</text>
<text x="285.4" y="197.5" font-family='"Liberation Serif", serif' font-size="6.4" text-anchor="middle" fill="#111">10<tspan font-size="4.48" dy="-2.56">0</tspan></text>
<text x="309.02" y="197.5" font-family='"Liberation Serif", serif' font-size="6.4" text-anchor="middle" fill="#111">10<tspan font-size="4.48" dy="-2.56">1</tspan></text>
<text x="332.63" y="197.5" font-family='"Liberation Serif", serif' font-size="6.4" text-anchor="middle" fill="#111">10<tspan font-size="4.48" dy="-2.56">2</tspan></text>
<text x="356.25" y="197.5" font-family='"Liberation Serif", serif' font-size="6.4" text-anchor="middle" fill="#111">10<tspan font-size="4.48" dy="-2.56">3</tspan></text>
<text x="379.86" y="197.5" font-family='"Liberation Serif", serif' font-size="6.4" text-anchor="middle" fill="#111">10<tspan font-size="4.48" dy="-2.56">4</tspan></text>
<text x="332.05" y="202.9" font-family='"Liberation Serif", serif' font-size="6.2" text-anchor="middle" fill="#111">FL1-Height</text>
<path d="M401 187.2 L401 186.35 L401.5 186.42 L402 186.37 L402.5 185.96 L403 185.91 L403.5 186.04 L404 185.84 L404.5 185.43 L405 185.59 L405.5 185.35 L406 184.85 L406.5 184.41 L407 184.39 L407.5 183.89 L408 183.48 L408.5 183.19 L409 183.04 L409.5 182.55 L410 182.42 L410.5 182.29 L411 182.04 L411.5 181.68 L412 181.72 L412.5 180.95 L413 180.87 L413.5 181.07 L414 180.78 L414.5 180.57 L415 180.21 L415.5 179.73 L416 179.63 L416.5 179.16 L417 178.49 L417.5 178.3 L418 177.86 L418.5 178.22 L419 177.45 L419.5 177.22 L420 177.03 L420.5 176.24 L421 176.39 L421.5 176.07 L422 175.67 L422.5 175.36 L423 174.43 L423.5 173.86 L424 174.05 L424.5 173.59 L425 172.87 L425.5 172.09 L426 171.14 L426.5 171.1 L427 169.96 L427.5 169.59 L428 168.32 L428.5 168.14 L429 168.18 L429.5 168.27 L430 168.26 L430.5 167.5 L431 167.72 L431.5 168.02 L432 169.15 L432.5 169.66 L433 170.06 L433.5 174.12 L434 178.31 L434.5 183 L435 186.9 L435 187.2 Z" fill="#d2281a"/>
<path d="M401 187.2 L401 186.62 L401.5 185.83 L402 186.52 L402.5 186.37 L403 184.48 L403.5 184.32 L404 185.96 L404.5 185.85 L405 184.54 L405.5 184.43 L406 184.24 L406.5 185.43 L407 184.72 L407.5 184.42 L408 184.82 L408.5 184.02 L409 183.98 L409.5 183.58 L410 183.73 L410.5 183.33 L411 183.04 L411.5 182.09 L412 182.79 L412.5 181.7 L413 182.31 L413.5 181.57 L414 181.32 L414.5 180.62 L415 180.73 L415.5 177.58 L416 181.03 L416.5 180.16 L417 180.17 L417.5 180.44 L418 179.71 L418.5 177 L419 178.03 L419.5 179.18 L420 178.81 L420.5 176 L421 176.36 L421.5 176.38 L422 176.45 L422.5 175.53 L423 175.87 L423.5 174.82 L424 171.75 L424.5 169.97 L425 173.79 L425.5 173.29 L426 171.56 L426.5 172.39 L427 168.95 L427.5 170.79 L428 169.89 L428.5 170.01 L429 169.61 L429.5 168.88 L430 169.46 L430.5 167.86 L431 169.05 L431.5 167.47 L432 169.43 L432.5 169.21 L433 166.87 L433.5 167.95 L434 168.68 L434.5 170.49 L435 170.85 L435.5 169.3 L436 172.23 L436.5 171.59 L437 171.94 L437.5 169.36 L438 173.13 L438.5 174.11 L439 176.47 L439.5 176.3 L440 178.1 L440.5 178.18 L441 179.03 L441.5 180 L442 180.79 L442.5 180.97 L443 181.06 L443.5 181.32 L444 179.81 L444.5 181.72 L445 183.62 L445.5 181.3 L446 183.73 L446.5 184.85 L447 185.24 L447.5 185.43 L448 184.43 L448.5 185.37 L449 186.2 L449.5 185.48 L450 185.65 L450.5 186.07 L451 186.1 L451.5 185.64 L452 186.66 L452.5 186.64 L453 186.77 L453.5 185.91 L454 186.9 L454.5 186.7 L455 186.9 L455.5 186.9 L456 186.9 L456 187.2 Z" fill="#1e3cf0"/>
<path d="M399.9 186.9 L400.1 175.5 L400.8 186.9 L401.53 186.02 L402.27 185.87 L403 184.92 L403.6 185.57 L404.2 185.22 L404.8 184.56 L405.4 183.65 L406 185.11 L406.6 183.24 L407.2 182.99 L407.8 182.73 L408.4 181.06 L409 180.53 L409.67 181.21 L410.33 181.27 L411 181.13 L411.67 180.22 L412.33 179.25 L413 178.44 L413.67 178.69 L414.33 179.54 L415 178.57 L415.67 177.45 L416.33 177.82 L417 177.71 L417.67 178.34 L418.33 177.72 L419 176.79 L419.67 174.76 L420.33 175.44 L421 174.01 L421.67 174.68 L422.33 172.02 L423 175.47 L423.67 172.7 L424.33 169.95 L425 169.53 L425.67 170.54 L426.33 169.85 L427 170.44 L427.67 168.8 L428.33 166.81 L429 166.01 L429.67 165.54 L430.33 166.44 L431 167.27 L431.67 167.59 L432.33 167.27 L433 164.91 L433.67 165.45 L434.33 165.91 L435 165.35 L435.67 166.37 L436.33 168.13 L437 169.02 L437.67 169.4 L438.33 171.2 L439 172.35 L439.67 173.39 L440.33 173.91 L441 175.36 L441.67 175.34 L442.33 175.64 L443 177.83 L443.67 177.63 L444.33 179.62 L445 179.35 L445.67 180.15 L446.33 180.22 L447 181.54 L447.67 181.28 L448.33 183.03 L449 182.85 L449.67 183.88 L450.33 183.96 L451 184.65 L451.67 183.93 L452.33 185.28 L453 184.76 L453.6 185.62 L454.2 185.06 L454.8 185.26 L455.4 185.88 L456 185.67 L456.6 185.99 L457.2 186.23 L457.8 186.9 L458.4 186.67 L459 185.99 L459.6 186.9 L460.2 186.32 L460.8 186.9 L461.4 186.72 L462 186.42 L462.57 186.89 L463.13 186.9 L463.7 186.71 L464.26 186.9 L464.83 186.9 L465.39 186.53 L465.96 186.56 L466.52 186.9 L467.09 186.74 L467.65 186.64 L468.22 186.9 L468.78 186.77 L469.35 186.9 L469.91 186.57 L470.48 186.9 L471.04 186.9 L471.61 186.9 L472.17 186.9 L472.74 186.71 L473.3 186.57 L473.87 186.9 L474.43 186.6 L475 186.9 L475.56 186.9 L476.12 186.9 L476.68 186.76 L477.24 186.9 L477.8 186.9 L478.36 186.9 L478.92 186.9 L479.48 186.9 L480.04 186.9 L480.61 186.9 L481.17 186.9 L481.73 186.9 L482.29 186.8 L482.85 186.8 L483.41 186.9 L483.97 186.9 L484.53 186.9 L485.09 186.9 L485.65 186.9 L486.21 186.9 L486.77 186.9 L487.33 186.9 L487.89 186.75 L488.45 186.73 L489.01 186.9 L489.57 186.9 L490.13 186.9 L490.69 186.71 L491.26 186.9 L491.82 186.9 L492.38 186.9 L492.94 186.9 L493.5 186.89 L494.06 186.9 L494.62 186.9 L495.18 186.9 L495.74 186.9 L496.3 186.9" fill="none" stroke="#d8182a" stroke-width="1.6" stroke-linejoin="round"/>
<rect x="399.6" y="128.1" width="96.7" height="59.1" fill="none" stroke="#7a7a7a" stroke-width="1"/>
<line x1="399.6" y1="128.1" x2="399.6" y2="187.2" stroke="#111" stroke-width="1.6"/>
<line x1="397.6" y1="128.1" x2="399.6" y2="128.1" stroke="#222" stroke-width="0.9"/>
<line x1="397.6" y1="139.92" x2="399.6" y2="139.92" stroke="#222" stroke-width="0.9"/>
<line x1="397.6" y1="151.74" x2="399.6" y2="151.74" stroke="#222" stroke-width="0.9"/>
<line x1="397.6" y1="163.56" x2="399.6" y2="163.56" stroke="#222" stroke-width="0.9"/>
<line x1="397.6" y1="175.38" x2="399.6" y2="175.38" stroke="#222" stroke-width="0.9"/>
<line x1="397.6" y1="187.2" x2="399.6" y2="187.2" stroke="#222" stroke-width="0.9"/>
<line x1="399.6" y1="187.2" x2="496.3" y2="187.2" stroke="#111" stroke-width="1.2"/>
<text transform="translate(395.8 128.1) rotate(-90)" font-family='"Liberation Serif", serif' font-size="4.8" font-weight="bold" text-anchor="middle" fill="#000">20</text>
<text transform="translate(395.8 139.92) rotate(-90)" font-family='"Liberation Serif", serif' font-size="4.8" font-weight="bold" text-anchor="middle" fill="#000">16</text>
<text transform="translate(395.8 151.74) rotate(-90)" font-family='"Liberation Serif", serif' font-size="4.8" font-weight="bold" text-anchor="middle" fill="#000">12</text>
<text transform="translate(395.8 163.56) rotate(-90)" font-family='"Liberation Serif", serif' font-size="4.8" font-weight="bold" text-anchor="middle" fill="#000">8</text>
<text transform="translate(395.8 175.38) rotate(-90)" font-family='"Liberation Serif", serif' font-size="4.8" font-weight="bold" text-anchor="middle" fill="#000">4</text>
<text transform="translate(395.8 187.2) rotate(-90)" font-family='"Liberation Serif", serif' font-size="4.8" font-weight="bold" text-anchor="middle" fill="#000">0</text>
<text transform="translate(392 158.83) rotate(-90)" font-family='"Liberation Serif", serif' font-size="5.6" text-anchor="middle" fill="#000" stroke="#000" stroke-width="0.12">Counts</text>
<text x="399.6" y="194.4" font-family='"Liberation Serif", serif' font-size="6.4" text-anchor="middle" fill="#111">10<tspan font-size="4.48" dy="-2.56">0</tspan></text>
<text x="423.41" y="194.4" font-family='"Liberation Serif", serif' font-size="6.4" text-anchor="middle" fill="#111">10<tspan font-size="4.48" dy="-2.56">1</tspan></text>
<text x="447.22" y="194.4" font-family='"Liberation Serif", serif' font-size="6.4" text-anchor="middle" fill="#111">10<tspan font-size="4.48" dy="-2.56">2</tspan></text>
<text x="471.04" y="194.4" font-family='"Liberation Serif", serif' font-size="6.4" text-anchor="middle" fill="#111">10<tspan font-size="4.48" dy="-2.56">3</tspan></text>
<text x="494.85" y="194.4" font-family='"Liberation Serif", serif' font-size="6.4" text-anchor="middle" fill="#111">10<tspan font-size="4.48" dy="-2.56">4</tspan></text>
<text x="446.65" y="199.8" font-family='"Liberation Serif", serif' font-size="6.2" text-anchor="middle" fill="#111">FL1-Height</text>
<path d="M286 272.4 L286 271.12 L286.5 271.4 L287 270.87 L287.5 271.01 L288 270.8 L288.5 270.75 L289 271.14 L289.5 270.4 L290 270.52 L290.5 269.67 L291 270.43 L291.5 268.1 L292 269.59 L292.5 269.53 L293 269.35 L293.5 268.77 L294 266.08 L294.5 268.93 L295 268.22 L295.5 267.71 L296 268.88 L296.5 268.18 L297 268.48 L297.5 265.35 L298 267.2 L298.5 266.99 L299 267.45 L299.5 264.87 L300 267.05 L300.5 267.16 L301 266.97 L301.5 265.34 L302 265.59 L302.5 265.72 L303 264.41 L303.5 264.96 L304 261.49 L304.5 262.53 L305 262.78 L305.5 262.71 L306 264.34 L306.5 264.12 L307 263.02 L307.5 261.92 L308 261.22 L308.5 261.26 L309 256.77 L309.5 254.32 L310 257.55 L310.5 259.02 L311 257.99 L311.5 257.16 L312 257.37 L312.5 251.86 L313 253.13 L313.5 251.25 L314.3 245.37 L314.87 247.84 L315.43 251.51 L316 247.42 L316.5 254.15 L317 252.72 L317.5 257.76 L318 255.42 L318.5 258.86 L319 258.29 L319.5 259.71 L320 260.01 L320.5 260.67 L321 261.57 L321.5 260.24 L322 261.52 L322.5 260.79 L323 261.94 L323.5 260.73 L324 261.33 L324.5 260.33 L325 261.99 L325.5 263.25 L326 263.23 L326.5 263.07 L327 264.06 L327.5 264.94 L328 264.77 L328.5 265.94 L329 266.48 L329.5 265.55 L330 265.89 L330.5 267.26 L331 267.32 L331.5 267.32 L332 268.56 L332.5 268.06 L333 266.91 L333.5 269.42 L334 269.79 L334.5 270.08 L335 270.28 L335.5 271.18 L336 270.54 L336.5 270.98 L337 271.51 L337.5 272.08 L338 270.66 L338 272.4 Z" fill="#1e3cf0"/>
<path d="M286 270.74 L286.6 270.76 L287.2 269.58 L287.8 267.66 L288.4 268.21 L289 266.26 L289.67 267.98 L290.33 268.02 L291 267.67 L291.6 268.56 L292.2 267.34 L292.8 268.16 L293.4 267.59 L294 267.49 L294.6 266.47 L295.2 266.39 L295.8 266.13 L296.4 265.76 L297 266.56 L297.6 268.9 L298.2 266.19 L298.8 267.83 L299.4 265.36 L300 265.89 L300.6 265.62 L301.2 265.72 L301.8 265.17 L302.4 264.9 L303 264.35 L303.6 264.71 L304.2 263.86 L304.8 265.41 L305.4 264.95 L306 263.59 L306.6 264.84 L307.2 263.11 L307.8 263.99 L308.4 263.87 L309 262.76 L309.6 262.25 L310.2 263.27 L310.8 262.2 L311.4 261.77 L312 262.59 L312.67 259.77 L313.33 260.94 L314 258.67 L314.67 257.94 L315.33 257.78 L316 257.01 L316.67 256.58 L317.33 255.74 L318 253.86 L318.75 256.12 L319.5 252.27 L320.12 252.82 L320.75 252.55 L321.38 254.99 L322 255.45 L322.67 255.46 L323.33 256.4 L324 258.35 L324.5 254.92 L325.12 255.26 L325.75 255.95 L326.38 258.72 L327 258.12 L327.6 262.96 L328.2 263.85 L328.8 261.1 L329.4 261.43 L330 262.43 L330.67 264.12 L331.33 263.44 L332 265.59 L332.67 267.89 L333.33 267.09 L334 268.99 L334.6 269.93 L335.2 269.02 L335.8 269.24 L336.4 269.52 L337 269.88 L337.6 269.52 L338.2 270.06 L338.8 270.07 L339.4 269.84 L340 270.69 L340.56 270.09 L341.11 270.52 L341.67 270.05 L342.22 270.5 L342.78 271.19 L343.33 271.04 L343.89 270.95 L344.44 270.85 L345 271.18 L345.56 270.84 L346.11 271.57 L346.67 270.78 L347.22 270.89 L347.78 270.81 L348.33 270.93 L348.89 271.25 L349.44 271.28 L350 271.26 L350.56 271.15 L351.11 271.08 L351.67 271.47 L352.22 272.1 L352.78 271.32 L353.33 271.27 L353.89 271.3 L354.44 271.28 L355 271.44 L355.56 271.33 L356.11 271.62 L356.67 271.74 L357.22 271.18 L357.78 271.26 L358.33 271.32 L358.89 271.49 L359.44 271.41 L360 271.37 L360.55 271.88 L361.11 271.47 L361.66 271.9 L362.22 271.84 L362.77 272.1 L363.32 272.1 L363.88 272.1 L364.43 272.1 L364.98 271.67 L365.54 271.57 L366.09 271.47 L366.65 271.84 L367.2 272.1 L367.75 272.1 L368.31 271.42 L368.86 272.1 L369.42 272 L369.97 271.85 L370.52 271.59 L371.08 271.72 L371.63 272.1 L372.18 272.1 L372.74 272.04 L373.29 272.1 L373.85 272.1 L374.4 272.1 L374.95 272.04 L375.51 271.76 L376.06 271.87 L376.62 271.81 L377.17 272.1 L377.72 272.08 L378.28 272.07 L378.83 272.01 L379.38 272.04 L379.94 271.73 L380.49 272.1 L381.05 271.96 L381.6 272.1" fill="none" stroke="#d8182a" stroke-width="1.6" stroke-linejoin="round"/>
<rect x="285.4" y="213.3" width="96.2" height="59.1" fill="none" stroke="#7a7a7a" stroke-width="1"/>
<line x1="285.4" y1="213.3" x2="285.4" y2="272.4" stroke="#111" stroke-width="1.6"/>
<line x1="283.4" y1="213.3" x2="285.4" y2="213.3" stroke="#222" stroke-width="0.9"/>
<line x1="283.4" y1="225.12" x2="285.4" y2="225.12" stroke="#222" stroke-width="0.9"/>
<line x1="283.4" y1="236.94" x2="285.4" y2="236.94" stroke="#222" stroke-width="0.9"/>
<line x1="283.4" y1="248.76" x2="285.4" y2="248.76" stroke="#222" stroke-width="0.9"/>
<line x1="283.4" y1="260.58" x2="285.4" y2="260.58" stroke="#222" stroke-width="0.9"/>
<line x1="283.4" y1="272.4" x2="285.4" y2="272.4" stroke="#222" stroke-width="0.9"/>
<line x1="285.4" y1="272.4" x2="381.6" y2="272.4" stroke="#111" stroke-width="1.2"/>
<text transform="translate(281.6 213.3) rotate(-90)" font-family='"Liberation Serif", serif' font-size="4.8" font-weight="bold" text-anchor="middle" fill="#000">20</text>
<text transform="translate(281.6 225.12) rotate(-90)" font-family='"Liberation Serif", serif' font-size="4.8" font-weight="bold" text-anchor="middle" fill="#000">16</text>
<text transform="translate(281.6 236.94) rotate(-90)" font-family='"Liberation Serif", serif' font-size="4.8" font-weight="bold" text-anchor="middle" fill="#000">12</text>
<text transform="translate(281.6 248.76) rotate(-90)" font-family='"Liberation Serif", serif' font-size="4.8" font-weight="bold" text-anchor="middle" fill="#000">8</text>
<text transform="translate(281.6 260.58) rotate(-90)" font-family='"Liberation Serif", serif' font-size="4.8" font-weight="bold" text-anchor="middle" fill="#000">4</text>
<text transform="translate(281.6 272.4) rotate(-90)" font-family='"Liberation Serif", serif' font-size="4.8" font-weight="bold" text-anchor="middle" fill="#000">0</text>
<text transform="translate(277.8 244.03) rotate(-90)" font-family='"Liberation Serif", serif' font-size="5.6" text-anchor="middle" fill="#000" stroke="#000" stroke-width="0.12">Counts</text>
<text x="285.4" y="279.6" font-family='"Liberation Serif", serif' font-size="6.4" text-anchor="middle" fill="#111">10<tspan font-size="4.48" dy="-2.56">0</tspan></text>
<text x="309.09" y="279.6" font-family='"Liberation Serif", serif' font-size="6.4" text-anchor="middle" fill="#111">10<tspan font-size="4.48" dy="-2.56">1</tspan></text>
<text x="332.78" y="279.6" font-family='"Liberation Serif", serif' font-size="6.4" text-anchor="middle" fill="#111">10<tspan font-size="4.48" dy="-2.56">2</tspan></text>
<text x="356.47" y="279.6" font-family='"Liberation Serif", serif' font-size="6.4" text-anchor="middle" fill="#111">10<tspan font-size="4.48" dy="-2.56">3</tspan></text>
<text x="380.16" y="279.6" font-family='"Liberation Serif", serif' font-size="6.4" text-anchor="middle" fill="#111">10<tspan font-size="4.48" dy="-2.56">4</tspan></text>
<text x="332.2" y="285" font-family='"Liberation Serif", serif' font-size="6.2" text-anchor="middle" fill="#111">FL1-Height</text>
<path d="M403 273.1 L403 272.45 L403.5 272.39 L404 272.22 L404.5 271.92 L405 271.69 L405.5 271.86 L406 271.44 L406.5 271.48 L407 271.05 L407.5 270.9 L408 270.82 L408.56 270.29 L409.12 269.47 L409.68 268.93 L410.24 267.91 L410.8 267.02 L411.35 267.54 L411.9 269.05 L412.45 269.62 L413 270.7 L413.5 270.06 L414 270.34 L414.5 269.95 L415 269.61 L415.5 269.55 L416 269.16 L416.5 269.3 L417 268.89 L417.5 269.02 L418 268.5 L418.5 268.66 L419 268.44 L419.5 268.32 L420 268.31 L420.5 267.56 L421 267.53 L421.5 267.03 L422 267.09 L422.5 266.75 L423 266.4 L423.5 265.98 L424 265.41 L424.5 265.63 L425 265.38 L425.5 264.97 L426 264.06 L426.5 264.07 L427 263.55 L427.5 263.3 L428 262.87 L428.5 262.16 L429 261.7 L429.5 261.67 L430 261.14 L430.5 260.2 L431 259.7 L431.5 258.03 L432 257.17 L432.5 256.8 L433 255.57 L433.5 256.37 L434 255.56 L434.5 256.41 L435 255.71 L435.5 259.9 L436 264.71 L436.5 268.87 L437 272.8 L437 273.1 Z" fill="#d2281a"/>
<path d="M405 273.1 L405 272.8 L405.45 272.8 L405.91 272.8 L406.36 272.8 L406.82 272.57 L407.27 272.8 L407.73 272.76 L408.18 271.58 L408.64 272.8 L409.09 272.36 L409.55 272.77 L410 272.22 L410.5 272.26 L411 271.96 L411.5 272.09 L412 271.42 L412.5 271.23 L413 270.85 L413.5 268.44 L414 270.26 L414.5 270.78 L415 269.48 L415.5 269.33 L416 268.77 L416.5 268.4 L417 269.53 L417.5 268.39 L418 267.97 L418.5 266.78 L419 267.73 L419.5 267.75 L420 266.72 L420.5 267.06 L421 265.65 L421.5 265.57 L422 266.11 L422.5 265.04 L423 263.36 L423.5 262.65 L424 262.06 L424.5 260.6 L425 259.82 L425.5 260.46 L426 258.72 L426.5 257.52 L427 253.76 L427.5 256.76 L428 254.18 L428.5 254.38 L429 253.3 L429.5 251.98 L430 245.71 L430.5 249.05 L431 249.29 L431.5 250.14 L432 254.26 L432.5 255.5 L433 255.07 L433.5 256.52 L434 256.42 L434.5 257.3 L435 256.76 L435.5 256.09 L436 259.09 L436.5 259.15 L437 259.95 L437.5 259.65 L438 260.53 L438.5 261.04 L439 261.49 L439.5 262.25 L440 263.43 L440.5 259.91 L441 262.22 L441.5 264.49 L442 264.65 L442.5 262.75 L443 266.61 L443.5 266.83 L444 264.79 L444.5 267.13 L445 268.26 L445.5 269.17 L446 269.88 L446.5 269.96 L447 270.69 L447.5 270.87 L448 270.96 L448.5 271.95 L449 272.17 L449.5 272.18 L450 271.69 L450.5 272.8 L451 272.25 L451.5 271.93 L452 272.8 L452 273.1 Z" fill="#1e3cf0"/>
<path d="M403 271.94 L403.6 271.77 L404.2 272.13 L404.8 271.54 L405.4 270.42 L406 270.24 L406.6 270.02 L407.2 270.21 L407.8 269.87 L408.4 271.08 L409 269.22 L409.75 267.63 L410.5 265.18 L411.25 267.95 L412 268.74 L412.67 269.01 L413.33 268.55 L414 268.9 L414.75 267.49 L415.5 265.51 L416.25 267.89 L417 268.12 L417.6 267.62 L418.2 267.4 L418.8 267.11 L419.4 267.76 L420 266.28 L420.6 266.91 L421.2 266.84 L421.8 266.11 L422.4 266.14 L423 264.55 L423.6 264.62 L424.2 264.56 L424.8 264.53 L425.4 264.91 L426 263.43 L426.6 262.61 L427.2 263.72 L427.8 262.1 L428.4 262.64 L429 262.43 L429.67 259.81 L430.33 260.92 L431 259.36 L431.67 257.98 L432.33 258.14 L433 256.52 L433.67 260.41 L434.33 256.62 L435 254.47 L435.75 256.56 L436.5 252.27 L437.25 255.21 L438 255.82 L438.67 256.52 L439.33 256.15 L440 256.77 L440.67 258.56 L441.33 262.36 L442 260.52 L442.67 260.77 L443.33 261.77 L444 261.43 L444.67 263.73 L445.33 264.26 L446 263.81 L446.67 265.33 L447.33 265.93 L448 267.14 L448.67 267.5 L449.33 268.42 L450 268.42 L450.67 269.06 L451.33 269.48 L452 270.57 L452.6 270.81 L453.2 270.41 L453.8 271.69 L454.4 271.87 L455 271.51 L455.6 272.21 L456.2 271.86 L456.8 272.41 L457.4 272.75 L458 272.17 L458.57 272.02 L459.14 272.36 L459.71 272.5 L460.29 272.68 L460.86 272.31 L461.43 272.8 L462 272.8 L462.57 272.4 L463.14 272.79 L463.71 272.8 L464.29 272.8 L464.86 272.58 L465.43 272.33 L466 272.29 L466.57 272.8 L467.14 272.8 L467.71 272.8 L468.29 272.35 L468.86 272.45 L469.43 272.8 L470 272.8 L470.56 272.46 L471.12 272.8 L471.68 272.8 L472.24 272.79 L472.79 272.8 L473.35 272.8 L473.91 272.63 L474.47 272.8 L475.03 272.54 L475.59 272.44 L476.15 272.64 L476.71 272.8 L477.26 272.8 L477.82 272.8 L478.38 272.8 L478.94 272.8 L479.5 272.8 L480.06 272.8 L480.62 272.8 L481.18 272.8 L481.74 272.8 L482.29 272.77 L482.85 272.8 L483.41 272.8 L483.97 272.8 L484.53 272.8 L485.09 272.7 L485.65 272.8 L486.21 272.8 L486.76 272.8 L487.32 272.8 L487.88 272.8 L488.44 272.8 L489 272.8 L489.56 272.8 L490.12 272.71 L490.68 272.8 L491.24 272.8 L491.79 272.8 L492.35 272.8 L492.91 272.69 L493.47 272.8 L494.03 272.8 L494.59 272.77 L495.15 272.8 L495.71 272.8 L496.26 272.8 L496.82 272.8 L497.38 272.8 L497.94 272.8 L498.5 272.8" fill="none" stroke="#d8182a" stroke-width="1.6" stroke-linejoin="round"/>
<rect x="402.4" y="214" width="96.1" height="59.1" fill="none" stroke="#7a7a7a" stroke-width="1"/>
<line x1="402.4" y1="214" x2="402.4" y2="273.1" stroke="#111" stroke-width="1.6"/>
<line x1="400.4" y1="214" x2="402.4" y2="214" stroke="#222" stroke-width="0.9"/>
<line x1="400.4" y1="225.82" x2="402.4" y2="225.82" stroke="#222" stroke-width="0.9"/>
<line x1="400.4" y1="237.64" x2="402.4" y2="237.64" stroke="#222" stroke-width="0.9"/>
<line x1="400.4" y1="249.46" x2="402.4" y2="249.46" stroke="#222" stroke-width="0.9"/>
<line x1="400.4" y1="261.28" x2="402.4" y2="261.28" stroke="#222" stroke-width="0.9"/>
<line x1="400.4" y1="273.1" x2="402.4" y2="273.1" stroke="#222" stroke-width="0.9"/>
<line x1="402.4" y1="273.1" x2="498.5" y2="273.1" stroke="#111" stroke-width="1.2"/>
<text transform="translate(398.6 214) rotate(-90)" font-family='"Liberation Serif", serif' font-size="4.8" font-weight="bold" text-anchor="middle" fill="#000">20</text>
<text transform="translate(398.6 225.82) rotate(-90)" font-family='"Liberation Serif", serif' font-size="4.8" font-weight="bold" text-anchor="middle" fill="#000">16</text>
<text transform="translate(398.6 237.64) rotate(-90)" font-family='"Liberation Serif", serif' font-size="4.8" font-weight="bold" text-anchor="middle" fill="#000">12</text>
<text transform="translate(398.6 249.46) rotate(-90)" font-family='"Liberation Serif", serif' font-size="4.8" font-weight="bold" text-anchor="middle" fill="#000">8</text>
<text transform="translate(398.6 261.28) rotate(-90)" font-family='"Liberation Serif", serif' font-size="4.8" font-weight="bold" text-anchor="middle" fill="#000">4</text>
<text transform="translate(398.6 273.1) rotate(-90)" font-family='"Liberation Serif", serif' font-size="4.8" font-weight="bold" text-anchor="middle" fill="#000">0</text>
<text transform="translate(394.8 244.73) rotate(-90)" font-family='"Liberation Serif", serif' font-size="5.6" text-anchor="middle" fill="#000" stroke="#000" stroke-width="0.12">Counts</text>
<text x="402.4" y="280.3" font-family='"Liberation Serif", serif' font-size="6.4" text-anchor="middle" fill="#111">10<tspan font-size="4.48" dy="-2.56">0</tspan></text>
<text x="426.06" y="280.3" font-family='"Liberation Serif", serif' font-size="6.4" text-anchor="middle" fill="#111">10<tspan font-size="4.48" dy="-2.56">1</tspan></text>
<text x="449.73" y="280.3" font-family='"Liberation Serif", serif' font-size="6.4" text-anchor="middle" fill="#111">10<tspan font-size="4.48" dy="-2.56">2</tspan></text>
<text x="473.39" y="280.3" font-family='"Liberation Serif", serif' font-size="6.4" text-anchor="middle" fill="#111">10<tspan font-size="4.48" dy="-2.56">3</tspan></text>
<text x="497.06" y="280.3" font-family='"Liberation Serif", serif' font-size="6.4" text-anchor="middle" fill="#111">10<tspan font-size="4.48" dy="-2.56">4</tspan></text>
<text x="449.15" y="285.7" font-family='"Liberation Serif", serif' font-size="6.2" text-anchor="middle" fill="#111">FL1-Height</text>
<path d="M288 354.2 L288 353.54 L288.5 351.95 L289 352.93 L289.5 352.9 L290 350.57 L290.5 351 L291 351.74 L291.5 350.87 L292 351.31 L292.5 349.83 L293 350.45 L293.5 350.58 L294 349.68 L294.5 349.79 L295 348.32 L295.5 349.93 L296 349.01 L296.5 349.2 L297 348.32 L297.5 347.89 L298 346.86 L298.5 347.78 L299 347.1 L299.5 347.03 L300 348.2 L300.5 347.63 L301 346.58 L301.5 345.47 L302 346.09 L302.5 342.81 L303 345.19 L303.5 343.92 L304 344.86 L304.5 344.1 L305 343.33 L305.5 342.09 L306 339.52 L306.5 340.08 L307 339.71 L307.5 339.38 L308 339.37 L308.5 337.64 L309 337.15 L309.5 333.78 L310 335.12 L310.5 334.85 L311 335.2 L311.5 334.74 L312 333.31 L312.5 332.13 L313 332.46 L313.5 332.33 L314 330.51 L314.5 328.36 L315 321.73 L315.5 325.09 L316 328.51 L316.5 330.64 L317 333.34 L317.5 333.16 L318 335.86 L318.5 335.07 L319 337.72 L319.5 339.42 L320 339.74 L320.5 340.13 L321 340 L321.5 339.71 L322 340.01 L322.5 341.41 L323 342.85 L323.5 339.28 L324 339.36 L324.5 340.4 L325 343.33 L325.5 344.29 L326 343.83 L326.5 342.98 L327 341.9 L327.5 342.76 L328 341.56 L328.5 342.5 L329 345.41 L329.5 344.99 L330 345.53 L330.5 347.29 L331 348.22 L331.5 347.55 L332 348.04 L332.5 349.14 L333 349.88 L333.5 349.63 L334 349.45 L334.5 350.17 L335 350.92 L335.5 351.45 L336 351.59 L336.5 352.27 L337 349.66 L337.5 351.8 L338 352.93 L338.5 353.12 L339 353.1 L339.5 351.38 L340 352.18 L340.5 353.25 L341 353.9 L341.5 353.9 L342 353.9 L342 354.2 Z" fill="#1e3cf0"/>
<path d="M288 351.17 L288.6 351.26 L289.2 350.18 L289.8 351.21 L290.4 350.11 L291 350.08 L291.6 348.82 L292.2 349.46 L292.8 349.38 L293.4 348.14 L294 348.36 L294.6 349.38 L295.2 348.29 L295.8 347.55 L296.4 346.69 L297 346.49 L297.6 347.18 L298.2 347.08 L298.8 347.57 L299.4 345.76 L300 346.36 L300.67 346.33 L301.33 345.88 L302 345.19 L302.67 345.33 L303.33 345.84 L304 346.25 L304.67 344.82 L305.33 346.84 L306 344.51 L306.67 343.73 L307.33 344.19 L308 343.76 L308.67 342.79 L309.33 342.69 L310 341.92 L310.67 341.84 L311.33 341 L312 341.42 L312.67 342.16 L313.33 344.18 L314 340.61 L314.67 338.7 L315.33 338.73 L316 337.68 L316.67 337.24 L317.33 337.57 L318 337.07 L318.75 333.93 L319.5 333.45 L320.25 333.16 L321 331.47 L321.67 334.02 L322.33 329.71 L323 329.52 L323.67 328.95 L324.33 331.33 L325 331.2 L326 328.45 L326.75 329.92 L327.5 332.8 L328.5 334.79 L329.25 336.33 L330 337.87 L330.75 338.34 L331.5 340 L332.25 341.76 L333 343.85 L333.75 346.03 L334.5 347.09 L335.25 348.26 L336 349.9 L336.67 349.28 L337.33 350.57 L338 350.16 L338.6 350.3 L339.2 351.56 L339.8 350.69 L340.4 352.21 L341 351.57 L341.6 352.24 L342.2 351.77 L342.8 352.66 L343.4 352.06 L344 352.51 L344.55 352.24 L345.1 352.21 L345.65 352.74 L346.2 352.73 L346.75 352.86 L347.3 353.06 L347.85 353.38 L348.4 353.9 L348.95 352.45 L349.5 352.16 L350.05 353.09 L350.6 353.01 L351.15 352.4 L351.7 353.2 L352.25 353.03 L352.8 353 L353.35 353.04 L353.9 353.36 L354.45 353.45 L355 353.38 L355.55 353.64 L356.11 353.52 L356.66 353.09 L357.22 353.9 L357.77 353.9 L358.33 353.36 L358.88 353.53 L359.44 353.58 L359.99 352.94 L360.55 353.73 L361.1 353.07 L361.66 353.39 L362.21 353.38 L362.77 353.89 L363.32 353.9 L363.88 353.11 L364.43 353.33 L364.98 353.52 L365.54 353.28 L366.09 353.36 L366.65 353.5 L367.2 353.9 L367.76 353.05 L368.31 353.57 L368.87 353.88 L369.42 353.47 L369.98 353.49 L370.53 353.9 L371.09 353.54 L371.64 353.48 L372.2 353.9 L372.75 353.9 L373.31 353.81 L373.86 353.9 L374.42 353.6 L374.97 353.46 L375.52 353.9 L376.08 353.7 L376.63 353.9 L377.19 353.85 L377.74 353.83 L378.3 353.59 L378.85 353.69 L379.41 353.9 L379.96 353.43 L380.52 353.9 L381.07 353.9 L381.63 353.9 L382.18 353.9 L382.74 353.9 L383.29 353.9 L383.85 353.87 L384.4 353.9" fill="none" stroke="#d8182a" stroke-width="1.6" stroke-linejoin="round"/>
<rect x="287.5" y="295.3" width="96.9" height="58.9" fill="none" stroke="#7a7a7a" stroke-width="1"/>
<line x1="287.5" y1="295.3" x2="287.5" y2="354.2" stroke="#111" stroke-width="1.6"/>
<line x1="285.5" y1="295.3" x2="287.5" y2="295.3" stroke="#222" stroke-width="0.9"/>
<line x1="285.5" y1="307.08" x2="287.5" y2="307.08" stroke="#222" stroke-width="0.9"/>
<line x1="285.5" y1="318.86" x2="287.5" y2="318.86" stroke="#222" stroke-width="0.9"/>
<line x1="285.5" y1="330.64" x2="287.5" y2="330.64" stroke="#222" stroke-width="0.9"/>
<line x1="285.5" y1="342.42" x2="287.5" y2="342.42" stroke="#222" stroke-width="0.9"/>
<line x1="285.5" y1="354.2" x2="287.5" y2="354.2" stroke="#222" stroke-width="0.9"/>
<line x1="287.5" y1="354.2" x2="384.4" y2="354.2" stroke="#111" stroke-width="1.2"/>
<text transform="translate(283.7 295.3) rotate(-90)" font-family='"Liberation Serif", serif' font-size="4.8" font-weight="bold" text-anchor="middle" fill="#000">20</text>
<text transform="translate(283.7 307.08) rotate(-90)" font-family='"Liberation Serif", serif' font-size="4.8" font-weight="bold" text-anchor="middle" fill="#000">16</text>
<text transform="translate(283.7 318.86) rotate(-90)" font-family='"Liberation Serif", serif' font-size="4.8" font-weight="bold" text-anchor="middle" fill="#000">12</text>
<text transform="translate(283.7 330.64) rotate(-90)" font-family='"Liberation Serif", serif' font-size="4.8" font-weight="bold" text-anchor="middle" fill="#000">8</text>
<text transform="translate(283.7 342.42) rotate(-90)" font-family='"Liberation Serif", serif' font-size="4.8" font-weight="bold" text-anchor="middle" fill="#000">4</text>
<text transform="translate(283.7 354.2) rotate(-90)" font-family='"Liberation Serif", serif' font-size="4.8" font-weight="bold" text-anchor="middle" fill="#000">0</text>
<text transform="translate(279.9 325.93) rotate(-90)" font-family='"Liberation Serif", serif' font-size="5.6" text-anchor="middle" fill="#000" stroke="#000" stroke-width="0.12">Counts</text>
<text x="287.5" y="361.4" font-family='"Liberation Serif", serif' font-size="6.4" text-anchor="middle" fill="#111">10<tspan font-size="4.48" dy="-2.56">0</tspan></text>
<text x="311.36" y="361.4" font-family='"Liberation Serif", serif' font-size="6.4" text-anchor="middle" fill="#111">10<tspan font-size="4.48" dy="-2.56">1</tspan></text>
<text x="335.22" y="361.4" font-family='"Liberation Serif", serif' font-size="6.4" text-anchor="middle" fill="#111">10<tspan font-size="4.48" dy="-2.56">2</tspan></text>
<text x="359.08" y="361.4" font-family='"Liberation Serif", serif' font-size="6.4" text-anchor="middle" fill="#111">10<tspan font-size="4.48" dy="-2.56">3</tspan></text>
<text x="382.95" y="361.4" font-family='"Liberation Serif", serif' font-size="6.4" text-anchor="middle" fill="#111">10<tspan font-size="4.48" dy="-2.56">4</tspan></text>
<text x="334.65" y="366.8" font-family='"Liberation Serif", serif' font-size="6.2" text-anchor="middle" fill="#111">FL1-Height</text>
<path d="M403 354.4 L403 352.19 L403.5 351.74 L404 351.56 L404.5 351.28 L405 351.17 L405.5 351.11 L406 351.12 L406.5 351.22 L407 350.6 L407.5 350.52 L408 350.42 L408.5 350.34 L409 349.9 L409.5 349.86 L410 349.26 L410.5 348.93 L411 349.06 L411.5 348.83 L412 348.07 L412.5 347.66 L413 347.79 L413.5 347 L414 347.33 L414.5 346.82 L415 346.06 L415.5 345.93 L416 346.48 L416.5 347.35 L417 348.39 L417.5 348.53 L418 348.31 L418.5 347.94 L419 347.61 L419.5 347.32 L420 347.01 L420.5 346.87 L421 346.5 L421.5 346.17 L422 346.28 L422.5 345.59 L423 345.42 L423.5 345.24 L424 345.07 L424.5 344.11 L425 343.77 L425.5 343.33 L426 342.73 L426.5 342.45 L427 342.44 L427.5 341.45 L428 341.31 L428.5 340.71 L429 340.58 L429.5 340.44 L430 339.45 L430.5 339.49 L431 338.85 L431.5 338.98 L432 338.68 L432.5 338.08 L433 337.97 L433.5 337.92 L434 337.82 L434.5 338.91 L435 339.38 L435.5 339.79 L436 339.89 L436.5 343.46 L437 346.77 L437.5 350.47 L438 354.1 L438 354.4 Z" fill="#d2281a"/>
<path d="M407 354.4 L407 353.72 L407.5 353.65 L408 353.6 L408.5 353.27 L409 353.51 L409.5 353.56 L410 353.04 L410.5 351.34 L411 353.21 L411.5 351.52 L412 352.72 L412.5 352.69 L413 352.64 L413.5 352.68 L414 351.8 L414.5 351.85 L415 351.87 L415.5 351.63 L416 351.01 L416.5 348.6 L417 348.01 L417.5 350.24 L418 350.16 L418.5 349.05 L419 348.69 L419.5 347.99 L420 348.01 L420.5 348.06 L421 346.99 L421.5 346.78 L422 346.43 L422.5 345.82 L423 345.17 L423.5 345.79 L424 343.72 L424.5 342.72 L425 343 L425.5 339.09 L426 341.51 L426.5 340.57 L427 339.03 L427.5 337.73 L428 335.93 L428.5 335.16 L429 334.55 L429.5 335.15 L430 330.49 L430.5 330.8 L431 329.79 L431.5 327.52 L432 335.01 L432.5 337.22 L433 338.74 L433.5 340.05 L434 340.61 L434.5 340.07 L435 341.47 L435.5 340.28 L436 341.61 L436.5 340.88 L437 341.22 L437.5 342.21 L438 343.2 L438.5 342.52 L439 343.7 L439.5 344.6 L440 343.38 L440.5 344.96 L441 345.54 L441.5 345.59 L442 345.1 L442.5 345.78 L443 346.74 L443.5 347.71 L444 347.48 L444.5 348.68 L445 349.09 L445.5 349.1 L446 350.04 L446.5 349.41 L447 348.87 L447.5 350.68 L448 351.64 L448.5 351.91 L449 352.04 L449.5 352.82 L450 352.34 L450.5 351.4 L451 353.25 L451.5 352.17 L452 354.1 L452.5 354.1 L453 353.95 L453.5 354.1 L454 353.95 L454 354.4 Z" fill="#1e3cf0"/>
<path d="M403 352.02 L403.67 351.14 L404.33 350.94 L405 350.71 L405.6 350.56 L406.2 350.11 L406.8 350.59 L407.4 350.28 L408 349.97 L408.6 349.46 L409.2 349.39 L409.8 348.64 L410.4 347.87 L411 348.34 L411.67 347.14 L412.33 348.26 L413 346.97 L413.62 348.3 L414.25 346.83 L414.88 346.42 L415.5 345.4 L416.25 346.61 L417 348.69 L417.6 346.73 L418.2 347.54 L418.8 347.81 L419.4 347.55 L420 346.45 L420.6 345.34 L421.2 345.51 L421.8 346 L422.4 344.55 L423 345.68 L423.6 344.08 L424.2 347 L424.8 343.31 L425.4 345.49 L426 342.01 L426.67 342.2 L427.33 340.32 L428 340.87 L428.67 340.48 L429.33 338.85 L430 339.65 L430.67 339.55 L431.33 339.35 L432 339.07 L432.67 338.29 L433.33 337.19 L434 337.7 L434.67 337.44 L435.33 336.02 L436 334.65 L436.67 333.67 L437.33 334.46 L438 334.26 L438.75 334.78 L439.5 331.24 L440.25 334.89 L441 335.71 L441.67 336.89 L442.33 338.24 L443 339.53 L443.67 340.55 L444.33 339.93 L445 341.46 L445.75 341.55 L446.5 343.74 L447.25 344.19 L448 345.18 L448.67 346.24 L449.33 348.05 L450 349.06 L450.67 349.48 L451.33 350.21 L452 350.46 L452.62 350.22 L453.25 351.13 L453.88 350.88 L454.5 351.55 L455.12 351.31 L455.75 351.4 L456.38 352.31 L457 351.68 L457.57 352.37 L458.13 352.18 L458.7 352.2 L459.26 354.1 L459.83 351.95 L460.39 352.55 L460.96 352.69 L461.52 352.72 L462.09 353.07 L462.65 352.96 L463.22 352.49 L463.78 352.82 L464.35 352.39 L464.91 353.05 L465.48 352.83 L466.04 352.47 L466.61 352.76 L467.17 352.77 L467.74 352.78 L468.3 353.32 L468.87 354.1 L469.43 352.9 L470 353.2 L470.56 352.71 L471.12 353.51 L471.68 353.68 L472.24 353.32 L472.8 352.76 L473.36 354.1 L473.92 352.96 L474.48 353.11 L475.04 353.33 L475.6 353.04 L476.16 354.1 L476.72 353.01 L477.28 353.21 L477.85 353.45 L478.41 353.07 L478.97 353.63 L479.53 353.37 L480.09 353.93 L480.65 354.09 L481.21 353.89 L481.77 353.48 L482.33 353.14 L482.89 353.81 L483.45 353.56 L484.01 353.42 L484.57 353.53 L485.13 353.59 L485.69 354.1 L486.25 354.1 L486.81 353.72 L487.37 354.1 L487.93 353.96 L488.49 353.85 L489.05 354.1 L489.61 354.1 L490.17 353.71 L490.73 354.1 L491.29 354.1 L491.85 354.02 L492.42 354.1 L492.98 354.09 L493.54 354.1 L494.1 353.82 L494.66 354.1 L495.22 354.1 L495.78 353.93 L496.34 354.1 L496.9 354.02 L497.46 353.69 L498.02 354.1 L498.58 354.1 L499.14 353.73 L499.7 353.95" fill="none" stroke="#d8182a" stroke-width="1.6" stroke-linejoin="round"/>
<rect x="402.7" y="295.8" width="97" height="58.6" fill="none" stroke="#7a7a7a" stroke-width="1"/>
<line x1="402.7" y1="295.8" x2="402.7" y2="354.4" stroke="#111" stroke-width="1.6"/>
<line x1="400.7" y1="295.8" x2="402.7" y2="295.8" stroke="#222" stroke-width="0.9"/>
<line x1="400.7" y1="307.52" x2="402.7" y2="307.52" stroke="#222" stroke-width="0.9"/>
<line x1="400.7" y1="319.24" x2="402.7" y2="319.24" stroke="#222" stroke-width="0.9"/>
<line x1="400.7" y1="330.96" x2="402.7" y2="330.96" stroke="#222" stroke-width="0.9"/>
<line x1="400.7" y1="342.68" x2="402.7" y2="342.68" stroke="#222" stroke-width="0.9"/>
<line x1="400.7" y1="354.4" x2="402.7" y2="354.4" stroke="#222" stroke-width="0.9"/>
<line x1="402.7" y1="354.4" x2="499.7" y2="354.4" stroke="#111" stroke-width="1.2"/>
<text transform="translate(398.9 295.8) rotate(-90)" font-family='"Liberation Serif", serif' font-size="4.8" font-weight="bold" text-anchor="middle" fill="#000">20</text>
<text transform="translate(398.9 307.52) rotate(-90)" font-family='"Liberation Serif", serif' font-size="4.8" font-weight="bold" text-anchor="middle" fill="#000">16</text>
<text transform="translate(398.9 319.24) rotate(-90)" font-family='"Liberation Serif", serif' font-size="4.8" font-weight="bold" text-anchor="middle" fill="#000">12</text>
<text transform="translate(398.9 330.96) rotate(-90)" font-family='"Liberation Serif", serif' font-size="4.8" font-weight="bold" text-anchor="middle" fill="#000">8</text>
<text transform="translate(398.9 342.68) rotate(-90)" font-family='"Liberation Serif", serif' font-size="4.8" font-weight="bold" text-anchor="middle" fill="#000">4</text>
<text transform="translate(398.9 354.4) rotate(-90)" font-family='"Liberation Serif", serif' font-size="4.8" font-weight="bold" text-anchor="middle" fill="#000">0</text>
<text transform="translate(395.1 326.27) rotate(-90)" font-family='"Liberation Serif", serif' font-size="5.6" text-anchor="middle" fill="#000" stroke="#000" stroke-width="0.12">Counts</text>
<text x="402.7" y="361.6" font-family='"Liberation Serif", serif' font-size="6.4" text-anchor="middle" fill="#111">10<tspan font-size="4.48" dy="-2.56">0</tspan></text>
<text x="426.59" y="361.6" font-family='"Liberation Serif", serif' font-size="6.4" text-anchor="middle" fill="#111">10<tspan font-size="4.48" dy="-2.56">1</tspan></text>
<text x="450.47" y="361.6" font-family='"Liberation Serif", serif' font-size="6.4" text-anchor="middle" fill="#111">10<tspan font-size="4.48" dy="-2.56">2</tspan></text>
<text x="474.36" y="361.6" font-family='"Liberation Serif", serif' font-size="6.4" text-anchor="middle" fill="#111">10<tspan font-size="4.48" dy="-2.56">3</tspan></text>
<text x="498.25" y="361.6" font-family='"Liberation Serif", serif' font-size="6.4" text-anchor="middle" fill="#111">10<tspan font-size="4.48" dy="-2.56">4</tspan></text>
<text x="449.9" y="367" font-family='"Liberation Serif", serif' font-size="6.2" text-anchor="middle" fill="#111">FL1-Height</text>
<path d="M291 433.8 L291 433.41 L291.5 433.5 L292 431.62 L292.5 433.1 L293 432.62 L293.5 432.62 L294 432.73 L294.5 432.38 L295 432.63 L295.5 431.93 L296 431.73 L296.5 429.85 L297 431.52 L297.5 431.9 L298 430.85 L298.5 431.58 L299 431.12 L299.5 431.21 L300 430.49 L300.5 428.66 L301 430.75 L301.5 429.55 L302 428.92 L302.5 429.99 L303 427.21 L303.5 428.8 L304 429.03 L304.5 428.2 L305 428.86 L305.5 427.7 L306 427.65 L306.5 427.8 L307 427.86 L307.5 426.78 L308 425.94 L308.5 425.6 L309 422.41 L309.5 424.17 L310 423.46 L310.5 423.69 L311 419.35 L311.5 420.93 L312 421.09 L312.5 421.15 L313 420.68 L313.5 415.81 L314 419.35 L314.5 418.36 L315 418.59 L315.5 416.19 L316 416.27 L316.5 415.49 L317 412.16 L317.5 408.47 L318 411.98 L318.5 415.13 L319 414.83 L319.5 416.06 L320 417.5 L320.5 418.31 L321 419.44 L321.5 419.91 L322 419.37 L322.5 419.97 L323 421.25 L323.5 420.14 L324 420.13 L324.5 421.87 L325 421.13 L325.5 422.89 L326 421.75 L326.5 422.36 L327 423.1 L327.5 424.32 L328 423.91 L328.5 424.16 L329 425.26 L329.5 425.72 L330 426.55 L330.5 426.87 L331 427.31 L331.5 426.96 L332 425.23 L332.5 428.54 L333 428.9 L333.5 427.24 L334 430.01 L334.5 430.82 L335 430.56 L335.5 431.43 L336 431.74 L336.5 432.01 L337 432.24 L337.5 432.33 L338 432.9 L338.5 432.69 L339 432.41 L339.5 433.23 L340 433.22 L340.5 433.29 L341 433.32 L341.5 433.05 L342 433.5 L342 433.8 Z" fill="#1e3cf0"/>
<path d="M290 432 L290.6 432.13 L291.2 430.89 L291.8 431.23 L292.4 431.03 L293 430.08 L293.67 429.26 L294.33 429.52 L295 429.06 L295.6 429.83 L296.2 430.03 L296.8 429.26 L297.4 430.14 L298 430.55 L298.6 430.24 L299.2 430.38 L299.8 429.29 L300.4 429.86 L301 428.31 L301.6 428.49 L302.2 427.78 L302.8 427.11 L303.4 427.46 L304 426.91 L305 427.73 L305.6 425.7 L306.2 426.83 L306.8 426.22 L307.4 426.08 L308 426.92 L308.6 426.8 L309.2 424.93 L309.8 425.73 L310.4 424.91 L311 424.33 L311.67 424.21 L312.33 424.42 L313 423.98 L313.67 422.59 L314.33 421.45 L315 421.82 L315.67 420.72 L316.33 419.23 L317 419.53 L317.67 417.3 L318.33 416.46 L319 415.63 L319.67 419.61 L320.33 414.99 L321 413.29 L322 410.42 L322.75 413.46 L323.5 414.51 L324.25 414.08 L325 412.29 L325.75 413 L326.5 413.27 L327.25 415.59 L328 415.88 L328.67 416.34 L329.33 418.65 L330 417.58 L330.67 418.8 L331.33 420.55 L332 420.42 L332.67 422.21 L333.33 422.25 L334 422.82 L334.67 424.52 L335.33 425.55 L336 425.52 L336.67 427.01 L337.33 428.06 L338 429 L338.67 429.46 L339.33 429.21 L340 430.88 L340.6 430.93 L341.2 430.57 L341.8 430.83 L342.4 431.45 L343 431.27 L343.6 432.02 L344.2 431.5 L344.8 432.59 L345.4 431.25 L346 431.82 L346.56 431.8 L347.12 431.47 L347.68 431.31 L348.24 432.01 L348.8 432.05 L349.36 432.59 L349.92 431.83 L350.48 431.92 L351.04 431.83 L351.6 432.2 L352.16 432.65 L352.72 431.97 L353.28 432.47 L353.84 432.12 L354.4 432.43 L354.96 432.41 L355.52 433.24 L356.08 433.23 L356.64 432.39 L357.2 432.3 L357.76 432.1 L358.32 432.1 L358.88 433.14 L359.44 433.11 L360 433.19 L360.56 432.48 L361.11 433.18 L361.67 432.64 L362.23 432.85 L362.78 432.72 L363.34 432.45 L363.9 433.22 L364.45 433.25 L365.01 432.93 L365.57 432.35 L366.12 433.23 L366.68 433.38 L367.23 433.37 L367.79 432.8 L368.35 433.28 L368.9 432.75 L369.46 432.67 L370.02 432.69 L370.57 432.83 L371.13 433.42 L371.69 433.4 L372.24 432.6 L372.8 432.62 L373.36 433.22 L373.91 432.84 L374.47 433.5 L375.03 433.5 L375.58 433.04 L376.14 433.1 L376.7 432.88 L377.25 433.17 L377.81 433.5 L378.37 432.78 L378.92 433.5 L379.48 433.38 L380.03 433.14 L380.59 433.5 L381.15 433.4 L381.7 433.49 L382.26 433.5 L382.82 433.28 L383.37 433.27 L383.93 433.06 L384.49 433.14 L385.04 433.27 L385.6 433.39" fill="none" stroke="#d8182a" stroke-width="1.6" stroke-linejoin="round"/>
<rect x="289.4" y="375.2" width="96.2" height="58.6" fill="none" stroke="#7a7a7a" stroke-width="1"/>
<line x1="289.4" y1="375.2" x2="289.4" y2="433.8" stroke="#111" stroke-width="1.6"/>
<line x1="287.4" y1="375.2" x2="289.4" y2="375.2" stroke="#222" stroke-width="0.9"/>
<line x1="287.4" y1="386.92" x2="289.4" y2="386.92" stroke="#222" stroke-width="0.9"/>
<line x1="287.4" y1="398.64" x2="289.4" y2="398.64" stroke="#222" stroke-width="0.9"/>
<line x1="287.4" y1="410.36" x2="289.4" y2="410.36" stroke="#222" stroke-width="0.9"/>
<line x1="287.4" y1="422.08" x2="289.4" y2="422.08" stroke="#222" stroke-width="0.9"/>
<line x1="287.4" y1="433.8" x2="289.4" y2="433.8" stroke="#222" stroke-width="0.9"/>
<line x1="289.4" y1="433.8" x2="385.6" y2="433.8" stroke="#111" stroke-width="1.2"/>
<text transform="translate(285.6 375.2) rotate(-90)" font-family='"Liberation Serif", serif' font-size="4.8" font-weight="bold" text-anchor="middle" fill="#000">20</text>
<text transform="translate(285.6 386.92) rotate(-90)" font-family='"Liberation Serif", serif' font-size="4.8" font-weight="bold" text-anchor="middle" fill="#000">16</text>
<text transform="translate(285.6 398.64) rotate(-90)" font-family='"Liberation Serif", serif' font-size="4.8" font-weight="bold" text-anchor="middle" fill="#000">12</text>
<text transform="translate(285.6 410.36) rotate(-90)" font-family='"Liberation Serif", serif' font-size="4.8" font-weight="bold" text-anchor="middle" fill="#000">8</text>
<text transform="translate(285.6 422.08) rotate(-90)" font-family='"Liberation Serif", serif' font-size="4.8" font-weight="bold" text-anchor="middle" fill="#000">4</text>
<text transform="translate(285.6 433.8) rotate(-90)" font-family='"Liberation Serif", serif' font-size="4.8" font-weight="bold" text-anchor="middle" fill="#000">0</text>
<text transform="translate(281.8 405.67) rotate(-90)" font-family='"Liberation Serif", serif' font-size="5.6" text-anchor="middle" fill="#000" stroke="#000" stroke-width="0.12">Counts</text>
<text x="289.4" y="441" font-family='"Liberation Serif", serif' font-size="6.4" text-anchor="middle" fill="#111">10<tspan font-size="4.48" dy="-2.56">0</tspan></text>
<text x="313.09" y="441" font-family='"Liberation Serif", serif' font-size="6.4" text-anchor="middle" fill="#111">10<tspan font-size="4.48" dy="-2.56">1</tspan></text>
<text x="336.78" y="441" font-family='"Liberation Serif", serif' font-size="6.4" text-anchor="middle" fill="#111">10<tspan font-size="4.48" dy="-2.56">2</tspan></text>
<text x="360.47" y="441" font-family='"Liberation Serif", serif' font-size="6.4" text-anchor="middle" fill="#111">10<tspan font-size="4.48" dy="-2.56">3</tspan></text>
<text x="384.16" y="441" font-family='"Liberation Serif", serif' font-size="6.4" text-anchor="middle" fill="#111">10<tspan font-size="4.48" dy="-2.56">4</tspan></text>
<text x="336.2" y="446.4" font-family='"Liberation Serif", serif' font-size="6.2" text-anchor="middle" fill="#111">FL1-Height</text>
<path d="M412 433.2 L412 432.51 L412.5 432.27 L413 431.95 L413.5 431.77 L414 431.66 L414.5 431.26 L415 431.01 L415.5 430.67 L416 430.32 L416.5 429.96 L417 429.5 L417.5 429.24 L418 428.7 L418.5 428.57 L419 428.3 L419.5 427.6 L420 427.68 L420.5 426.96 L421 426.59 L421.5 425.95 L422 425.73 L422.5 425.15 L423 424.19 L423.5 424.04 L424 423.3 L424.5 422.97 L425 421.88 L425.5 420.99 L426 420.06 L426.5 420.22 L427 418.62 L427.5 418 L428 417.94 L428.5 416.19 L429 415.74 L429.5 414.93 L430 414.37 L430.5 413.65 L431 413.05 L431.5 411.62 L432 410.68 L432.5 410.16 L433 409.24 L433.5 408.88 L434 408.65 L434.5 409.11 L435 408.26 L435.5 408.59 L436 409.48 L436.5 411.1 L437 412.89 L437.5 414.53 L438 416.54 L438.5 420.73 L439 425.09 L439.5 428.71 L440 432.9 L440 433.2 Z" fill="#d2281a"/>
<path d="M419 433.2 L419 432.81 L419.5 432.6 L420 432.53 L420.5 431.94 L421 431.79 L421.5 431.77 L422 431.09 L422.5 430.48 L423 430.2 L423.5 430.13 L424 428.99 L424.5 428.93 L425 426.42 L425.45 427.35 L425.91 426.54 L426.36 424.19 L426.82 425.27 L427.27 424.5 L427.73 425.03 L428.18 424.34 L428.64 420.82 L429.09 423.87 L429.55 422.44 L430 421.3 L430.5 421.89 L431 419.93 L431.5 420.55 L432 419.29 L432.5 417.7 L433 419.08 L433.5 416.73 L434 416.77 L434.5 415.81 L435 416.8 L435.5 415.55 L436 417.44 L436.5 417.14 L437 415.03 L437.5 416.85 L438 412.31 L438.5 417.96 L439 418 L439.5 417.78 L440 418.44 L440.5 420.12 L441 419.76 L441.5 420.14 L442 421.89 L442.5 422.46 L443 421.98 L443.5 423.43 L444 424.09 L444.5 423.62 L445 424.03 L445.5 421.5 L446 426.8 L446.5 426.51 L447 427.28 L447.5 426.75 L448 427.78 L448.5 428.72 L449 428.65 L449.5 429.86 L450 429.04 L450.45 430.66 L450.91 430.24 L451.36 430.33 L451.82 431.35 L452.27 431.31 L452.73 431.66 L453.18 431.53 L453.64 432.41 L454.09 432.67 L454.55 432.86 L455 432.03 L455 433.2 Z" fill="#1e3cf0"/>
<path d="M405 431.17 L405.56 432.52 L406.11 430.5 L406.67 430.7 L407.22 430.51 L407.78 430.87 L408.33 430.9 L408.89 430.88 L409.44 430.72 L410 430.92 L410.57 430.07 L411.14 430.07 L411.71 429.57 L412.29 430.15 L412.86 429.83 L413.43 429.27 L414 429.5 L414.62 428.83 L415.25 429.19 L415.88 426.65 L416.5 425.14 L417.25 428.26 L418 429.64 L418.67 428.87 L419.33 427.57 L420 427.46 L420.57 426.92 L421.14 427.18 L421.71 425.77 L422.29 425 L422.86 425.91 L423.43 425.35 L424 424.3 L424.57 424.11 L425.14 422.45 L425.71 421.22 L426.29 421.38 L426.86 419.27 L427.43 419.17 L428 418.17 L428.6 418.54 L429.2 416.35 L429.8 414.79 L430.4 414.4 L431 412.48 L431.6 411.65 L432.2 411.09 L432.8 411.26 L433.4 410.07 L434 408.86 L434.63 407.36 L435.27 409.34 L435.9 408.14 L436.6 408.05 L437.3 409.63 L438 409.34 L438.67 408.81 L439.33 409.62 L440 410.57 L440.67 411.57 L441.33 412.93 L442 414.7 L442.67 413.25 L443.33 415.94 L444 416.21 L444.67 417.18 L445.33 419.9 L446 420.55 L446.67 420.96 L447.33 423.11 L448 425.14 L448.58 424.24 L449.17 425.59 L449.75 425.69 L450.33 426.28 L450.92 426.66 L451.5 426.24 L452.25 428.27 L453 429.58 L453.67 429.88 L454.33 430.22 L455 430.95 L455.56 431.79 L456.11 431.52 L456.67 431.77 L457.22 432.19 L457.78 432.16 L458.33 432.25 L458.89 431.47 L459.44 432.31 L460 432.67 L460.56 432.58 L461.11 432.09 L461.67 431.76 L462.22 431.88 L462.78 432.9 L463.33 432.65 L463.89 432.13 L464.44 432.9 L465 432.89 L465.56 432.26 L466.11 432.88 L466.67 432.41 L467.22 432.64 L467.78 432.7 L468.33 432.16 L468.89 432.45 L469.44 432.25 L470 432.75 L470.56 432.49 L471.11 432.54 L471.67 432.34 L472.22 432.25 L472.78 432.45 L473.33 432.44 L473.89 432.52 L474.44 432.9 L475 432.9 L475.56 432.81 L476.11 432.58 L476.67 432.9 L477.22 432.63 L477.78 432.59 L478.33 432.81 L478.89 432.9 L479.44 432.9 L480 432.9 L480.56 432.58 L481.11 432.8 L481.67 432.9 L482.22 432.9 L482.78 432.9 L483.33 432.56 L483.89 432.9 L484.44 432.56 L485 432.71 L485.56 432.9 L486.11 432.9 L486.67 432.9 L487.22 432.57 L487.78 432.72 L488.33 432.88 L488.89 432.75 L489.44 432.9 L490 432.9 L490.56 432.9 L491.11 432.9 L491.67 432.9 L492.22 432.9 L492.78 432.9 L493.33 432.87 L493.89 432.9 L494.44 432.9 L495 432.78 L495.56 432.9 L496.11 432.9 L496.67 432.9 L497.22 432.9 L497.78 432.79 L498.33 432.9 L498.89 432.9 L499.44 432.86 L500 432.86" fill="none" stroke="#d8182a" stroke-width="1.6" stroke-linejoin="round"/>
<path d="M414 431.63 L414.5 431.31 L415 430.84 L415.5 430.68 L416 430.31 L416.5 429.81 L417 429.75 L417.5 429.24 L418 429.16 L418.5 428.46 L419 428.3 L419.5 427.75 L420 427.34 L420.5 426.8 L421 426.5 L421.5 425.93 L422 425.19 L422.5 424.69 L423 423.85 L423.5 423.33 L424 422.35 L424.5 421.8 L425 420.94 L425.5 420.27 L426 419.22 L426.5 418.48 L427 417.82 L427.5 416.72 L428 415.94 L428.5 415.34 L429 414.41 L429.5 413.49 L430 412.35 L430.5 411.84 L431 410.75 L431.5 409.76 L432 408.94 L432.5 407.9 L433 407.39 L433.5 406.47 L434.05 407.81 L434.6 408.9" fill="none" stroke="#86e03a" stroke-width="1.3" stroke-linejoin="round"/>
<rect x="404.2" y="375.1" width="96.8" height="58.1" fill="none" stroke="#7a7a7a" stroke-width="1"/>
<line x1="404.2" y1="375.1" x2="404.2" y2="433.2" stroke="#111" stroke-width="1.6"/>
<line x1="402.2" y1="375.1" x2="404.2" y2="375.1" stroke="#222" stroke-width="0.9"/>
<line x1="402.2" y1="386.72" x2="404.2" y2="386.72" stroke="#222" stroke-width="0.9"/>
<line x1="402.2" y1="398.34" x2="404.2" y2="398.34" stroke="#222" stroke-width="0.9"/>
<line x1="402.2" y1="409.96" x2="404.2" y2="409.96" stroke="#222" stroke-width="0.9"/>
<line x1="402.2" y1="421.58" x2="404.2" y2="421.58" stroke="#222" stroke-width="0.9"/>
<line x1="402.2" y1="433.2" x2="404.2" y2="433.2" stroke="#222" stroke-width="0.9"/>
<line x1="404.2" y1="433.2" x2="501" y2="433.2" stroke="#111" stroke-width="1.2"/>
<text transform="translate(400.4 375.1) rotate(-90)" font-family='"Liberation Serif", serif' font-size="4.8" font-weight="bold" text-anchor="middle" fill="#000">20</text>
<text transform="translate(400.4 386.72) rotate(-90)" font-family='"Liberation Serif", serif' font-size="4.8" font-weight="bold" text-anchor="middle" fill="#000">16</text>
<text transform="translate(400.4 398.34) rotate(-90)" font-family='"Liberation Serif", serif' font-size="4.8" font-weight="bold" text-anchor="middle" fill="#000">12</text>
<text transform="translate(400.4 409.96) rotate(-90)" font-family='"Liberation Serif", serif' font-size="4.8" font-weight="bold" text-anchor="middle" fill="#000">8</text>
<text transform="translate(400.4 421.58) rotate(-90)" font-family='"Liberation Serif", serif' font-size="4.8" font-weight="bold" text-anchor="middle" fill="#000">4</text>
<text transform="translate(400.4 433.2) rotate(-90)" font-family='"Liberation Serif", serif' font-size="4.8" font-weight="bold" text-anchor="middle" fill="#000">0</text>
<text transform="translate(396.6 405.31) rotate(-90)" font-family='"Liberation Serif", serif' font-size="5.6" text-anchor="middle" fill="#000" stroke="#000" stroke-width="0.12">Counts</text>
<text x="404.2" y="440.4" font-family='"Liberation Serif", serif' font-size="6.4" text-anchor="middle" fill="#111">10<tspan font-size="4.48" dy="-2.56">0</tspan></text>
<text x="428.04" y="440.4" font-family='"Liberation Serif", serif' font-size="6.4" text-anchor="middle" fill="#111">10<tspan font-size="4.48" dy="-2.56">1</tspan></text>
<text x="451.87" y="440.4" font-family='"Liberation Serif", serif' font-size="6.4" text-anchor="middle" fill="#111">10<tspan font-size="4.48" dy="-2.56">2</tspan></text>
<text x="475.71" y="440.4" font-family='"Liberation Serif", serif' font-size="6.4" text-anchor="middle" fill="#111">10<tspan font-size="4.48" dy="-2.56">3</tspan></text>
<text x="499.55" y="440.4" font-family='"Liberation Serif", serif' font-size="6.4" text-anchor="middle" fill="#111">10<tspan font-size="4.48" dy="-2.56">4</tspan></text>
<text x="451.3" y="445.8" font-family='"Liberation Serif", serif' font-size="6.2" text-anchor="middle" fill="#111">FL1-Height</text>
<text x="1.3" y="14" font-family='"Liberation Sans", sans-serif' font-size="17.6" font-weight="bold" text-anchor="start" fill="#000" >A</text>
<text x="93.6" y="12.4" font-family='"Liberation Sans", sans-serif' font-size="14" font-weight="bold" text-anchor="start" fill="#000" letter-spacing="0.95">MHC-II</text>
<text x="270.3" y="14.6" font-family='"Liberation Sans", sans-serif' font-size="17.6" font-weight="bold" text-anchor="start" fill="#000" >B</text>
<text x="369.3" y="12.4" font-family='"Liberation Sans", sans-serif' font-size="14.2" font-weight="bold" text-anchor="start" fill="#000" letter-spacing="0.4">IFN<tspan fill="none">&#947;</tspan>RI</text>
<path d="M393.9 7.3 C394.4 5.3 395.9 5.1 396.6 7.4 L397.9 11.8 M401.2 5.3 L398.1 11.8 L397.9 14.9" fill="none" stroke="#000" stroke-width="1.75" stroke-linecap="round" stroke-linejoin="round"/>
<text x="107.1" y="36.8" font-family='"Liberation Serif", serif' font-size="6.7" font-weight="bold" text-anchor="start" fill="#111" >Untreated</text>
<text x="41.7" y="133.2" font-family='"Liberation Serif", serif' font-size="6.5" font-weight="bold" text-anchor="start" fill="#111" >100 U IFN&#947;/mL</text>
<text x="163.8" y="134.2" font-family='"Liberation Serif", serif' font-size="6.5" font-weight="bold" text-anchor="start" fill="#111" >10 U IFN&#947;/mL</text>
<text x="233.8" y="177" font-family='"Liberation Serif", serif' font-size="6.8" font-weight="bold" text-anchor="start" fill="#000" >4 h</text>
<text x="234.4" y="247.7" font-family='"Liberation Serif", serif' font-size="6.8" font-weight="bold" text-anchor="start" fill="#000" >8 h</text>
<text x="235.8" y="328.2" font-family='"Liberation Serif", serif' font-size="6.8" font-weight="bold" text-anchor="start" fill="#000" >12 h</text>
<text x="237.6" y="401.6" font-family='"Liberation Serif", serif' font-size="6.8" font-weight="bold" text-anchor="start" fill="#000" >16 h</text>
<text x="391" y="42.5" font-family='"Liberation Serif", serif' font-size="8.9" font-weight="normal" text-anchor="start" fill="#000" stroke="#000" stroke-width="0.1">Untreated</text>
<text x="367.3" y="70.7" font-family='"Liberation Serif", serif' font-size="5.6" font-weight="normal" text-anchor="start" fill="#111" >Isotype</text>
<text x="385.7" y="80.2" font-family='"Liberation Serif", serif' font-size="5.6" font-weight="normal" text-anchor="start" fill="#111" >IFN&#947;RI mAb</text>
<text x="303.4" y="127.8" font-family='"Liberation Serif", serif' font-size="8.7" font-weight="normal" text-anchor="start" fill="#000" stroke="#000" stroke-width="0.15">100 U IFN&#947;/mL</text>
<text x="428" y="125.6" font-family='"Liberation Serif", serif' font-size="8.7" font-weight="normal" text-anchor="start" fill="#000" stroke="#000" stroke-width="0.15">10 U IFN&#947;/mL</text>
<text x="500" y="164.4" font-family='"Liberation Serif", serif' font-size="8.6" font-weight="bold" text-anchor="start" fill="#000" >4 h</text>
<text x="501.9" y="248.3" font-family='"Liberation Serif", serif' font-size="8.6" font-weight="bold" text-anchor="start" fill="#000" >8 h</text>
<text x="501" y="328.5" font-family='"Liberation Serif", serif' font-size="8.6" font-weight="bold" text-anchor="start" fill="#000" >12 h</text>
<text x="503.7" y="409.5" font-family='"Liberation Serif", serif' font-size="8.6" font-weight="bold" text-anchor="start" fill="#000" >16 h</text>
</svg>
</body></html>
